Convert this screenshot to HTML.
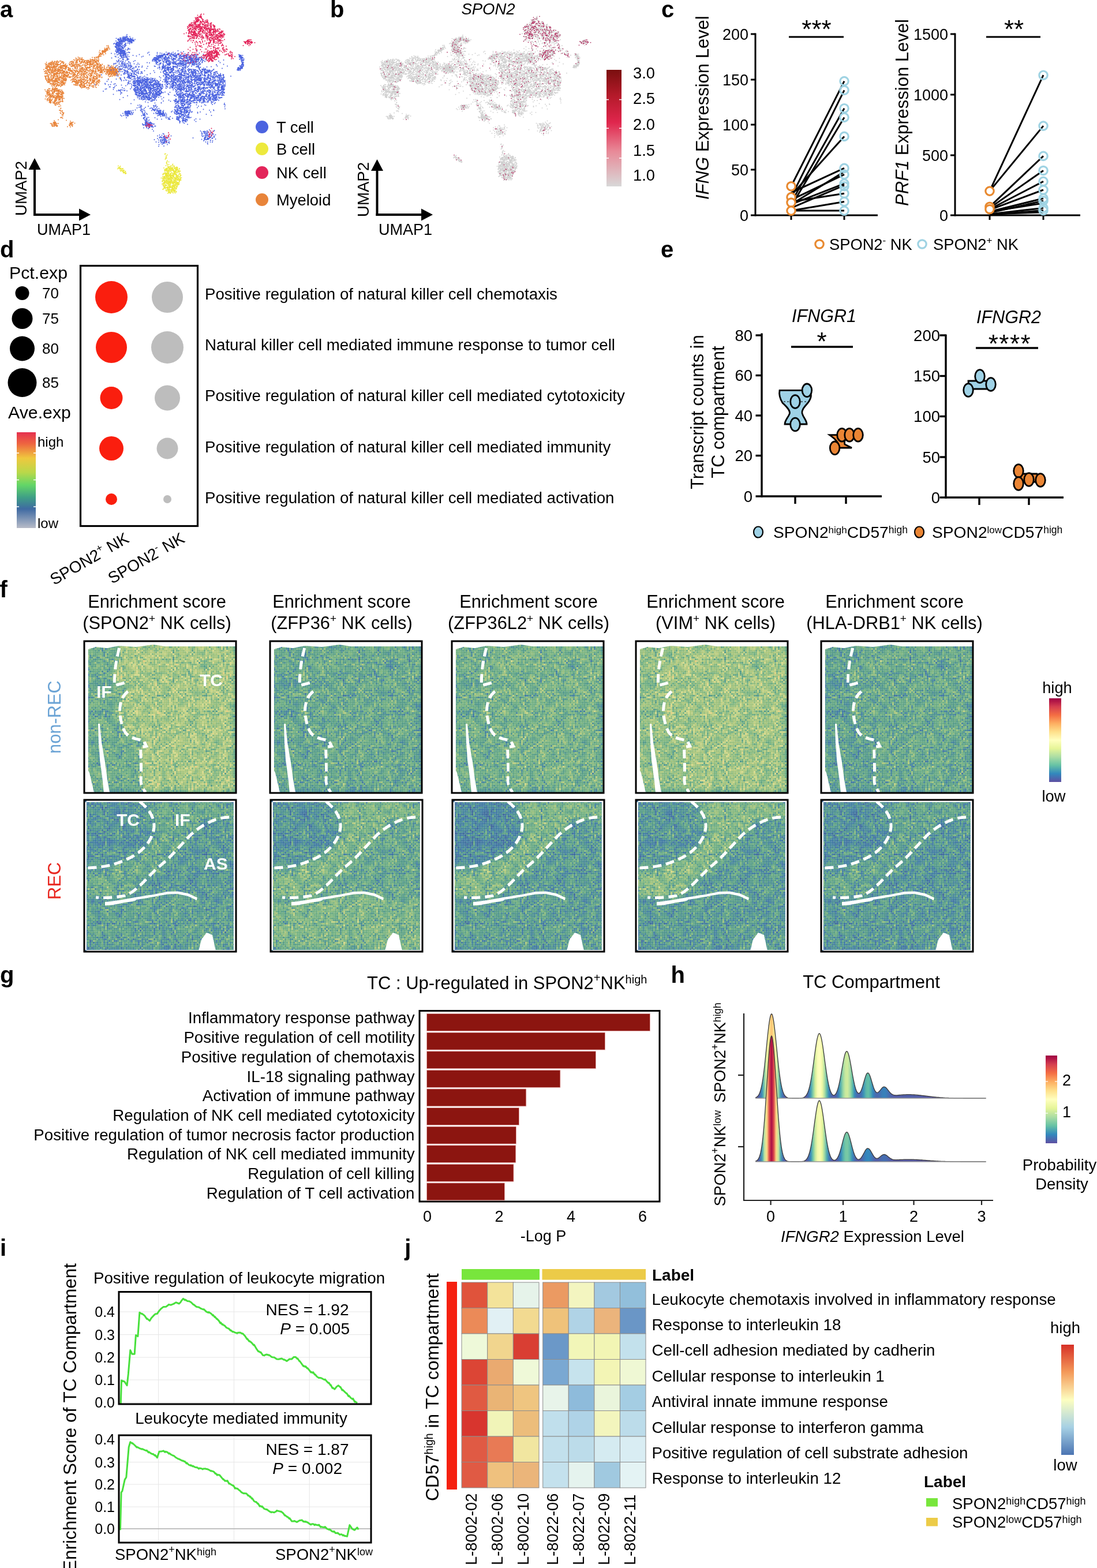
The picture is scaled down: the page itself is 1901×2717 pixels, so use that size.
<!DOCTYPE html>
<html><head><meta charset="utf-8"><title>Figure</title>
<style>html,body{margin:0;padding:0;background:#fff;overflow:hidden;}svg{display:block;}
text{font-family:"Liberation Sans",Arial,Helvetica,sans-serif;}</style></head>
<body><svg width="1901" height="2717" viewBox="0 0 1901 2717">
<rect width="1901" height="2717" fill="#fff"/>
<text x="0" y="30" font-size="40" font-weight="bold">a</text>
<text x="572" y="30" font-size="40" font-weight="bold">b</text>
<text x="1146" y="30" font-size="40" font-weight="bold">c</text>
<text x="0" y="446" font-size="40" font-weight="bold">d</text>
<text x="1145" y="446" font-size="40" font-weight="bold">e</text>
<text x="-0.5" y="1035" font-size="40" font-weight="bold">f</text>
<text x="0" y="1703" font-size="40" font-weight="bold">g</text>
<text x="1162.5" y="1703" font-size="40" font-weight="bold">h</text>
<text x="0" y="2175.5" font-size="40" font-weight="bold">i</text>
<text x="701.2" y="2175.5" font-size="40" font-weight="bold">j</text>
<line x1="60" y1="374" x2="60" y2="292" stroke="#000" stroke-width="4" />
<path d="M49.5 294L60 274L70.5 294z" fill="#000" />
<line x1="58" y1="372" x2="139" y2="372" stroke="#000" stroke-width="4" />
<path d="M137 361.5L157 372L137 382.5z" fill="#000" />
<text x="45.5" y="374" font-size="27.6" transform="rotate(-90 45.5 374)">UMAP2</text>
<text x="64" y="407" font-size="27">UMAP1</text>
<circle cx="454" cy="220" r="11" fill="#4b63e0" />
<text x="479" y="230" font-size="27.4">T cell</text>
<circle cx="454" cy="258" r="11" fill="#ede93d" />
<text x="479" y="268" font-size="27.4">B cell</text>
<circle cx="454" cy="299" r="11" fill="#e3255a" />
<text x="479" y="309" font-size="27.4">NK cell</text>
<circle cx="454" cy="346" r="11" fill="#e8843a" />
<text x="479" y="356" font-size="27.4">Myeloid</text>
<text x="846" y="24.5" font-size="27.5" text-anchor="middle" font-style="italic">SPON2</text>
<line x1="653.5" y1="374" x2="653.5" y2="294" stroke="#000" stroke-width="4" />
<path d="M643 296L653.5 276L664 296z" fill="#000" />
<line x1="651.5" y1="372" x2="732" y2="372" stroke="#000" stroke-width="4" />
<path d="M730 361.5L750 372L730 382.5z" fill="#000" />
<text x="638.5" y="376" font-size="27.6" transform="rotate(-90 638.5 376)">UMAP2</text>
<text x="656" y="407" font-size="27">UMAP1</text>
<defs><linearGradient id="gb" x1="0" y1="0" x2="0" y2="1"><stop offset="0" stop-color="#7a0f0f"/><stop offset="0.22" stop-color="#b41a2a"/><stop offset="0.45" stop-color="#e0264d"/><stop offset="0.7" stop-color="#e88a98"/><stop offset="1" stop-color="#d8d8d8"/></linearGradient></defs>
<rect x="1051" y="121" width="26" height="202" fill="url(#gb)" />
<text x="1097" y="135.8" font-size="27.3">3.0</text>
<text x="1097" y="179.8" font-size="27.3">2.5</text>
<text x="1097" y="224.8" font-size="27.3">2.0</text>
<text x="1097" y="269.8" font-size="27.3">1.5</text>
<text x="1097" y="312.8" font-size="27.3">1.0</text>
<line x1="1051" y1="172.6" x2="1055" y2="172.6" stroke="#fff" stroke-width="1.5" />
<line x1="1073" y1="172.6" x2="1077" y2="172.6" stroke="#fff" stroke-width="1.5" />
<line x1="1051" y1="222.3" x2="1055" y2="222.3" stroke="#fff" stroke-width="1.5" />
<line x1="1073" y1="222.3" x2="1077" y2="222.3" stroke="#fff" stroke-width="1.5" />
<line x1="1051" y1="274" x2="1055" y2="274" stroke="#fff" stroke-width="1.5" />
<line x1="1073" y1="274" x2="1077" y2="274" stroke="#fff" stroke-width="1.5" />
<line x1="1309" y1="57.5" x2="1309" y2="374.5" stroke="#000" stroke-width="3" />
<line x1="1301" y1="59" x2="1309" y2="59" stroke="#000" stroke-width="3" />
<text x="1297" y="68.6" font-size="27" text-anchor="end">200</text>
<line x1="1301" y1="138" x2="1309" y2="138" stroke="#000" stroke-width="3" />
<text x="1297" y="147.6" font-size="27" text-anchor="end">150</text>
<line x1="1301" y1="216" x2="1309" y2="216" stroke="#000" stroke-width="3" />
<text x="1297" y="225.6" font-size="27" text-anchor="end">100</text>
<line x1="1301" y1="294" x2="1309" y2="294" stroke="#000" stroke-width="3" />
<text x="1297" y="303.6" font-size="27" text-anchor="end">50</text>
<line x1="1301" y1="373" x2="1309" y2="373" stroke="#000" stroke-width="3" />
<text x="1297" y="382.6" font-size="27" text-anchor="end">0</text>
<line x1="1309" y1="373" x2="1521" y2="373" stroke="#000" stroke-width="3" />
<line x1="1371" y1="373" x2="1371" y2="381" stroke="#000" stroke-width="3" />
<line x1="1463" y1="373" x2="1463" y2="381" stroke="#000" stroke-width="3" />
<line x1="1367" y1="64" x2="1462" y2="64" stroke="#000" stroke-width="3" />
<text x="1415" y="66" font-size="44" text-anchor="middle">***</text>
<text x="1228" y="346" font-size="31" transform="rotate(-90 1228 346)"><tspan font-style="italic">IFNG</tspan> Expression Level</text>
<line x1="1655" y1="57.5" x2="1655" y2="374.5" stroke="#000" stroke-width="3" />
<line x1="1647" y1="59" x2="1655" y2="59" stroke="#000" stroke-width="3" />
<text x="1643" y="68.6" font-size="27" text-anchor="end">1500</text>
<line x1="1647" y1="164" x2="1655" y2="164" stroke="#000" stroke-width="3" />
<text x="1643" y="173.6" font-size="27" text-anchor="end">1000</text>
<line x1="1647" y1="269" x2="1655" y2="269" stroke="#000" stroke-width="3" />
<text x="1643" y="278.6" font-size="27" text-anchor="end">500</text>
<line x1="1647" y1="373" x2="1655" y2="373" stroke="#000" stroke-width="3" />
<text x="1643" y="382.6" font-size="27" text-anchor="end">0</text>
<line x1="1655" y1="373" x2="1872" y2="373" stroke="#000" stroke-width="3" />
<line x1="1715" y1="373" x2="1715" y2="381" stroke="#000" stroke-width="3" />
<line x1="1808" y1="373" x2="1808" y2="381" stroke="#000" stroke-width="3" />
<line x1="1709" y1="64" x2="1803" y2="64" stroke="#000" stroke-width="3" />
<text x="1757" y="66" font-size="44" text-anchor="middle">**</text>
<text x="1574" y="357" font-size="31" transform="rotate(-90 1574 357)"><tspan font-style="italic">PRF1</tspan> Expression Level</text>
<line x1="1371" y1="322.8" x2="1463" y2="140.6" stroke="#000" stroke-width="3" />
<line x1="1371" y1="341.6" x2="1463" y2="156.3" stroke="#000" stroke-width="3" />
<line x1="1371" y1="351" x2="1463" y2="187.7" stroke="#000" stroke-width="3" />
<line x1="1371" y1="357.3" x2="1463" y2="203.4" stroke="#000" stroke-width="3" />
<line x1="1371" y1="338.5" x2="1463" y2="236.4" stroke="#000" stroke-width="3" />
<line x1="1371" y1="333.8" x2="1463" y2="291.4" stroke="#000" stroke-width="3" />
<line x1="1371" y1="346.3" x2="1463" y2="302.4" stroke="#000" stroke-width="3" />
<line x1="1371" y1="354.2" x2="1463" y2="318.1" stroke="#000" stroke-width="3" />
<line x1="1371" y1="360.4" x2="1463" y2="321.2" stroke="#000" stroke-width="3" />
<line x1="1371" y1="349.4" x2="1463" y2="335.3" stroke="#000" stroke-width="3" />
<line x1="1371" y1="365.1" x2="1463" y2="349.4" stroke="#000" stroke-width="3" />
<line x1="1371" y1="365.1" x2="1463" y2="365.1" stroke="#000" stroke-width="3" />
<line x1="1371" y1="354.2" x2="1463" y2="297.6" stroke="#000" stroke-width="3" />
<circle cx="1371" cy="322.8" r="7.2" fill="#fff" stroke="#e8892f" stroke-width="3.2" />
<circle cx="1371" cy="341.6" r="7.2" fill="#fff" stroke="#e8892f" stroke-width="3.2" />
<circle cx="1371" cy="351" r="7.2" fill="#fff" stroke="#e8892f" stroke-width="3.2" />
<circle cx="1371" cy="365.1" r="7.2" fill="#fff" stroke="#e8892f" stroke-width="3.2" />
<circle cx="1463" cy="140.6" r="7.2" fill="none" stroke="#9fd3e3" stroke-width="3.2" />
<circle cx="1463" cy="156.3" r="7.2" fill="none" stroke="#9fd3e3" stroke-width="3.2" />
<circle cx="1463" cy="187.7" r="7.2" fill="none" stroke="#9fd3e3" stroke-width="3.2" />
<circle cx="1463" cy="203.4" r="7.2" fill="none" stroke="#9fd3e3" stroke-width="3.2" />
<circle cx="1463" cy="236.4" r="7.2" fill="none" stroke="#9fd3e3" stroke-width="3.2" />
<circle cx="1463" cy="291.4" r="7.2" fill="none" stroke="#9fd3e3" stroke-width="3.2" />
<circle cx="1463" cy="302.4" r="7.2" fill="none" stroke="#9fd3e3" stroke-width="3.2" />
<circle cx="1463" cy="318.1" r="7.2" fill="none" stroke="#9fd3e3" stroke-width="3.2" />
<circle cx="1463" cy="322.8" r="7.2" fill="none" stroke="#9fd3e3" stroke-width="3.2" />
<circle cx="1463" cy="335.3" r="7.2" fill="none" stroke="#9fd3e3" stroke-width="3.2" />
<circle cx="1463" cy="349.4" r="7.2" fill="none" stroke="#9fd3e3" stroke-width="3.2" />
<circle cx="1463" cy="365.1" r="7.2" fill="none" stroke="#9fd3e3" stroke-width="3.2" />
<line x1="1715" y1="331.1" x2="1808" y2="130.2" stroke="#000" stroke-width="3" />
<line x1="1715" y1="331.1" x2="1808" y2="218.1" stroke="#000" stroke-width="3" />
<line x1="1715" y1="358.3" x2="1808" y2="270.4" stroke="#000" stroke-width="3" />
<line x1="1715" y1="360.4" x2="1808" y2="295.5" stroke="#000" stroke-width="3" />
<line x1="1715" y1="362.5" x2="1808" y2="314.4" stroke="#000" stroke-width="3" />
<line x1="1715" y1="363.6" x2="1808" y2="329" stroke="#000" stroke-width="3" />
<line x1="1715" y1="366.7" x2="1808" y2="343.7" stroke="#000" stroke-width="3" />
<line x1="1715" y1="368.8" x2="1808" y2="347.9" stroke="#000" stroke-width="3" />
<line x1="1715" y1="370.9" x2="1808" y2="360.4" stroke="#000" stroke-width="3" />
<line x1="1715" y1="372" x2="1808" y2="364.6" stroke="#000" stroke-width="3" />
<line x1="1715" y1="366.7" x2="1808" y2="352.1" stroke="#000" stroke-width="3" />
<line x1="1715" y1="370.9" x2="1808" y2="367.8" stroke="#000" stroke-width="3" />
<circle cx="1715" cy="331.1" r="7.2" fill="#fff" stroke="#e8892f" stroke-width="3.2" />
<circle cx="1715" cy="358.3" r="7.2" fill="#fff" stroke="#e8892f" stroke-width="3.2" />
<circle cx="1715" cy="362.5" r="7.2" fill="#fff" stroke="#e8892f" stroke-width="3.2" />
<circle cx="1808" cy="130.2" r="7.2" fill="none" stroke="#9fd3e3" stroke-width="3.2" />
<circle cx="1808" cy="218.1" r="7.2" fill="none" stroke="#9fd3e3" stroke-width="3.2" />
<circle cx="1808" cy="270.4" r="7.2" fill="none" stroke="#9fd3e3" stroke-width="3.2" />
<circle cx="1808" cy="295.5" r="7.2" fill="none" stroke="#9fd3e3" stroke-width="3.2" />
<circle cx="1808" cy="314.4" r="7.2" fill="none" stroke="#9fd3e3" stroke-width="3.2" />
<circle cx="1808" cy="329" r="7.2" fill="none" stroke="#9fd3e3" stroke-width="3.2" />
<circle cx="1808" cy="343.7" r="7.2" fill="none" stroke="#9fd3e3" stroke-width="3.2" />
<circle cx="1808" cy="347.9" r="7.2" fill="none" stroke="#9fd3e3" stroke-width="3.2" />
<circle cx="1808" cy="360.4" r="7.2" fill="none" stroke="#9fd3e3" stroke-width="3.2" />
<circle cx="1808" cy="364.6" r="7.2" fill="none" stroke="#9fd3e3" stroke-width="3.2" />
<circle cx="1420" cy="423" r="7.2" fill="none" stroke="#e8892f" stroke-width="3.2" />
<text x="1437" y="433" font-size="27.3">SPON2<tspan font-size="17" dy="-11">-</tspan><tspan dy="11"> NK</tspan></text>
<circle cx="1598" cy="423" r="7.2" fill="none" stroke="#9fd3e3" stroke-width="3.2" />
<text x="1617" y="433" font-size="27.3">SPON2<tspan font-size="17" dy="-11">+</tspan><tspan dy="11"> NK</tspan></text>
<text x="16" y="483" font-size="30.3">Pct.exp</text>
<circle cx="38.5" cy="508" r="12" fill="#000" />
<text x="73" y="517.3" font-size="26">70</text>
<circle cx="38.5" cy="552" r="18" fill="#000" />
<text x="73" y="561.3" font-size="26">75</text>
<circle cx="38.5" cy="604" r="21.5" fill="#000" />
<text x="73" y="613.3" font-size="26">80</text>
<circle cx="38.5" cy="663" r="25" fill="#000" />
<text x="73" y="672.3" font-size="26">85</text>
<text x="14" y="724.5" font-size="30.3">Ave.exp</text>
<defs><linearGradient id="gd" x1="0" y1="0" x2="0" y2="1"><stop offset="0" stop-color="#e5304f"/><stop offset="0.12" stop-color="#ee6540"/><stop offset="0.27" stop-color="#efc83e"/><stop offset="0.42" stop-color="#b9d84a"/><stop offset="0.55" stop-color="#63d667"/><stop offset="0.68" stop-color="#3f9f86"/><stop offset="0.8" stop-color="#3f6aa2"/><stop offset="1" stop-color="#b8bcc8"/></linearGradient></defs>
<rect x="29" y="749" width="33" height="166" fill="url(#gd)" />
<line x1="29" y1="785" x2="33" y2="785" stroke="#fff" stroke-width="1.5" />
<line x1="58" y1="785" x2="62" y2="785" stroke="#fff" stroke-width="1.5" />
<line x1="29" y1="831.5" x2="33" y2="831.5" stroke="#fff" stroke-width="1.5" />
<line x1="58" y1="831.5" x2="62" y2="831.5" stroke="#fff" stroke-width="1.5" />
<line x1="29" y1="878" x2="33" y2="878" stroke="#fff" stroke-width="1.5" />
<line x1="58" y1="878" x2="62" y2="878" stroke="#fff" stroke-width="1.5" />
<text x="65" y="774" font-size="24">high</text>
<text x="65" y="915" font-size="24">low</text>
<rect x="139.5" y="460.5" width="203" height="451" fill="none" stroke="#000" stroke-width="3.2" />
<circle cx="193" cy="515" r="28" fill="#fa1e0e" />
<circle cx="290" cy="515" r="27" fill="#bdbdbd" />
<circle cx="193" cy="602" r="27" fill="#fa1e0e" />
<circle cx="290" cy="602" r="28" fill="#bdbdbd" />
<circle cx="193" cy="689.5" r="19.5" fill="#fa1e0e" />
<circle cx="290" cy="689.5" r="22" fill="#bdbdbd" />
<circle cx="193" cy="777" r="21" fill="#fa1e0e" />
<circle cx="290" cy="777" r="18.5" fill="#bdbdbd" />
<circle cx="193" cy="865" r="10" fill="#fa1e0e" />
<circle cx="290" cy="865" r="7" fill="#bdbdbd" />
<text x="355" y="519" font-size="27.7">Positive regulation of natural killer cell chemotaxis</text>
<text x="355" y="607" font-size="27.7">Natural killer cell mediated immune response to tumor cell</text>
<text x="355" y="695" font-size="27.7">Positive regulation of natural killer cell mediated cytotoxicity</text>
<text x="355" y="784" font-size="27.7">Positive regulation of natural killer cell mediated immunity</text>
<text x="355" y="872" font-size="27.7">Positive regulation of natural killer cell mediated activation</text>
<text x="225.5" y="938.5" font-size="28" text-anchor="end" transform="rotate(-30 225.5 938.5)">SPON2<tspan font-size="18" dy="-11">+</tspan><tspan dy="11"> NK</tspan></text>
<text x="322" y="938.5" font-size="28" text-anchor="end" transform="rotate(-30 322 938.5)">SPON2<tspan font-size="18" dy="-11">-</tspan><tspan dy="11"> NK</tspan></text>
<text x="1219" y="714" font-size="30.8" text-anchor="middle" transform="rotate(-90 1219 714)">Transcript counts in</text>
<text x="1255" y="714" font-size="30.8" text-anchor="middle" transform="rotate(-90 1255 714)">TC compartment</text>
<line x1="1320" y1="577.5" x2="1320" y2="861.7" stroke="#000" stroke-width="3.4" />
<line x1="1309.5" y1="581" x2="1320" y2="581" stroke="#000" stroke-width="3.4" />
<text x="1304" y="590.8" font-size="27.5" text-anchor="end">80</text>
<line x1="1309.5" y1="650.5" x2="1320" y2="650.5" stroke="#000" stroke-width="3.4" />
<text x="1304" y="660.3" font-size="27.5" text-anchor="end">60</text>
<line x1="1309.5" y1="720" x2="1320" y2="720" stroke="#000" stroke-width="3.4" />
<text x="1304" y="729.8" font-size="27.5" text-anchor="end">40</text>
<line x1="1309.5" y1="789.5" x2="1320" y2="789.5" stroke="#000" stroke-width="3.4" />
<text x="1304" y="799.3" font-size="27.5" text-anchor="end">20</text>
<line x1="1309.5" y1="860" x2="1320" y2="860" stroke="#000" stroke-width="3.4" />
<text x="1304" y="869.8" font-size="27.5" text-anchor="end">0</text>
<line x1="1320" y1="860" x2="1528" y2="860" stroke="#000" stroke-width="3.4" />
<line x1="1378" y1="860" x2="1378" y2="873" stroke="#000" stroke-width="3.4" />
<line x1="1466" y1="860" x2="1466" y2="873" stroke="#000" stroke-width="3.4" />
<line x1="1639" y1="579.5" x2="1639" y2="863.7" stroke="#000" stroke-width="3.4" />
<line x1="1628.5" y1="581" x2="1639" y2="581" stroke="#000" stroke-width="3.4" />
<text x="1629" y="590.8" font-size="27.5" text-anchor="end">200</text>
<line x1="1628.5" y1="651.5" x2="1639" y2="651.5" stroke="#000" stroke-width="3.4" />
<text x="1629" y="661.3" font-size="27.5" text-anchor="end">150</text>
<line x1="1628.5" y1="721.5" x2="1639" y2="721.5" stroke="#000" stroke-width="3.4" />
<text x="1629" y="731.3" font-size="27.5" text-anchor="end">100</text>
<line x1="1628.5" y1="792" x2="1639" y2="792" stroke="#000" stroke-width="3.4" />
<text x="1629" y="801.8" font-size="27.5" text-anchor="end">50</text>
<line x1="1628.5" y1="862" x2="1639" y2="862" stroke="#000" stroke-width="3.4" />
<text x="1629" y="871.8" font-size="27.5" text-anchor="end">0</text>
<line x1="1639" y1="862" x2="1843" y2="862" stroke="#000" stroke-width="3.4" />
<line x1="1697" y1="862" x2="1697" y2="875" stroke="#000" stroke-width="3.4" />
<line x1="1783" y1="862" x2="1783" y2="875" stroke="#000" stroke-width="3.4" />
<text x="1428" y="558" font-size="30.5" text-anchor="middle" font-style="italic">IFNGR1</text>
<text x="1748" y="560" font-size="30.5" text-anchor="middle" font-style="italic">IFNGR2</text>
<line x1="1371" y1="601" x2="1478" y2="601" stroke="#000" stroke-width="3.4" />
<text x="1424" y="607" font-size="44" text-anchor="middle">*</text>
<line x1="1691" y1="603" x2="1799" y2="603" stroke="#000" stroke-width="3.4" />
<text x="1750" y="611" font-size="44" text-anchor="middle" letter-spacing="1.5">****</text>
<path d="M1351 676.3 L1402 676.3 C1407 682 1406 690 1400 698 C1394 705 1389 710 1390 716 C1392 724 1398 728 1398 735 L1360 735 C1360 728 1367 722 1368.5 716 C1369 710 1362 704 1356 698 C1351 690 1350 682 1351 676.3Z" fill="#9fd2e6" stroke="#000" stroke-width="2.8" />
<line x1="1358" y1="696" x2="1400" y2="696" stroke="#000" stroke-width="1.2" stroke-dasharray="3 3"/>
<path d="M1437.5 753.7 L1470 753.7 C1466 760 1462 764 1464 770 L1476 776 L1450 776 C1455 770 1452 764 1437.5 753.7Z" fill="#ea8534" stroke="#000" stroke-width="2.8" />
<path d="M1678 660 L1712 660 C1718 664 1718 670 1712 674 L1684 674 C1678 670 1678 664 1678 660Z" fill="#9fd2e6" stroke="#000" stroke-width="2.8" />
<path d="M1766 821 L1797 821 C1800 826 1800 830 1797 835 L1766 835 C1764 830 1764 826 1766 821Z" fill="#ea8534" stroke="#000" stroke-width="2.8" />
<ellipse cx="1398.4" cy="676.3" rx="8.3" ry="11.3" fill="#9fd2e6" stroke="#000" stroke-width="2.8"/>
<ellipse cx="1378" cy="696" rx="8.3" ry="11.3" fill="#9fd2e6" stroke="#000" stroke-width="2.8"/>
<ellipse cx="1378" cy="735.5" rx="8.3" ry="11.3" fill="#9fd2e6" stroke="#000" stroke-width="2.8"/>
<ellipse cx="1446.6" cy="776.3" rx="8.3" ry="11.3" fill="#ea8534" stroke="#000" stroke-width="2.8"/>
<ellipse cx="1459" cy="753.7" rx="8.3" ry="11.3" fill="#ea8534" stroke="#000" stroke-width="2.8"/>
<ellipse cx="1472" cy="753.7" rx="8.3" ry="11.3" fill="#ea8534" stroke="#000" stroke-width="2.8"/>
<ellipse cx="1487" cy="753.7" rx="8.3" ry="11.3" fill="#ea8534" stroke="#000" stroke-width="2.8"/>
<ellipse cx="1678" cy="676" rx="8.3" ry="11.3" fill="#9fd2e6" stroke="#000" stroke-width="2.8"/>
<ellipse cx="1698" cy="652" rx="8.3" ry="11.3" fill="#9fd2e6" stroke="#000" stroke-width="2.8"/>
<ellipse cx="1717" cy="666" rx="8.3" ry="11.3" fill="#9fd2e6" stroke="#000" stroke-width="2.8"/>
<ellipse cx="1765" cy="816" rx="8.3" ry="11.3" fill="#ea8534" stroke="#000" stroke-width="2.8"/>
<ellipse cx="1765" cy="838" rx="8.3" ry="11.3" fill="#ea8534" stroke="#000" stroke-width="2.8"/>
<ellipse cx="1783" cy="831" rx="8.3" ry="11.3" fill="#ea8534" stroke="#000" stroke-width="2.8"/>
<ellipse cx="1803" cy="832" rx="8.3" ry="11.3" fill="#ea8534" stroke="#000" stroke-width="2.8"/>
<ellipse cx="1314" cy="922" rx="8" ry="9.5" fill="#9fd2e6" stroke="#000" stroke-width="2.2"/>
<text x="1340" y="932" font-size="28.2">SPON2<tspan font-size="17" dy="-8.5">high</tspan><tspan dy="8.5">CD57</tspan><tspan font-size="17.5" dy="-8.5">high</tspan></text>
<ellipse cx="1593" cy="922" rx="8" ry="9.5" fill="#ea8534" stroke="#000" stroke-width="2.2"/>
<text x="1615" y="932" font-size="28.2">SPON2<tspan font-size="17" dy="-8.5">low</tspan><tspan dy="8.5">CD57</tspan><tspan font-size="17.5" dy="-8.5">high</tspan></text>
<text x="272" y="1053" font-size="30.8" text-anchor="middle">Enrichment score</text>
<text x="272" y="1090" font-size="30.8" text-anchor="middle">(SPON2<tspan font-size="19" dy="-12">+</tspan><tspan dy="12"> NK cells)</tspan></text>
<text x="592" y="1053" font-size="30.8" text-anchor="middle">Enrichment score</text>
<text x="592" y="1090" font-size="30.8" text-anchor="middle">(ZFP36<tspan font-size="19" dy="-12">+</tspan><tspan dy="12"> NK cells)</tspan></text>
<text x="916" y="1053" font-size="30.8" text-anchor="middle">Enrichment score</text>
<text x="916" y="1090" font-size="30.8" text-anchor="middle">(ZFP36L2<tspan font-size="19" dy="-12">+</tspan><tspan dy="12"> NK cells)</tspan></text>
<text x="1240" y="1053" font-size="30.8" text-anchor="middle">Enrichment score</text>
<text x="1240" y="1090" font-size="30.8" text-anchor="middle">(VIM<tspan font-size="19" dy="-12">+</tspan><tspan dy="12"> NK cells)</tspan></text>
<text x="1550" y="1053" font-size="30.8" text-anchor="middle">Enrichment score</text>
<text x="1550" y="1090" font-size="30.8" text-anchor="middle">(HLA-DRB1<tspan font-size="19" dy="-12">+</tspan><tspan dy="12"> NK cells)</tspan></text>
<text x="105" y="1306" font-size="30.8" fill="#6aa3d5" transform="rotate(-90 105 1306)">non-REC</text>
<text x="105" y="1559" font-size="30.8" fill="#e8261f" transform="rotate(-90 105 1559)">REC</text>
<defs><filter id="spf" x="0" y="0" width="1" height="1" color-interpolation-filters="sRGB" primitiveUnits="userSpaceOnUse"><feGaussianBlur in="SourceGraphic" stdDeviation="5" result="b"/><feTurbulence type="fractalNoise" baseFrequency="0.3" numOctaves="1" seed="4" result="n"/><feTurbulence type="fractalNoise" baseFrequency="0.06" numOctaves="2" seed="9" result="n2"/><feComposite in="n" in2="n2" operator="arithmetic" k1="0" k2="0.72" k3="0.28" k4="0" result="nn"/><feColorMatrix in="nn" type="matrix" values="1 0 0 0 0 1 0 0 0 0 1 0 0 0 0 0 0 0 0 1" result="g"/><feComposite in="b" in2="g" operator="arithmetic" k1="0" k2="1" k3="0.8" k4="-0.38" result="v"/><feComponentTransfer in="v" result="col"><feFuncR type="table" tableValues="0.196 0.204 0.282 0.431 0.643 0.831 0.902 0.902 0.847 0.745 0.588"/><feFuncG type="table" tableValues="0.361 0.455 0.580 0.682 0.761 0.847 0.769 0.580 0.369 0.196 0.047"/><feFuncB type="table" tableValues="0.580 0.620 0.502 0.471 0.447 0.510 0.439 0.337 0.259 0.275 0.243"/><feFuncA type="linear" slope="0" intercept="1"/></feComponentTransfer><feFlood flood-color="#fff" x="1" y="1" width="1" height="1" result="dot"/><feComposite in="dot" in2="dot" operator="over" x="0" y="0" width="3" height="3" result="cell"/><feTile in="cell" result="grid"/><feComposite in="col" in2="grid" operator="in" result="samp"/><feMorphology in="samp" operator="dilate" radius="1"/></filter><pattern id="hexp" patternUnits="userSpaceOnUse" width="3" height="3"><path fill="#fff" d="M0 0h1v1h-1zM2 0h1v1h-1zM0 2h1v1h-1zM2 2h1v1h-1z"/></pattern></defs>
<g transform="translate(146 1111)">
<g filter="url(#spf)">
<rect x="0" y="0" width="263" height="263" fill="rgb(92,92,92)" />
<polygon points="0,0 62,0 55.6,35.3 52.3,77 70.7,72 75.8,87 64,100.6 61.5,120.6 65.7,139 69,155.4 85.9,168.8 102.7,172 107.7,182 97.7,183.6 97.7,202 99.3,222.2 97.7,240.8 106,264 0,264" fill="rgb(59,59,59)"/>
</g>
<path d="M0 0H263V9H140L120 6L90 10L60 8L40 12L20 10L7 14V263H0Z" fill="#fff" />
<path d="M0 212L9 228L17 262H0Z M24 143L27 143L30 175L36 210L40 240L44 262L34 262L31 235L27 205L25 175Z" fill="#fff" />
<rect x="0" y="0" width="263" height="263" fill="url(#hexp)" opacity="0.3"/>
<path d="M60.7 11.8C56 30 52 50 52.3 77L70.7 72M75.8 87C66 95 62 105 61.5 120.6C62 135 66 150 71 158C76 165 84 169 102.7 172L107.7 182L97.7 183.6C97.7 200 99.3 222 98 241C98 250 102 255 106 262" fill="none" stroke="#fff" stroke-width="5" stroke-dasharray="15 8"/>
<rect x="0" y="0" width="263" height="263" fill="none" stroke="#000" stroke-width="3" />
<text x="21" y="98" font-size="30" font-weight="bold" fill="#fff">IF</text>
<text x="200" y="78" font-size="30" font-weight="bold" fill="#fff">TC</text>
</g>
<g transform="translate(146 1386)">
<g filter="url(#spf)">
<rect x="0" y="0" width="263" height="263" fill="rgb(41,41,41)" />
<polygon points="96,0 264,0 264,28 251,30 230,30 205,42 185,60 165,80 150,100 128,117 108,135 90,160 70,166 50,170 20,169 0,169 0,118 40,117 60,110 80,100 100,90 118,72 121,48 122,30 112,15" fill="rgb(56,56,56)"/>
<polygon points="0,0 96,0 112,15 122,30 121,48 118,72 100,90 80,100 60,110 40,117 0,118" fill="rgb(36,36,36)"/>
<polygon points="0,172 37,178 70,174 110,170 150,163 170,165 196,174 264,174 264,264 0,264" fill="rgb(48,48,48)"/>
</g>
<path d="M0 0H263V4H0Z M0 0V263H4V0Z M259 0H263V263H259Z M0 260H263V263H0Z" fill="#fff" />
<path d="M198 262L203 242L212 230L222 234L228 262Z" fill="#fff" />
<polygon points="36,177 60,174 88,169 106,166 125,163 144,159 162,158.5 180,162 196,169.5 195,174 180,167 162,163 144,163.5 125,167 106,170.5 90,173 88,175 70,178 50,182 36,183" fill="#fff"/>
<rect x="0" y="0" width="263" height="263" fill="url(#hexp)" opacity="0.3"/>
<path d="M96 3C112 15 122 30 121 48C118 72 100 90 80 100C60 110 40 117 5 118" fill="none" stroke="#fff" stroke-width="5" stroke-dasharray="15 8"/>
<path d="M251 30C230 30 205 42 185 60C165 80 150 100 128 117C108 135 90 160 70 166C50 170 35 170 20 169" fill="none" stroke="#fff" stroke-width="5" stroke-dasharray="15 8"/>
<rect x="0" y="0" width="263" height="263" fill="none" stroke="#000" stroke-width="3" />
<text x="56" y="45" font-size="30" font-weight="bold" fill="#fff">TC</text>
<text x="157" y="45" font-size="30" font-weight="bold" fill="#fff">IF</text>
<text x="207" y="121" font-size="30" font-weight="bold" fill="#fff">AS</text>
</g>
<g transform="translate(468 1111)">
<g filter="url(#spf)">
<rect x="0" y="0" width="263" height="263" fill="rgb(56,56,56)" />
<polygon points="0,0 61,0 54.6,35.3 51.3,77 69.7,72 74.8,87 63,100.6 60.5,120.6 64.7,139 68,155.4 84.9,168.8 101.7,172 106.7,182 96.7,183.6 96.7,202 98.3,222.2 96.7,240.8 105,264 0,264" fill="rgb(51,51,51)"/>
</g>
<path d="M0 0H263V9H140L120 6L90 10L60 8L40 12L20 10L7 14V263H0Z" fill="#fff" />
<path d="M0 212L9 228L17 262H0Z M24 143L27 143L30 175L36 210L40 240L44 262L34 262L31 235L27 205L25 175Z" fill="#fff" />
<rect x="0" y="0" width="263" height="263" fill="url(#hexp)" opacity="0.3"/>
<path d="M59.7 11.8C55 30 51 50 51.3 77L69.7 72M74.8 87C65 95 61 105 60.5 120.6C61 135 65 150 70 158C75 165 83 169 101.7 172L106.7 182L96.7 183.6C96.7 200 98.3 222 97 241C97 250 101 255 105 262" fill="none" stroke="#fff" stroke-width="5" stroke-dasharray="15 8"/>
<rect x="0" y="0" width="263" height="263" fill="none" stroke="#000" stroke-width="3" />
</g>
<g transform="translate(469 1386)">
<g filter="url(#spf)">
<rect x="0" y="0" width="263" height="263" fill="rgb(54,54,54)" />
<polygon points="96,0 264,0 264,28 251,30 230,30 205,42 185,60 165,80 150,100 128,117 108,135 90,160 70,166 50,170 20,169 0,169 0,118 40,117 60,110 80,100 100,90 118,72 121,48 122,30 112,15" fill="rgb(69,69,69)"/>
<polygon points="0,0 96,0 112,15 122,30 121,48 118,72 100,90 80,100 60,110 40,117 0,118" fill="rgb(36,36,36)"/>
<polygon points="0,172 37,178 70,174 110,170 150,163 170,165 196,174 264,174 264,264 0,264" fill="rgb(69,69,69)"/>
</g>
<path d="M0 0H263V4H0Z M0 0V263H4V0Z M259 0H263V263H259Z M0 260H263V263H0Z" fill="#fff" />
<path d="M198 262L203 242L212 230L222 234L228 262Z" fill="#fff" />
<polygon points="36,177 60,174 88,169 106,166 125,163 144,159 162,158.5 180,162 196,169.5 195,174 180,167 162,163 144,163.5 125,167 106,170.5 90,173 88,175 70,178 50,182 36,183" fill="#fff"/>
<rect x="0" y="0" width="263" height="263" fill="url(#hexp)" opacity="0.3"/>
<path d="M96 3C112 15 122 30 121 48C118 72 100 90 80 100C60 110 40 117 5 118" fill="none" stroke="#fff" stroke-width="5" stroke-dasharray="15 8"/>
<path d="M251 30C230 30 205 42 185 60C165 80 150 100 128 117C108 135 90 160 70 166C50 170 35 170 20 169" fill="none" stroke="#fff" stroke-width="5" stroke-dasharray="15 8"/>
<rect x="0" y="0" width="263" height="263" fill="none" stroke="#000" stroke-width="3" />
</g>
<g transform="translate(783 1111)">
<g filter="url(#spf)">
<rect x="0" y="0" width="263" height="263" fill="rgb(66,66,66)" />
<polygon points="0,0 61,0 54.6,35.3 51.3,77 69.7,72 74.8,87 63,100.6 60.5,120.6 64.7,139 68,155.4 84.9,168.8 101.7,172 106.7,182 96.7,183.6 96.7,202 98.3,222.2 96.7,240.8 105,264 0,264" fill="rgb(59,59,59)"/>
</g>
<path d="M0 0H263V9H140L120 6L90 10L60 8L40 12L20 10L7 14V263H0Z" fill="#fff" />
<path d="M0 212L9 228L17 262H0Z M24 143L27 143L30 175L36 210L40 240L44 262L34 262L31 235L27 205L25 175Z" fill="#fff" />
<rect x="0" y="0" width="263" height="263" fill="url(#hexp)" opacity="0.3"/>
<path d="M59.7 11.8C55 30 51 50 51.3 77L69.7 72M74.8 87C65 95 61 105 60.5 120.6C61 135 65 150 70 158C75 165 83 169 101.7 172L106.7 182L96.7 183.6C96.7 200 98.3 222 97 241C97 250 101 255 105 262" fill="none" stroke="#fff" stroke-width="5" stroke-dasharray="15 8"/>
<rect x="0" y="0" width="263" height="263" fill="none" stroke="#000" stroke-width="3" />
</g>
<g transform="translate(784 1386)">
<g filter="url(#spf)">
<rect x="0" y="0" width="263" height="263" fill="rgb(43,43,43)" />
<polygon points="96,0 264,0 264,28 251,30 230,30 205,42 185,60 165,80 150,100 128,117 108,135 90,160 70,166 50,170 20,169 0,169 0,118 40,117 60,110 80,100 100,90 118,72 121,48 122,30 112,15" fill="rgb(69,69,69)"/>
<polygon points="0,0 96,0 112,15 122,30 121,48 118,72 100,90 80,100 60,110 40,117 0,118" fill="rgb(26,26,26)"/>
<polygon points="0,172 37,178 70,174 110,170 150,163 170,165 196,174 264,174 264,264 0,264" fill="rgb(46,46,46)"/>
</g>
<path d="M0 0H263V4H0Z M0 0V263H4V0Z M259 0H263V263H259Z M0 260H263V263H0Z" fill="#fff" />
<path d="M198 262L203 242L212 230L222 234L228 262Z" fill="#fff" />
<polygon points="36,177 60,174 88,169 106,166 125,163 144,159 162,158.5 180,162 196,169.5 195,174 180,167 162,163 144,163.5 125,167 106,170.5 90,173 88,175 70,178 50,182 36,183" fill="#fff"/>
<rect x="0" y="0" width="263" height="263" fill="url(#hexp)" opacity="0.3"/>
<path d="M96 3C112 15 122 30 121 48C118 72 100 90 80 100C60 110 40 117 5 118" fill="none" stroke="#fff" stroke-width="5" stroke-dasharray="15 8"/>
<path d="M251 30C230 30 205 42 185 60C165 80 150 100 128 117C108 135 90 160 70 166C50 170 35 170 20 169" fill="none" stroke="#fff" stroke-width="5" stroke-dasharray="15 8"/>
<rect x="0" y="0" width="263" height="263" fill="none" stroke="#000" stroke-width="3" />
</g>
<g transform="translate(1102 1111)">
<g filter="url(#spf)">
<rect x="0" y="0" width="263" height="263" fill="rgb(89,89,89)" />
<polygon points="0,0 48,0 41.6,35.3 38.3,77 56.7,72 61.8,87 50,100.6 47.5,120.6 51.7,139 55,155.4 71.9,168.8 88.7,172 93.7,182 83.7,183.6 83.7,202 85.3,222.2 83.7,240.8 92,264 0,264" fill="rgb(79,79,79)"/>
</g>
<path d="M0 0H263V9H140L120 6L90 10L60 8L40 12L20 10L7 14V263H0Z" fill="#fff" />
<path d="M0 212L9 228L17 262H0Z M24 143L27 143L30 175L36 210L40 240L44 262L34 262L31 235L27 205L25 175Z" fill="#fff" />
<rect x="0" y="0" width="263" height="263" fill="url(#hexp)" opacity="0.3"/>
<path d="M46.7 11.8C42 30 38 50 38.3 77L56.7 72M61.8 87C52 95 48 105 47.5 120.6C48 135 52 150 57 158C62 165 70 169 88.7 172L93.7 182L83.7 183.6C83.7 200 85.3 222 84 241C84 250 88 255 92 262" fill="none" stroke="#fff" stroke-width="5" stroke-dasharray="15 8"/>
<rect x="0" y="0" width="263" height="263" fill="none" stroke="#000" stroke-width="3" />
</g>
<g transform="translate(1102 1386)">
<g filter="url(#spf)">
<rect x="0" y="0" width="263" height="263" fill="rgb(43,43,43)" />
<polygon points="96,0 264,0 264,28 251,30 230,30 205,42 185,60 165,80 150,100 128,117 108,135 90,160 70,166 50,170 20,169 0,169 0,118 40,117 60,110 80,100 100,90 118,72 121,48 122,30 112,15" fill="rgb(74,74,74)"/>
<polygon points="0,0 96,0 112,15 122,30 121,48 118,72 100,90 80,100 60,110 40,117 0,118" fill="rgb(38,38,38)"/>
<polygon points="0,172 37,178 70,174 110,170 150,163 170,165 196,174 264,174 264,264 0,264" fill="rgb(43,43,43)"/>
</g>
<path d="M0 0H263V4H0Z M0 0V263H4V0Z M259 0H263V263H259Z M0 260H263V263H0Z" fill="#fff" />
<path d="M198 262L203 242L212 230L222 234L228 262Z" fill="#fff" />
<polygon points="36,177 60,174 88,169 106,166 125,163 144,159 162,158.5 180,162 196,169.5 195,174 180,167 162,163 144,163.5 125,167 106,170.5 90,173 88,175 70,178 50,182 36,183" fill="#fff"/>
<rect x="0" y="0" width="263" height="263" fill="url(#hexp)" opacity="0.3"/>
<path d="M96 3C112 15 122 30 121 48C118 72 100 90 80 100C60 110 40 117 5 118" fill="none" stroke="#fff" stroke-width="5" stroke-dasharray="15 8"/>
<path d="M251 30C230 30 205 42 185 60C165 80 150 100 128 117C108 135 90 160 70 166C50 170 35 170 20 169" fill="none" stroke="#fff" stroke-width="5" stroke-dasharray="15 8"/>
<rect x="0" y="0" width="263" height="263" fill="none" stroke="#000" stroke-width="3" />
</g>
<g transform="translate(1423 1111)">
<g filter="url(#spf)">
<rect x="0" y="0" width="263" height="263" fill="rgb(56,56,56)" />
<polygon points="0,0 56,0 49.6,35.3 46.3,77 64.7,72 69.8,87 58,100.6 55.5,120.6 59.7,139 63,155.4 79.9,168.8 96.7,172 101.7,182 91.7,183.6 91.7,202 93.3,222.2 91.7,240.8 100,264 0,264" fill="rgb(46,46,46)"/>
</g>
<path d="M0 0H263V9H140L120 6L90 10L60 8L40 12L20 10L7 14V263H0Z" fill="#fff" />
<path d="M0 212L9 228L17 262H0Z M24 143L27 143L30 175L36 210L40 240L44 262L34 262L31 235L27 205L25 175Z" fill="#fff" />
<rect x="0" y="0" width="263" height="263" fill="url(#hexp)" opacity="0.3"/>
<path d="M54.7 11.8C50 30 46 50 46.3 77L64.7 72M69.8 87C60 95 56 105 55.5 120.6C56 135 60 150 65 158C70 165 78 169 96.7 172L101.7 182L91.7 183.6C91.7 200 93.3 222 92 241C92 250 96 255 100 262" fill="none" stroke="#fff" stroke-width="5" stroke-dasharray="15 8"/>
<rect x="0" y="0" width="263" height="263" fill="none" stroke="#000" stroke-width="3" />
</g>
<g transform="translate(1423 1386)">
<g filter="url(#spf)">
<rect x="0" y="0" width="263" height="263" fill="rgb(38,38,38)" />
<polygon points="96,0 264,0 264,28 251,30 230,30 205,42 185,60 165,80 150,100 128,117 108,135 90,160 70,166 50,170 20,169 0,169 0,118 40,117 60,110 80,100 100,90 118,72 121,48 122,30 112,15" fill="rgb(51,51,51)"/>
<polygon points="0,0 96,0 112,15 122,30 121,48 118,72 100,90 80,100 60,110 40,117 0,118" fill="rgb(33,33,33)"/>
<polygon points="0,172 37,178 70,174 110,170 150,163 170,165 196,174 264,174 264,264 0,264" fill="rgb(41,41,41)"/>
</g>
<path d="M0 0H263V4H0Z M0 0V263H4V0Z M259 0H263V263H259Z M0 260H263V263H0Z" fill="#fff" />
<path d="M198 262L203 242L212 230L222 234L228 262Z" fill="#fff" />
<polygon points="36,177 60,174 88,169 106,166 125,163 144,159 162,158.5 180,162 196,169.5 195,174 180,167 162,163 144,163.5 125,167 106,170.5 90,173 88,175 70,178 50,182 36,183" fill="#fff"/>
<rect x="0" y="0" width="263" height="263" fill="url(#hexp)" opacity="0.3"/>
<path d="M96 3C112 15 122 30 121 48C118 72 100 90 80 100C60 110 40 117 5 118" fill="none" stroke="#fff" stroke-width="5" stroke-dasharray="15 8"/>
<path d="M251 30C230 30 205 42 185 60C165 80 150 100 128 117C108 135 90 160 70 166C50 170 35 170 20 169" fill="none" stroke="#fff" stroke-width="5" stroke-dasharray="15 8"/>
<rect x="0" y="0" width="263" height="263" fill="none" stroke="#000" stroke-width="3" />
</g>
<defs><linearGradient id="gf" x1="0" y1="1" x2="0" y2="0"><stop offset="0.00" stop-color="rgb(94,79,162)"/><stop offset="0.10" stop-color="rgb(50,136,189)"/><stop offset="0.20" stop-color="rgb(102,194,165)"/><stop offset="0.30" stop-color="rgb(171,221,164)"/><stop offset="0.40" stop-color="rgb(230,245,152)"/><stop offset="0.50" stop-color="rgb(255,255,191)"/><stop offset="0.60" stop-color="rgb(254,224,139)"/><stop offset="0.70" stop-color="rgb(253,174,97)"/><stop offset="0.80" stop-color="rgb(244,109,67)"/><stop offset="0.90" stop-color="rgb(213,62,79)"/><stop offset="1.00" stop-color="rgb(158,1,66)"/></linearGradient></defs>
<rect x="1818" y="1210" width="21" height="145" fill="url(#gf)" />
<text x="1832" y="1201" font-size="27.3" text-anchor="middle">high</text>
<text x="1826" y="1389" font-size="27.3" text-anchor="middle">low</text>
<text x="636" y="1714" font-size="31">TC : Up-regulated in SPON2<tspan font-size="20" dy="-13">+</tspan><tspan dy="13">NK</tspan><tspan font-size="20" dy="-10">high</tspan></text>
<rect x="727" y="1751.5" width="416" height="330.5" fill="none" stroke="#000" stroke-width="3" />
<rect x="739.5" y="1756.5" width="386.9" height="30" fill="#8c1510" stroke="#e8b0b0" stroke-width="0.8" />
<text x="718.5" y="1773.4" font-size="27.7" text-anchor="end">Inflammatory response pathway</text>
<rect x="739.5" y="1789.1" width="309.1" height="30" fill="#8c1510" stroke="#e8b0b0" stroke-width="0.8" />
<text x="718.5" y="1807.1" font-size="27.7" text-anchor="end">Positive regulation of cell motility</text>
<rect x="739.5" y="1821.7" width="293" height="30" fill="#8c1510" stroke="#e8b0b0" stroke-width="0.8" />
<text x="718.5" y="1840.8" font-size="27.7" text-anchor="end">Positive regulation of chemotaxis</text>
<rect x="739.5" y="1854.3" width="231.4" height="30" fill="#8c1510" stroke="#e8b0b0" stroke-width="0.8" />
<text x="718.5" y="1874.5" font-size="27.7" text-anchor="end">IL-18 signaling pathway</text>
<rect x="739.5" y="1886.9" width="172.3" height="30" fill="#8c1510" stroke="#e8b0b0" stroke-width="0.8" />
<text x="718.5" y="1908.2" font-size="27.7" text-anchor="end">Activation of immune pathway</text>
<rect x="739.5" y="1919.5" width="159.9" height="30" fill="#8c1510" stroke="#e8b0b0" stroke-width="0.8" />
<text x="718.5" y="1941.9" font-size="27.7" text-anchor="end">Regulation of NK cell mediated cytotoxicity</text>
<rect x="739.5" y="1952.1" width="154.9" height="30" fill="#8c1510" stroke="#e8b0b0" stroke-width="0.8" />
<text x="718.5" y="1975.6" font-size="27.7" text-anchor="end">Positive regulation of tumor necrosis factor production</text>
<rect x="739.5" y="1984.7" width="154.3" height="30" fill="#8c1510" stroke="#e8b0b0" stroke-width="0.8" />
<text x="718.5" y="2009.3" font-size="27.7" text-anchor="end">Regulation of NK cell mediated immunity</text>
<rect x="739.5" y="2017.3" width="150.5" height="30" fill="#8c1510" stroke="#e8b0b0" stroke-width="0.8" />
<text x="718.5" y="2043" font-size="27.7" text-anchor="end">Regulation of cell killing</text>
<rect x="739.5" y="2049.9" width="135" height="30" fill="#8c1510" stroke="#e8b0b0" stroke-width="0.8" />
<text x="718.5" y="2076.7" font-size="27.7" text-anchor="end">Regulation of T cell activation</text>
<text x="740.5" y="2117" font-size="27" text-anchor="middle">0</text>
<text x="865" y="2117" font-size="27" text-anchor="middle">2</text>
<text x="989.5" y="2117" font-size="27" text-anchor="middle">4</text>
<text x="1113.6" y="2117" font-size="27" text-anchor="middle">6</text>
<text x="941.5" y="2151" font-size="27" text-anchor="middle">-Log P</text>
<text x="1510" y="1712" font-size="31" text-anchor="middle">TC Compartment</text>
<defs><linearGradient id="hg1" gradientUnits="userSpaceOnUse" x1="1309" y1="0" x2="1708.5" y2="0"><stop offset="0.000" stop-color="#5c51a3"/><stop offset="0.010" stop-color="#5758a6"/><stop offset="0.020" stop-color="#496baf"/><stop offset="0.030" stop-color="#3e96b7"/><stop offset="0.040" stop-color="#8dd1a4"/><stop offset="0.050" stop-color="#eef8a4"/><stop offset="0.060" stop-color="#fee390"/><stop offset="0.070" stop-color="#fdc473"/><stop offset="0.080" stop-color="#fee28e"/><stop offset="0.090" stop-color="#eff9a6"/><stop offset="0.100" stop-color="#8fd2a4"/><stop offset="0.110" stop-color="#4097b7"/><stop offset="0.120" stop-color="#486baf"/><stop offset="0.130" stop-color="#5758a6"/><stop offset="0.140" stop-color="#5c51a3"/><stop offset="0.150" stop-color="#5e4fa2"/><stop offset="0.160" stop-color="#5e4fa2"/><stop offset="0.170" stop-color="#5e4fa2"/><stop offset="0.180" stop-color="#5e4fa2"/><stop offset="0.190" stop-color="#5e4fa2"/><stop offset="0.200" stop-color="#5d50a2"/><stop offset="0.210" stop-color="#5b53a4"/><stop offset="0.220" stop-color="#555ba8"/><stop offset="0.230" stop-color="#4470b2"/><stop offset="0.240" stop-color="#439bb5"/><stop offset="0.250" stop-color="#85cea5"/><stop offset="0.260" stop-color="#d8ef9b"/><stop offset="0.270" stop-color="#fafdb7"/><stop offset="0.280" stop-color="#ffffbe"/><stop offset="0.290" stop-color="#eef8a5"/><stop offset="0.300" stop-color="#b1dfa3"/><stop offset="0.310" stop-color="#5db8a9"/><stop offset="0.320" stop-color="#3682ba"/><stop offset="0.330" stop-color="#4d65ac"/><stop offset="0.340" stop-color="#545ca8"/><stop offset="0.350" stop-color="#4d65ac"/><stop offset="0.360" stop-color="#3880b9"/><stop offset="0.370" stop-color="#57b1ac"/><stop offset="0.380" stop-color="#98d6a4"/><stop offset="0.390" stop-color="#c8e99e"/><stop offset="0.400" stop-color="#cfec9d"/><stop offset="0.410" stop-color="#aadca4"/><stop offset="0.420" stop-color="#65c1a5"/><stop offset="0.430" stop-color="#368cbb"/><stop offset="0.440" stop-color="#476db0"/><stop offset="0.450" stop-color="#4d65ad"/><stop offset="0.460" stop-color="#4175b4"/><stop offset="0.470" stop-color="#3e96b7"/><stop offset="0.480" stop-color="#5cb6aa"/><stop offset="0.490" stop-color="#64c0a6"/><stop offset="0.500" stop-color="#51abaf"/><stop offset="0.510" stop-color="#3288bd"/><stop offset="0.520" stop-color="#466fb1"/><stop offset="0.530" stop-color="#4b68ae"/><stop offset="0.540" stop-color="#4471b2"/><stop offset="0.550" stop-color="#3a7db8"/><stop offset="0.560" stop-color="#3782ba"/><stop offset="0.570" stop-color="#3d7ab7"/><stop offset="0.580" stop-color="#476db0"/><stop offset="0.590" stop-color="#4f63ab"/><stop offset="0.600" stop-color="#535da9"/><stop offset="0.610" stop-color="#545ca8"/><stop offset="0.620" stop-color="#535da9"/><stop offset="0.630" stop-color="#535ea9"/><stop offset="0.640" stop-color="#525ea9"/><stop offset="0.650" stop-color="#525faa"/><stop offset="0.660" stop-color="#525faa"/><stop offset="0.670" stop-color="#525faa"/><stop offset="0.680" stop-color="#525faa"/><stop offset="0.690" stop-color="#525ea9"/><stop offset="0.700" stop-color="#535ea9"/><stop offset="0.710" stop-color="#545da8"/><stop offset="0.720" stop-color="#545ba8"/><stop offset="0.730" stop-color="#555aa7"/><stop offset="0.740" stop-color="#5659a7"/><stop offset="0.750" stop-color="#5758a6"/><stop offset="0.760" stop-color="#5856a6"/><stop offset="0.770" stop-color="#5955a5"/><stop offset="0.780" stop-color="#5a54a4"/><stop offset="0.790" stop-color="#5b53a4"/><stop offset="0.800" stop-color="#5b52a4"/><stop offset="0.810" stop-color="#5c52a3"/><stop offset="0.820" stop-color="#5c51a3"/><stop offset="0.830" stop-color="#5d51a3"/><stop offset="0.840" stop-color="#5d50a3"/><stop offset="0.850" stop-color="#5d50a2"/><stop offset="0.860" stop-color="#5e50a2"/><stop offset="0.870" stop-color="#5e4fa2"/><stop offset="0.880" stop-color="#5e4fa2"/><stop offset="0.890" stop-color="#5e4fa2"/><stop offset="0.900" stop-color="#5e4fa2"/><stop offset="0.910" stop-color="#5e4fa2"/><stop offset="0.920" stop-color="#5e4fa2"/><stop offset="0.930" stop-color="#5e4fa2"/><stop offset="0.940" stop-color="#5e4fa2"/><stop offset="0.950" stop-color="#5e4fa2"/><stop offset="0.960" stop-color="#5e4fa2"/><stop offset="0.970" stop-color="#5e4fa2"/><stop offset="0.980" stop-color="#5e4fa2"/><stop offset="0.990" stop-color="#5e4fa2"/><stop offset="1.000" stop-color="#5e4fa2"/></linearGradient></defs>
<path d="M1309 1903 L1309 1902.1 L1310 1901.7 L1311 1901.2 L1312 1900.5 L1313 1899.6 L1314 1898.3 L1315 1896.8 L1316 1894.7 L1317 1892.2 L1318 1889.1 L1319 1885.3 L1320 1880.8 L1321 1875.5 L1322 1869.4 L1323 1862.4 L1324 1854.6 L1325 1846 L1326 1836.8 L1327 1827.1 L1328 1817.1 L1329 1807 L1330 1797.1 L1331 1787.7 L1332 1779.1 L1333 1771.6 L1334 1765.4 L1335 1760.8 L1336 1757.9 L1337 1756.9 L1338 1757.7 L1338.9 1760.4 L1339.9 1764.9 L1340.9 1770.9 L1341.9 1778.3 L1342.9 1786.8 L1343.9 1796.2 L1344.9 1806 L1345.9 1816.1 L1346.9 1826.1 L1347.9 1835.9 L1348.9 1845.1 L1349.9 1853.8 L1350.9 1861.6 L1351.9 1868.7 L1352.9 1874.9 L1353.9 1880.3 L1354.9 1884.9 L1355.9 1888.8 L1356.9 1891.9 L1357.9 1894.5 L1358.9 1896.6 L1359.9 1898.2 L1360.9 1899.5 L1361.9 1900.4 L1362.9 1901.1 L1363.9 1901.7 L1364.9 1902.1 L1365.9 1902.4 L1366.9 1902.6 L1367.9 1902.7 L1368.9 1902.8 L1369.9 1902.9 L1370.9 1902.9 L1371.9 1902.9 L1372.9 1903 L1373.9 1903 L1374.9 1903 L1375.9 1903 L1376.9 1903 L1377.9 1903 L1378.9 1903 L1379.9 1903 L1380.9 1903 L1381.9 1903 L1382.9 1903 L1383.9 1903 L1384.9 1902.9 L1385.9 1902.9 L1386.9 1902.8 L1387.9 1902.8 L1388.9 1902.6 L1389.9 1902.5 L1390.9 1902.3 L1391.9 1902 L1392.9 1901.6 L1393.9 1901 L1394.9 1900.3 L1395.9 1899.4 L1396.9 1898.2 L1397.9 1896.7 L1398.9 1894.9 L1399.9 1892.7 L1400.9 1890 L1401.9 1886.7 L1402.9 1883 L1403.9 1878.6 L1404.9 1873.6 L1405.9 1868.1 L1406.9 1862 L1407.9 1855.4 L1408.9 1848.4 L1409.9 1841.1 L1410.9 1833.7 L1411.9 1826.3 L1412.9 1819.1 L1413.9 1812.4 L1414.9 1806.2 L1415.9 1800.9 L1416.9 1796.6 L1417.9 1793.4 L1418.8 1791.5 L1419.8 1790.8 L1420.8 1791.5 L1421.8 1793.5 L1422.8 1796.8 L1423.8 1801.2 L1424.8 1806.5 L1425.8 1812.7 L1426.8 1819.5 L1427.8 1826.7 L1428.8 1834 L1429.8 1841.5 L1430.8 1848.7 L1431.8 1855.7 L1432.8 1862.3 L1433.8 1868.3 L1434.8 1873.8 L1435.8 1878.7 L1436.8 1883 L1437.8 1886.7 L1438.8 1889.8 L1439.8 1892.3 L1440.8 1894.4 L1441.8 1895.9 L1442.8 1897 L1443.8 1897.6 L1444.8 1897.8 L1445.8 1897.7 L1446.8 1897.1 L1447.8 1896 L1448.8 1894.6 L1449.8 1892.6 L1450.8 1890.2 L1451.8 1887.2 L1452.8 1883.7 L1453.8 1879.7 L1454.8 1875.2 L1455.8 1870.3 L1456.8 1865 L1457.8 1859.4 L1458.8 1853.6 L1459.8 1847.9 L1460.8 1842.3 L1461.8 1837.1 L1462.8 1832.3 L1463.8 1828.3 L1464.8 1825.1 L1465.8 1822.9 L1466.8 1821.8 L1467.8 1821.7 L1468.8 1822.8 L1469.8 1824.9 L1470.8 1828 L1471.8 1832 L1472.8 1836.7 L1473.8 1841.9 L1474.8 1847.4 L1475.8 1853.2 L1476.8 1858.9 L1477.8 1864.5 L1478.8 1869.8 L1479.8 1874.7 L1480.8 1879.2 L1481.8 1883.1 L1482.8 1886.5 L1483.8 1889.3 L1484.8 1891.4 L1485.8 1893 L1486.8 1894 L1487.8 1894.5 L1488.8 1894.3 L1489.8 1893.6 L1490.8 1892.3 L1491.8 1890.5 L1492.8 1888.2 L1493.8 1885.5 L1494.8 1882.4 L1495.8 1879 L1496.8 1875.5 L1497.8 1872 L1498.8 1868.6 L1499.7 1865.6 L1500.7 1863 L1501.7 1860.9 L1502.7 1859.6 L1503.7 1859.1 L1504.7 1859.4 L1505.7 1860.4 L1506.7 1862.2 L1507.7 1864.6 L1508.7 1867.5 L1509.7 1870.7 L1510.7 1874.1 L1511.7 1877.5 L1512.7 1880.8 L1513.7 1883.9 L1514.7 1886.6 L1515.7 1888.9 L1516.7 1890.7 L1517.7 1892 L1518.7 1892.9 L1519.7 1893.3 L1520.7 1893.2 L1521.7 1892.8 L1522.7 1892 L1523.7 1891 L1524.7 1889.8 L1525.7 1888.6 L1526.7 1887.3 L1527.7 1886.1 L1528.7 1885 L1529.7 1884.1 L1530.7 1883.5 L1531.7 1883.2 L1532.7 1883.3 L1533.7 1883.6 L1534.7 1884.2 L1535.7 1885 L1536.7 1886.1 L1537.7 1887.3 L1538.7 1888.6 L1539.7 1889.9 L1540.7 1891.2 L1541.7 1892.4 L1542.7 1893.5 L1543.7 1894.5 L1544.7 1895.4 L1545.7 1896 L1546.7 1896.6 L1547.7 1897 L1548.7 1897.4 L1549.7 1897.6 L1550.7 1897.7 L1551.7 1897.8 L1552.7 1897.8 L1553.7 1897.8 L1554.7 1897.8 L1555.7 1897.7 L1556.7 1897.6 L1557.7 1897.5 L1558.7 1897.5 L1559.7 1897.4 L1560.7 1897.3 L1561.7 1897.2 L1562.7 1897.1 L1563.7 1897.1 L1564.7 1897 L1565.7 1896.9 L1566.7 1896.9 L1567.7 1896.8 L1568.7 1896.8 L1569.7 1896.8 L1570.7 1896.7 L1571.7 1896.7 L1572.7 1896.7 L1573.7 1896.7 L1574.7 1896.7 L1575.7 1896.7 L1576.7 1896.7 L1577.7 1896.7 L1578.7 1896.7 L1579.6 1896.8 L1580.6 1896.8 L1581.6 1896.9 L1582.6 1896.9 L1583.6 1897 L1584.6 1897 L1585.6 1897.1 L1586.6 1897.2 L1587.6 1897.2 L1588.6 1897.3 L1589.6 1897.4 L1590.6 1897.5 L1591.6 1897.6 L1592.6 1897.7 L1593.6 1897.8 L1594.6 1897.9 L1595.6 1898 L1596.6 1898.1 L1597.6 1898.3 L1598.6 1898.4 L1599.6 1898.5 L1600.6 1898.6 L1601.6 1898.7 L1602.6 1898.9 L1603.6 1899 L1604.6 1899.1 L1605.6 1899.2 L1606.6 1899.4 L1607.6 1899.5 L1608.6 1899.6 L1609.6 1899.7 L1610.6 1899.9 L1611.6 1900 L1612.6 1900.1 L1613.6 1900.2 L1614.6 1900.3 L1615.6 1900.5 L1616.6 1900.6 L1617.6 1900.7 L1618.6 1900.8 L1619.6 1900.9 L1620.6 1901 L1621.6 1901.1 L1622.6 1901.2 L1623.6 1901.3 L1624.6 1901.4 L1625.6 1901.5 L1626.6 1901.5 L1627.6 1901.6 L1628.6 1901.7 L1629.6 1901.8 L1630.6 1901.8 L1631.6 1901.9 L1632.6 1902 L1633.6 1902 L1634.6 1902.1 L1635.6 1902.2 L1636.6 1902.2 L1637.6 1902.3 L1638.6 1902.3 L1639.6 1902.4 L1640.6 1902.4 L1641.6 1902.4 L1642.6 1902.5 L1643.6 1902.5 L1644.6 1902.6 L1645.6 1902.6 L1646.6 1902.6 L1647.6 1902.6 L1648.6 1902.7 L1649.6 1902.7 L1650.6 1902.7 L1651.6 1902.7 L1652.6 1902.8 L1653.6 1902.8 L1654.6 1902.8 L1655.6 1902.8 L1656.6 1902.8 L1657.6 1902.8 L1658.6 1902.9 L1659.6 1902.9 L1660.5 1902.9 L1661.5 1902.9 L1662.5 1902.9 L1663.5 1902.9 L1664.5 1902.9 L1665.5 1902.9 L1666.5 1902.9 L1667.5 1902.9 L1668.5 1902.9 L1669.5 1903 L1670.5 1903 L1671.5 1903 L1672.5 1903 L1673.5 1903 L1674.5 1903 L1675.5 1903 L1676.5 1903 L1677.5 1903 L1678.5 1903 L1679.5 1903 L1680.5 1903 L1681.5 1903 L1682.5 1903 L1683.5 1903 L1684.5 1903 L1685.5 1903 L1686.5 1903 L1687.5 1903 L1688.5 1903 L1689.5 1903 L1690.5 1903 L1691.5 1903 L1692.5 1903 L1693.5 1903 L1694.5 1903 L1695.5 1903 L1696.5 1903 L1697.5 1903 L1698.5 1903 L1699.5 1903 L1700.5 1903 L1701.5 1903 L1702.5 1903 L1703.5 1903 L1704.5 1903 L1705.5 1903 L1706.5 1903 L1707.5 1903 L1708.5 1903 L1708.5 1903 Z" fill="url(#hg1)" />
<path d="M1309 1902.1 L1310 1901.7 L1311 1901.2 L1312 1900.5 L1313 1899.6 L1314 1898.3 L1315 1896.8 L1316 1894.7 L1317 1892.2 L1318 1889.1 L1319 1885.3 L1320 1880.8 L1321 1875.5 L1322 1869.4 L1323 1862.4 L1324 1854.6 L1325 1846 L1326 1836.8 L1327 1827.1 L1328 1817.1 L1329 1807 L1330 1797.1 L1331 1787.7 L1332 1779.1 L1333 1771.6 L1334 1765.4 L1335 1760.8 L1336 1757.9 L1337 1756.9 L1338 1757.7 L1338.9 1760.4 L1339.9 1764.9 L1340.9 1770.9 L1341.9 1778.3 L1342.9 1786.8 L1343.9 1796.2 L1344.9 1806 L1345.9 1816.1 L1346.9 1826.1 L1347.9 1835.9 L1348.9 1845.1 L1349.9 1853.8 L1350.9 1861.6 L1351.9 1868.7 L1352.9 1874.9 L1353.9 1880.3 L1354.9 1884.9 L1355.9 1888.8 L1356.9 1891.9 L1357.9 1894.5 L1358.9 1896.6 L1359.9 1898.2 L1360.9 1899.5 L1361.9 1900.4 L1362.9 1901.1 L1363.9 1901.7 L1364.9 1902.1 L1365.9 1902.4 L1366.9 1902.6 L1367.9 1902.7 L1368.9 1902.8 L1369.9 1902.9 L1370.9 1902.9 L1371.9 1902.9 L1372.9 1903 L1373.9 1903 L1374.9 1903 L1375.9 1903 L1376.9 1903 L1377.9 1903 L1378.9 1903 L1379.9 1903 L1380.9 1903 L1381.9 1903 L1382.9 1903 L1383.9 1903 L1384.9 1902.9 L1385.9 1902.9 L1386.9 1902.8 L1387.9 1902.8 L1388.9 1902.6 L1389.9 1902.5 L1390.9 1902.3 L1391.9 1902 L1392.9 1901.6 L1393.9 1901 L1394.9 1900.3 L1395.9 1899.4 L1396.9 1898.2 L1397.9 1896.7 L1398.9 1894.9 L1399.9 1892.7 L1400.9 1890 L1401.9 1886.7 L1402.9 1883 L1403.9 1878.6 L1404.9 1873.6 L1405.9 1868.1 L1406.9 1862 L1407.9 1855.4 L1408.9 1848.4 L1409.9 1841.1 L1410.9 1833.7 L1411.9 1826.3 L1412.9 1819.1 L1413.9 1812.4 L1414.9 1806.2 L1415.9 1800.9 L1416.9 1796.6 L1417.9 1793.4 L1418.8 1791.5 L1419.8 1790.8 L1420.8 1791.5 L1421.8 1793.5 L1422.8 1796.8 L1423.8 1801.2 L1424.8 1806.5 L1425.8 1812.7 L1426.8 1819.5 L1427.8 1826.7 L1428.8 1834 L1429.8 1841.5 L1430.8 1848.7 L1431.8 1855.7 L1432.8 1862.3 L1433.8 1868.3 L1434.8 1873.8 L1435.8 1878.7 L1436.8 1883 L1437.8 1886.7 L1438.8 1889.8 L1439.8 1892.3 L1440.8 1894.4 L1441.8 1895.9 L1442.8 1897 L1443.8 1897.6 L1444.8 1897.8 L1445.8 1897.7 L1446.8 1897.1 L1447.8 1896 L1448.8 1894.6 L1449.8 1892.6 L1450.8 1890.2 L1451.8 1887.2 L1452.8 1883.7 L1453.8 1879.7 L1454.8 1875.2 L1455.8 1870.3 L1456.8 1865 L1457.8 1859.4 L1458.8 1853.6 L1459.8 1847.9 L1460.8 1842.3 L1461.8 1837.1 L1462.8 1832.3 L1463.8 1828.3 L1464.8 1825.1 L1465.8 1822.9 L1466.8 1821.8 L1467.8 1821.7 L1468.8 1822.8 L1469.8 1824.9 L1470.8 1828 L1471.8 1832 L1472.8 1836.7 L1473.8 1841.9 L1474.8 1847.4 L1475.8 1853.2 L1476.8 1858.9 L1477.8 1864.5 L1478.8 1869.8 L1479.8 1874.7 L1480.8 1879.2 L1481.8 1883.1 L1482.8 1886.5 L1483.8 1889.3 L1484.8 1891.4 L1485.8 1893 L1486.8 1894 L1487.8 1894.5 L1488.8 1894.3 L1489.8 1893.6 L1490.8 1892.3 L1491.8 1890.5 L1492.8 1888.2 L1493.8 1885.5 L1494.8 1882.4 L1495.8 1879 L1496.8 1875.5 L1497.8 1872 L1498.8 1868.6 L1499.7 1865.6 L1500.7 1863 L1501.7 1860.9 L1502.7 1859.6 L1503.7 1859.1 L1504.7 1859.4 L1505.7 1860.4 L1506.7 1862.2 L1507.7 1864.6 L1508.7 1867.5 L1509.7 1870.7 L1510.7 1874.1 L1511.7 1877.5 L1512.7 1880.8 L1513.7 1883.9 L1514.7 1886.6 L1515.7 1888.9 L1516.7 1890.7 L1517.7 1892 L1518.7 1892.9 L1519.7 1893.3 L1520.7 1893.2 L1521.7 1892.8 L1522.7 1892 L1523.7 1891 L1524.7 1889.8 L1525.7 1888.6 L1526.7 1887.3 L1527.7 1886.1 L1528.7 1885 L1529.7 1884.1 L1530.7 1883.5 L1531.7 1883.2 L1532.7 1883.3 L1533.7 1883.6 L1534.7 1884.2 L1535.7 1885 L1536.7 1886.1 L1537.7 1887.3 L1538.7 1888.6 L1539.7 1889.9 L1540.7 1891.2 L1541.7 1892.4 L1542.7 1893.5 L1543.7 1894.5 L1544.7 1895.4 L1545.7 1896 L1546.7 1896.6 L1547.7 1897 L1548.7 1897.4 L1549.7 1897.6 L1550.7 1897.7 L1551.7 1897.8 L1552.7 1897.8 L1553.7 1897.8 L1554.7 1897.8 L1555.7 1897.7 L1556.7 1897.6 L1557.7 1897.5 L1558.7 1897.5 L1559.7 1897.4 L1560.7 1897.3 L1561.7 1897.2 L1562.7 1897.1 L1563.7 1897.1 L1564.7 1897 L1565.7 1896.9 L1566.7 1896.9 L1567.7 1896.8 L1568.7 1896.8 L1569.7 1896.8 L1570.7 1896.7 L1571.7 1896.7 L1572.7 1896.7 L1573.7 1896.7 L1574.7 1896.7 L1575.7 1896.7 L1576.7 1896.7 L1577.7 1896.7 L1578.7 1896.7 L1579.6 1896.8 L1580.6 1896.8 L1581.6 1896.9 L1582.6 1896.9 L1583.6 1897 L1584.6 1897 L1585.6 1897.1 L1586.6 1897.2 L1587.6 1897.2 L1588.6 1897.3 L1589.6 1897.4 L1590.6 1897.5 L1591.6 1897.6 L1592.6 1897.7 L1593.6 1897.8 L1594.6 1897.9 L1595.6 1898 L1596.6 1898.1 L1597.6 1898.3 L1598.6 1898.4 L1599.6 1898.5 L1600.6 1898.6 L1601.6 1898.7 L1602.6 1898.9 L1603.6 1899 L1604.6 1899.1 L1605.6 1899.2 L1606.6 1899.4 L1607.6 1899.5 L1608.6 1899.6 L1609.6 1899.7 L1610.6 1899.9 L1611.6 1900 L1612.6 1900.1 L1613.6 1900.2 L1614.6 1900.3 L1615.6 1900.5 L1616.6 1900.6 L1617.6 1900.7 L1618.6 1900.8 L1619.6 1900.9 L1620.6 1901 L1621.6 1901.1 L1622.6 1901.2 L1623.6 1901.3 L1624.6 1901.4 L1625.6 1901.5 L1626.6 1901.5 L1627.6 1901.6 L1628.6 1901.7 L1629.6 1901.8 L1630.6 1901.8 L1631.6 1901.9 L1632.6 1902 L1633.6 1902 L1634.6 1902.1 L1635.6 1902.2 L1636.6 1902.2 L1637.6 1902.3 L1638.6 1902.3 L1639.6 1902.4 L1640.6 1902.4 L1641.6 1902.4 L1642.6 1902.5 L1643.6 1902.5 L1644.6 1902.6 L1645.6 1902.6 L1646.6 1902.6 L1647.6 1902.6 L1648.6 1902.7 L1649.6 1902.7 L1650.6 1902.7 L1651.6 1902.7 L1652.6 1902.8 L1653.6 1902.8 L1654.6 1902.8 L1655.6 1902.8 L1656.6 1902.8 L1657.6 1902.8 L1658.6 1902.9 L1659.6 1902.9 L1660.5 1902.9 L1661.5 1902.9 L1662.5 1902.9 L1663.5 1902.9 L1664.5 1902.9 L1665.5 1902.9 L1666.5 1902.9 L1667.5 1902.9 L1668.5 1902.9 L1669.5 1903 L1670.5 1903 L1671.5 1903 L1672.5 1903 L1673.5 1903 L1674.5 1903 L1675.5 1903 L1676.5 1903 L1677.5 1903 L1678.5 1903 L1679.5 1903 L1680.5 1903 L1681.5 1903 L1682.5 1903 L1683.5 1903 L1684.5 1903 L1685.5 1903 L1686.5 1903 L1687.5 1903 L1688.5 1903 L1689.5 1903 L1690.5 1903 L1691.5 1903 L1692.5 1903 L1693.5 1903 L1694.5 1903 L1695.5 1903 L1696.5 1903 L1697.5 1903 L1698.5 1903 L1699.5 1903 L1700.5 1903 L1701.5 1903 L1702.5 1903 L1703.5 1903 L1704.5 1903 L1705.5 1903 L1706.5 1903 L1707.5 1903 L1708.5 1903" fill="none" stroke="#3a3a3a" stroke-width="1.3" />
<line x1="1309" y1="1903" x2="1708.5" y2="1903" stroke="#999" stroke-width="1.3" />
<defs><linearGradient id="hg2" gradientUnits="userSpaceOnUse" x1="1309" y1="0" x2="1708.5" y2="0"><stop offset="0.000" stop-color="#5d51a3"/><stop offset="0.010" stop-color="#5857a6"/><stop offset="0.020" stop-color="#476db0"/><stop offset="0.030" stop-color="#4ca5b1"/><stop offset="0.040" stop-color="#c3e79f"/><stop offset="0.050" stop-color="#feda86"/><stop offset="0.060" stop-color="#de4c4b"/><stop offset="0.070" stop-color="#a90d45"/><stop offset="0.080" stop-color="#dd4a4c"/><stop offset="0.090" stop-color="#fed783"/><stop offset="0.100" stop-color="#c7e89e"/><stop offset="0.110" stop-color="#4ea7b0"/><stop offset="0.120" stop-color="#466eb1"/><stop offset="0.130" stop-color="#5758a6"/><stop offset="0.140" stop-color="#5d51a3"/><stop offset="0.150" stop-color="#5e4fa2"/><stop offset="0.160" stop-color="#5e4fa2"/><stop offset="0.170" stop-color="#5e4fa2"/><stop offset="0.180" stop-color="#5e4fa2"/><stop offset="0.190" stop-color="#5e4fa2"/><stop offset="0.200" stop-color="#5e50a2"/><stop offset="0.210" stop-color="#5c51a3"/><stop offset="0.220" stop-color="#5758a6"/><stop offset="0.230" stop-color="#4a69ae"/><stop offset="0.240" stop-color="#388eba"/><stop offset="0.250" stop-color="#72c7a5"/><stop offset="0.260" stop-color="#c7e89e"/><stop offset="0.270" stop-color="#f2faab"/><stop offset="0.280" stop-color="#f8fcb4"/><stop offset="0.290" stop-color="#e7f59a"/><stop offset="0.300" stop-color="#9ed8a4"/><stop offset="0.310" stop-color="#50aaaf"/><stop offset="0.320" stop-color="#3e78b6"/><stop offset="0.330" stop-color="#525faa"/><stop offset="0.340" stop-color="#5956a5"/><stop offset="0.350" stop-color="#5759a7"/><stop offset="0.360" stop-color="#4b68ae"/><stop offset="0.370" stop-color="#3485bc"/><stop offset="0.380" stop-color="#53adae"/><stop offset="0.390" stop-color="#73c7a5"/><stop offset="0.400" stop-color="#79c9a5"/><stop offset="0.410" stop-color="#5db8a9"/><stop offset="0.420" stop-color="#3990ba"/><stop offset="0.430" stop-color="#466fb1"/><stop offset="0.440" stop-color="#535da8"/><stop offset="0.450" stop-color="#5659a7"/><stop offset="0.460" stop-color="#4f63ab"/><stop offset="0.470" stop-color="#4174b4"/><stop offset="0.480" stop-color="#3485bc"/><stop offset="0.490" stop-color="#348abc"/><stop offset="0.500" stop-color="#397fb9"/><stop offset="0.510" stop-color="#476db0"/><stop offset="0.520" stop-color="#5160aa"/><stop offset="0.530" stop-color="#525ea9"/><stop offset="0.540" stop-color="#4e64ac"/><stop offset="0.550" stop-color="#476cb0"/><stop offset="0.560" stop-color="#456fb1"/><stop offset="0.570" stop-color="#496aaf"/><stop offset="0.580" stop-color="#4f62ab"/><stop offset="0.590" stop-color="#545ba8"/><stop offset="0.600" stop-color="#5758a6"/><stop offset="0.610" stop-color="#5857a6"/><stop offset="0.620" stop-color="#5758a6"/><stop offset="0.630" stop-color="#5758a6"/><stop offset="0.640" stop-color="#5759a7"/><stop offset="0.650" stop-color="#5659a7"/><stop offset="0.660" stop-color="#5659a7"/><stop offset="0.670" stop-color="#5659a7"/><stop offset="0.680" stop-color="#5659a7"/><stop offset="0.690" stop-color="#5759a7"/><stop offset="0.700" stop-color="#5758a6"/><stop offset="0.710" stop-color="#5757a6"/><stop offset="0.720" stop-color="#5857a6"/><stop offset="0.730" stop-color="#5956a5"/><stop offset="0.740" stop-color="#5955a5"/><stop offset="0.750" stop-color="#5a54a5"/><stop offset="0.760" stop-color="#5a54a4"/><stop offset="0.770" stop-color="#5b53a4"/><stop offset="0.780" stop-color="#5c52a4"/><stop offset="0.790" stop-color="#5c52a3"/><stop offset="0.800" stop-color="#5c51a3"/><stop offset="0.810" stop-color="#5d51a3"/><stop offset="0.820" stop-color="#5d50a3"/><stop offset="0.830" stop-color="#5d50a2"/><stop offset="0.840" stop-color="#5d50a2"/><stop offset="0.850" stop-color="#5e50a2"/><stop offset="0.860" stop-color="#5e4fa2"/><stop offset="0.870" stop-color="#5e4fa2"/><stop offset="0.880" stop-color="#5e4fa2"/><stop offset="0.890" stop-color="#5e4fa2"/><stop offset="0.900" stop-color="#5e4fa2"/><stop offset="0.910" stop-color="#5e4fa2"/><stop offset="0.920" stop-color="#5e4fa2"/><stop offset="0.930" stop-color="#5e4fa2"/><stop offset="0.940" stop-color="#5e4fa2"/><stop offset="0.950" stop-color="#5e4fa2"/><stop offset="0.960" stop-color="#5e4fa2"/><stop offset="0.970" stop-color="#5e4fa2"/><stop offset="0.980" stop-color="#5e4fa2"/><stop offset="0.990" stop-color="#5e4fa2"/><stop offset="1.000" stop-color="#5e4fa2"/></linearGradient></defs>
<path d="M1309 2013 L1309 2012.3 L1310 2011.9 L1311 2011.4 L1312 2010.7 L1313 2009.7 L1314 2008.4 L1315 2006.6 L1316 2004.3 L1317 2001.3 L1318 1997.4 L1319 1992.6 L1320 1986.7 L1321 1979.5 L1322 1971 L1323 1961.1 L1324 1949.8 L1325 1937.1 L1326 1923.2 L1327 1908.4 L1328 1892.8 L1329 1876.9 L1330 1861.1 L1331 1845.9 L1332 1831.8 L1333 1819.5 L1334 1809.2 L1335 1801.5 L1336 1796.7 L1337 1795 L1338 1796.4 L1338.9 1800.9 L1339.9 1808.3 L1340.9 1818.4 L1341.9 1830.6 L1342.9 1844.5 L1343.9 1859.6 L1344.9 1875.3 L1345.9 1891.2 L1346.9 1906.9 L1347.9 1921.8 L1348.9 1935.8 L1349.9 1948.6 L1350.9 1960 L1351.9 1970.1 L1352.9 1978.7 L1353.9 1986 L1354.9 1992.1 L1355.9 1997 L1356.9 2000.9 L1357.9 2004 L1358.9 2006.4 L1359.9 2008.3 L1360.9 2009.6 L1361.9 2010.6 L1362.9 2011.4 L1363.9 2011.9 L1364.9 2012.3 L1365.9 2012.5 L1366.9 2012.7 L1367.9 2012.8 L1368.9 2012.9 L1369.9 2012.9 L1370.9 2013 L1371.9 2013 L1372.9 2013 L1373.9 2013 L1374.9 2013 L1375.9 2013 L1376.9 2013 L1377.9 2013 L1378.9 2013 L1379.9 2013 L1380.9 2013 L1381.9 2013 L1382.9 2013 L1383.9 2013 L1384.9 2013 L1385.9 2012.9 L1386.9 2012.9 L1387.9 2012.9 L1388.9 2012.8 L1389.9 2012.7 L1390.9 2012.5 L1391.9 2012.3 L1392.9 2012.1 L1393.9 2011.7 L1394.9 2011.1 L1395.9 2010.5 L1396.9 2009.5 L1397.9 2008.4 L1398.9 2006.9 L1399.9 2005 L1400.9 2002.8 L1401.9 2000 L1402.9 1996.7 L1403.9 1992.8 L1404.9 1988.3 L1405.9 1983.2 L1406.9 1977.5 L1407.9 1971.2 L1408.9 1964.5 L1409.9 1957.5 L1410.9 1950.2 L1411.9 1942.9 L1412.9 1935.8 L1413.9 1929 L1414.9 1922.8 L1415.9 1917.5 L1416.9 1913 L1417.9 1909.8 L1418.8 1907.8 L1419.8 1907.1 L1420.8 1907.9 L1421.8 1909.9 L1422.8 1913.2 L1423.8 1917.7 L1424.8 1923.1 L1425.8 1929.3 L1426.8 1936.1 L1427.8 1943.3 L1428.8 1950.6 L1429.8 1957.8 L1430.8 1964.9 L1431.8 1971.6 L1432.8 1977.8 L1433.8 1983.4 L1434.8 1988.5 L1435.8 1993 L1436.8 1996.8 L1437.8 2000.1 L1438.8 2002.8 L1439.8 2005 L1440.8 2006.8 L1441.8 2008.2 L1442.8 2009.2 L1443.8 2009.9 L1444.8 2010.3 L1445.8 2010.4 L1446.8 2010.3 L1447.8 2009.9 L1448.8 2009.2 L1449.8 2008.2 L1450.8 2007 L1451.8 2005.3 L1452.8 2003.4 L1453.8 2001 L1454.8 1998.3 L1455.8 1995.2 L1456.8 1991.8 L1457.8 1988.1 L1458.8 1984.2 L1459.8 1980.3 L1460.8 1976.4 L1461.8 1972.8 L1462.8 1969.4 L1463.8 1966.5 L1464.8 1964.2 L1465.8 1962.6 L1466.8 1961.8 L1467.8 1961.7 L1468.8 1962.5 L1469.8 1964.1 L1470.8 1966.3 L1471.8 1969.2 L1472.8 1972.5 L1473.8 1976.2 L1474.8 1980 L1475.8 1983.9 L1476.8 1987.8 L1477.8 1991.4 L1478.8 1994.9 L1479.8 1998 L1480.8 2000.7 L1481.8 2003 L1482.8 2004.9 L1483.8 2006.5 L1484.8 2007.7 L1485.8 2008.5 L1486.8 2008.9 L1487.8 2009.1 L1488.8 2008.9 L1489.8 2008.4 L1490.8 2007.7 L1491.8 2006.7 L1492.8 2005.4 L1493.8 2003.9 L1494.8 2002.2 L1495.8 2000.4 L1496.8 1998.5 L1497.8 1996.7 L1498.8 1994.9 L1499.7 1993.2 L1500.7 1991.9 L1501.7 1990.8 L1502.7 1990.1 L1503.7 1989.8 L1504.7 1990 L1505.7 1990.5 L1506.7 1991.4 L1507.7 1992.7 L1508.7 1994.2 L1509.7 1995.9 L1510.7 1997.7 L1511.7 1999.4 L1512.7 2001.2 L1513.7 2002.7 L1514.7 2004.1 L1515.7 2005.3 L1516.7 2006.2 L1517.7 2006.8 L1518.7 2007.2 L1519.7 2007.3 L1520.7 2007.1 L1521.7 2006.8 L1522.7 2006.2 L1523.7 2005.5 L1524.7 2004.7 L1525.7 2003.9 L1526.7 2003.1 L1527.7 2002.3 L1528.7 2001.6 L1529.7 2001 L1530.7 2000.6 L1531.7 2000.5 L1532.7 2000.5 L1533.7 2000.7 L1534.7 2001.1 L1535.7 2001.6 L1536.7 2002.3 L1537.7 2003 L1538.7 2003.9 L1539.7 2004.7 L1540.7 2005.5 L1541.7 2006.3 L1542.7 2007 L1543.7 2007.6 L1544.7 2008.2 L1545.7 2008.6 L1546.7 2009 L1547.7 2009.3 L1548.7 2009.5 L1549.7 2009.6 L1550.7 2009.7 L1551.7 2009.7 L1552.7 2009.8 L1553.7 2009.7 L1554.7 2009.7 L1555.7 2009.7 L1556.7 2009.6 L1557.7 2009.6 L1558.7 2009.5 L1559.7 2009.5 L1560.7 2009.4 L1561.7 2009.4 L1562.7 2009.3 L1563.7 2009.3 L1564.7 2009.3 L1565.7 2009.2 L1566.7 2009.2 L1567.7 2009.1 L1568.7 2009.1 L1569.7 2009.1 L1570.7 2009.1 L1571.7 2009.1 L1572.7 2009.1 L1573.7 2009.1 L1574.7 2009.1 L1575.7 2009.1 L1576.7 2009.1 L1577.7 2009.1 L1578.7 2009.1 L1579.6 2009.1 L1580.6 2009.1 L1581.6 2009.2 L1582.6 2009.2 L1583.6 2009.2 L1584.6 2009.3 L1585.6 2009.3 L1586.6 2009.4 L1587.6 2009.4 L1588.6 2009.5 L1589.6 2009.5 L1590.6 2009.6 L1591.6 2009.6 L1592.6 2009.7 L1593.6 2009.8 L1594.6 2009.8 L1595.6 2009.9 L1596.6 2010 L1597.6 2010 L1598.6 2010.1 L1599.6 2010.2 L1600.6 2010.3 L1601.6 2010.3 L1602.6 2010.4 L1603.6 2010.5 L1604.6 2010.6 L1605.6 2010.7 L1606.6 2010.7 L1607.6 2010.8 L1608.6 2010.9 L1609.6 2011 L1610.6 2011 L1611.6 2011.1 L1612.6 2011.2 L1613.6 2011.3 L1614.6 2011.3 L1615.6 2011.4 L1616.6 2011.5 L1617.6 2011.5 L1618.6 2011.6 L1619.6 2011.7 L1620.6 2011.7 L1621.6 2011.8 L1622.6 2011.9 L1623.6 2011.9 L1624.6 2012 L1625.6 2012 L1626.6 2012.1 L1627.6 2012.1 L1628.6 2012.2 L1629.6 2012.2 L1630.6 2012.3 L1631.6 2012.3 L1632.6 2012.4 L1633.6 2012.4 L1634.6 2012.4 L1635.6 2012.5 L1636.6 2012.5 L1637.6 2012.5 L1638.6 2012.6 L1639.6 2012.6 L1640.6 2012.6 L1641.6 2012.7 L1642.6 2012.7 L1643.6 2012.7 L1644.6 2012.7 L1645.6 2012.7 L1646.6 2012.8 L1647.6 2012.8 L1648.6 2012.8 L1649.6 2012.8 L1650.6 2012.8 L1651.6 2012.8 L1652.6 2012.9 L1653.6 2012.9 L1654.6 2012.9 L1655.6 2012.9 L1656.6 2012.9 L1657.6 2012.9 L1658.6 2012.9 L1659.6 2012.9 L1660.5 2012.9 L1661.5 2012.9 L1662.5 2012.9 L1663.5 2012.9 L1664.5 2013 L1665.5 2013 L1666.5 2013 L1667.5 2013 L1668.5 2013 L1669.5 2013 L1670.5 2013 L1671.5 2013 L1672.5 2013 L1673.5 2013 L1674.5 2013 L1675.5 2013 L1676.5 2013 L1677.5 2013 L1678.5 2013 L1679.5 2013 L1680.5 2013 L1681.5 2013 L1682.5 2013 L1683.5 2013 L1684.5 2013 L1685.5 2013 L1686.5 2013 L1687.5 2013 L1688.5 2013 L1689.5 2013 L1690.5 2013 L1691.5 2013 L1692.5 2013 L1693.5 2013 L1694.5 2013 L1695.5 2013 L1696.5 2013 L1697.5 2013 L1698.5 2013 L1699.5 2013 L1700.5 2013 L1701.5 2013 L1702.5 2013 L1703.5 2013 L1704.5 2013 L1705.5 2013 L1706.5 2013 L1707.5 2013 L1708.5 2013 L1708.5 2013 Z" fill="url(#hg2)" />
<path d="M1309 2012.3 L1310 2011.9 L1311 2011.4 L1312 2010.7 L1313 2009.7 L1314 2008.4 L1315 2006.6 L1316 2004.3 L1317 2001.3 L1318 1997.4 L1319 1992.6 L1320 1986.7 L1321 1979.5 L1322 1971 L1323 1961.1 L1324 1949.8 L1325 1937.1 L1326 1923.2 L1327 1908.4 L1328 1892.8 L1329 1876.9 L1330 1861.1 L1331 1845.9 L1332 1831.8 L1333 1819.5 L1334 1809.2 L1335 1801.5 L1336 1796.7 L1337 1795 L1338 1796.4 L1338.9 1800.9 L1339.9 1808.3 L1340.9 1818.4 L1341.9 1830.6 L1342.9 1844.5 L1343.9 1859.6 L1344.9 1875.3 L1345.9 1891.2 L1346.9 1906.9 L1347.9 1921.8 L1348.9 1935.8 L1349.9 1948.6 L1350.9 1960 L1351.9 1970.1 L1352.9 1978.7 L1353.9 1986 L1354.9 1992.1 L1355.9 1997 L1356.9 2000.9 L1357.9 2004 L1358.9 2006.4 L1359.9 2008.3 L1360.9 2009.6 L1361.9 2010.6 L1362.9 2011.4 L1363.9 2011.9 L1364.9 2012.3 L1365.9 2012.5 L1366.9 2012.7 L1367.9 2012.8 L1368.9 2012.9 L1369.9 2012.9 L1370.9 2013 L1371.9 2013 L1372.9 2013 L1373.9 2013 L1374.9 2013 L1375.9 2013 L1376.9 2013 L1377.9 2013 L1378.9 2013 L1379.9 2013 L1380.9 2013 L1381.9 2013 L1382.9 2013 L1383.9 2013 L1384.9 2013 L1385.9 2012.9 L1386.9 2012.9 L1387.9 2012.9 L1388.9 2012.8 L1389.9 2012.7 L1390.9 2012.5 L1391.9 2012.3 L1392.9 2012.1 L1393.9 2011.7 L1394.9 2011.1 L1395.9 2010.5 L1396.9 2009.5 L1397.9 2008.4 L1398.9 2006.9 L1399.9 2005 L1400.9 2002.8 L1401.9 2000 L1402.9 1996.7 L1403.9 1992.8 L1404.9 1988.3 L1405.9 1983.2 L1406.9 1977.5 L1407.9 1971.2 L1408.9 1964.5 L1409.9 1957.5 L1410.9 1950.2 L1411.9 1942.9 L1412.9 1935.8 L1413.9 1929 L1414.9 1922.8 L1415.9 1917.5 L1416.9 1913 L1417.9 1909.8 L1418.8 1907.8 L1419.8 1907.1 L1420.8 1907.9 L1421.8 1909.9 L1422.8 1913.2 L1423.8 1917.7 L1424.8 1923.1 L1425.8 1929.3 L1426.8 1936.1 L1427.8 1943.3 L1428.8 1950.6 L1429.8 1957.8 L1430.8 1964.9 L1431.8 1971.6 L1432.8 1977.8 L1433.8 1983.4 L1434.8 1988.5 L1435.8 1993 L1436.8 1996.8 L1437.8 2000.1 L1438.8 2002.8 L1439.8 2005 L1440.8 2006.8 L1441.8 2008.2 L1442.8 2009.2 L1443.8 2009.9 L1444.8 2010.3 L1445.8 2010.4 L1446.8 2010.3 L1447.8 2009.9 L1448.8 2009.2 L1449.8 2008.2 L1450.8 2007 L1451.8 2005.3 L1452.8 2003.4 L1453.8 2001 L1454.8 1998.3 L1455.8 1995.2 L1456.8 1991.8 L1457.8 1988.1 L1458.8 1984.2 L1459.8 1980.3 L1460.8 1976.4 L1461.8 1972.8 L1462.8 1969.4 L1463.8 1966.5 L1464.8 1964.2 L1465.8 1962.6 L1466.8 1961.8 L1467.8 1961.7 L1468.8 1962.5 L1469.8 1964.1 L1470.8 1966.3 L1471.8 1969.2 L1472.8 1972.5 L1473.8 1976.2 L1474.8 1980 L1475.8 1983.9 L1476.8 1987.8 L1477.8 1991.4 L1478.8 1994.9 L1479.8 1998 L1480.8 2000.7 L1481.8 2003 L1482.8 2004.9 L1483.8 2006.5 L1484.8 2007.7 L1485.8 2008.5 L1486.8 2008.9 L1487.8 2009.1 L1488.8 2008.9 L1489.8 2008.4 L1490.8 2007.7 L1491.8 2006.7 L1492.8 2005.4 L1493.8 2003.9 L1494.8 2002.2 L1495.8 2000.4 L1496.8 1998.5 L1497.8 1996.7 L1498.8 1994.9 L1499.7 1993.2 L1500.7 1991.9 L1501.7 1990.8 L1502.7 1990.1 L1503.7 1989.8 L1504.7 1990 L1505.7 1990.5 L1506.7 1991.4 L1507.7 1992.7 L1508.7 1994.2 L1509.7 1995.9 L1510.7 1997.7 L1511.7 1999.4 L1512.7 2001.2 L1513.7 2002.7 L1514.7 2004.1 L1515.7 2005.3 L1516.7 2006.2 L1517.7 2006.8 L1518.7 2007.2 L1519.7 2007.3 L1520.7 2007.1 L1521.7 2006.8 L1522.7 2006.2 L1523.7 2005.5 L1524.7 2004.7 L1525.7 2003.9 L1526.7 2003.1 L1527.7 2002.3 L1528.7 2001.6 L1529.7 2001 L1530.7 2000.6 L1531.7 2000.5 L1532.7 2000.5 L1533.7 2000.7 L1534.7 2001.1 L1535.7 2001.6 L1536.7 2002.3 L1537.7 2003 L1538.7 2003.9 L1539.7 2004.7 L1540.7 2005.5 L1541.7 2006.3 L1542.7 2007 L1543.7 2007.6 L1544.7 2008.2 L1545.7 2008.6 L1546.7 2009 L1547.7 2009.3 L1548.7 2009.5 L1549.7 2009.6 L1550.7 2009.7 L1551.7 2009.7 L1552.7 2009.8 L1553.7 2009.7 L1554.7 2009.7 L1555.7 2009.7 L1556.7 2009.6 L1557.7 2009.6 L1558.7 2009.5 L1559.7 2009.5 L1560.7 2009.4 L1561.7 2009.4 L1562.7 2009.3 L1563.7 2009.3 L1564.7 2009.3 L1565.7 2009.2 L1566.7 2009.2 L1567.7 2009.1 L1568.7 2009.1 L1569.7 2009.1 L1570.7 2009.1 L1571.7 2009.1 L1572.7 2009.1 L1573.7 2009.1 L1574.7 2009.1 L1575.7 2009.1 L1576.7 2009.1 L1577.7 2009.1 L1578.7 2009.1 L1579.6 2009.1 L1580.6 2009.1 L1581.6 2009.2 L1582.6 2009.2 L1583.6 2009.2 L1584.6 2009.3 L1585.6 2009.3 L1586.6 2009.4 L1587.6 2009.4 L1588.6 2009.5 L1589.6 2009.5 L1590.6 2009.6 L1591.6 2009.6 L1592.6 2009.7 L1593.6 2009.8 L1594.6 2009.8 L1595.6 2009.9 L1596.6 2010 L1597.6 2010 L1598.6 2010.1 L1599.6 2010.2 L1600.6 2010.3 L1601.6 2010.3 L1602.6 2010.4 L1603.6 2010.5 L1604.6 2010.6 L1605.6 2010.7 L1606.6 2010.7 L1607.6 2010.8 L1608.6 2010.9 L1609.6 2011 L1610.6 2011 L1611.6 2011.1 L1612.6 2011.2 L1613.6 2011.3 L1614.6 2011.3 L1615.6 2011.4 L1616.6 2011.5 L1617.6 2011.5 L1618.6 2011.6 L1619.6 2011.7 L1620.6 2011.7 L1621.6 2011.8 L1622.6 2011.9 L1623.6 2011.9 L1624.6 2012 L1625.6 2012 L1626.6 2012.1 L1627.6 2012.1 L1628.6 2012.2 L1629.6 2012.2 L1630.6 2012.3 L1631.6 2012.3 L1632.6 2012.4 L1633.6 2012.4 L1634.6 2012.4 L1635.6 2012.5 L1636.6 2012.5 L1637.6 2012.5 L1638.6 2012.6 L1639.6 2012.6 L1640.6 2012.6 L1641.6 2012.7 L1642.6 2012.7 L1643.6 2012.7 L1644.6 2012.7 L1645.6 2012.7 L1646.6 2012.8 L1647.6 2012.8 L1648.6 2012.8 L1649.6 2012.8 L1650.6 2012.8 L1651.6 2012.8 L1652.6 2012.9 L1653.6 2012.9 L1654.6 2012.9 L1655.6 2012.9 L1656.6 2012.9 L1657.6 2012.9 L1658.6 2012.9 L1659.6 2012.9 L1660.5 2012.9 L1661.5 2012.9 L1662.5 2012.9 L1663.5 2012.9 L1664.5 2013 L1665.5 2013 L1666.5 2013 L1667.5 2013 L1668.5 2013 L1669.5 2013 L1670.5 2013 L1671.5 2013 L1672.5 2013 L1673.5 2013 L1674.5 2013 L1675.5 2013 L1676.5 2013 L1677.5 2013 L1678.5 2013 L1679.5 2013 L1680.5 2013 L1681.5 2013 L1682.5 2013 L1683.5 2013 L1684.5 2013 L1685.5 2013 L1686.5 2013 L1687.5 2013 L1688.5 2013 L1689.5 2013 L1690.5 2013 L1691.5 2013 L1692.5 2013 L1693.5 2013 L1694.5 2013 L1695.5 2013 L1696.5 2013 L1697.5 2013 L1698.5 2013 L1699.5 2013 L1700.5 2013 L1701.5 2013 L1702.5 2013 L1703.5 2013 L1704.5 2013 L1705.5 2013 L1706.5 2013 L1707.5 2013 L1708.5 2013" fill="none" stroke="#3a3a3a" stroke-width="1.3" />
<line x1="1309" y1="2013" x2="1708.5" y2="2013" stroke="#999" stroke-width="1.3" />
<line x1="1289" y1="1756" x2="1289" y2="2081" stroke="#222" stroke-width="2.2" />
<line x1="1288" y1="2080" x2="1721" y2="2080" stroke="#222" stroke-width="2.2" />
<line x1="1279" y1="1863" x2="1289" y2="1863" stroke="#222" stroke-width="2.2" />
<line x1="1279" y1="1987" x2="1289" y2="1987" stroke="#222" stroke-width="2.2" />
<line x1="1335.6" y1="2080" x2="1335.6" y2="2088" stroke="#222" stroke-width="2.2" />
<text x="1335.6" y="2117" font-size="27" text-anchor="middle">0</text>
<line x1="1461" y1="2080" x2="1461" y2="2088" stroke="#222" stroke-width="2.2" />
<text x="1461" y="2117" font-size="27" text-anchor="middle">1</text>
<line x1="1583.5" y1="2080" x2="1583.5" y2="2088" stroke="#222" stroke-width="2.2" />
<text x="1583.5" y="2117" font-size="27" text-anchor="middle">2</text>
<line x1="1701" y1="2080" x2="1701" y2="2088" stroke="#222" stroke-width="2.2" />
<text x="1701" y="2117" font-size="27" text-anchor="middle">3</text>
<text x="1512" y="2152" font-size="27.5" text-anchor="middle"><tspan font-style="italic">IFNGR2</tspan> Expression Level</text>
<text x="1257" y="1824" font-size="27" text-anchor="middle" transform="rotate(-90 1257 1824)">SPON2<tspan font-size="18" dy="-12">+</tspan><tspan dy="12">NK</tspan><tspan font-size="18" dy="-8.5">high</tspan></text>
<text x="1257" y="2007" font-size="27" text-anchor="middle" transform="rotate(-90 1257 2007)">SPON2<tspan font-size="18" dy="-12">+</tspan><tspan dy="12">NK</tspan><tspan font-size="18" dy="-8.5">low</tspan></text>
<defs><linearGradient id="hcb" x1="0" y1="1" x2="0" y2="0"><stop offset="0.00" stop-color="rgb(94,79,162)"/><stop offset="0.10" stop-color="rgb(50,136,189)"/><stop offset="0.20" stop-color="rgb(102,194,165)"/><stop offset="0.30" stop-color="rgb(171,221,164)"/><stop offset="0.40" stop-color="rgb(230,245,152)"/><stop offset="0.50" stop-color="rgb(255,255,191)"/><stop offset="0.60" stop-color="rgb(254,224,139)"/><stop offset="0.70" stop-color="rgb(253,174,97)"/><stop offset="0.80" stop-color="rgb(244,109,67)"/><stop offset="0.90" stop-color="rgb(213,62,79)"/><stop offset="1.00" stop-color="rgb(158,1,66)"/></linearGradient></defs>
<rect x="1812" y="1829" width="20" height="152" fill="url(#hcb)" />
<line x1="1812" y1="1874" x2="1816" y2="1874" stroke="#fff" stroke-width="1.2" />
<line x1="1828" y1="1874" x2="1832" y2="1874" stroke="#fff" stroke-width="1.2" />
<text x="1841" y="1880.5" font-size="27">2</text>
<line x1="1812" y1="1929" x2="1816" y2="1929" stroke="#fff" stroke-width="1.2" />
<line x1="1828" y1="1929" x2="1832" y2="1929" stroke="#fff" stroke-width="1.2" />
<text x="1841" y="1935.5" font-size="27">1</text>
<text x="1836" y="2028" font-size="27.5" text-anchor="middle">Probability</text>
<text x="1840" y="2061" font-size="27.5" text-anchor="middle">Density</text>
<text x="131.5" y="2189" font-size="31.5" text-anchor="end" transform="rotate(-90 131.5 2189)">Enrichment Score of TC Compartment</text>
<text x="414.5" y="2224" font-size="27.8" text-anchor="middle">Positive regulation of leukocyte migration</text>
<line x1="206" y1="2273" x2="643" y2="2273" stroke="#e6e6e6" stroke-width="1" />
<line x1="206" y1="2312.6" x2="643" y2="2312.6" stroke="#e6e6e6" stroke-width="1" />
<line x1="206" y1="2352" x2="643" y2="2352" stroke="#e6e6e6" stroke-width="1" />
<line x1="206" y1="2391" x2="643" y2="2391" stroke="#e6e6e6" stroke-width="1" />
<line x1="206" y1="2430" x2="643" y2="2430" stroke="#e6e6e6" stroke-width="1" />
<line x1="274.6" y1="2238.5" x2="274.6" y2="2433" stroke="#e6e6e6" stroke-width="1" />
<line x1="405.4" y1="2238.5" x2="405.4" y2="2433" stroke="#e6e6e6" stroke-width="1" />
<line x1="536.2" y1="2238.5" x2="536.2" y2="2433" stroke="#e6e6e6" stroke-width="1" />
<path d="M209.2 2433.3 L210.5 2391.9 L215.8 2394.1 L220.1 2400.7 L222.3 2381 L225.8 2339.6 L228.9 2346.2 L233.2 2346.2 L235.4 2313.5 L238.9 2315.6 L241.9 2274.2 L245.7 2276.9 L246.3 2276.3 L250.7 2279.9 L254.4 2285.4 L255 2284.8 L259.4 2288.6 L262 2284.3 L262.6 2283.6 L265.9 2279.9 L268.6 2277.3 L269.2 2276.7 L272.4 2276.4 L275.1 2272.4 L275.7 2271.4 L279 2267.7 L282.7 2264.9 L283.3 2264.5 L287.7 2264.2 L291.5 2261.6 L292.1 2260.6 L296.4 2261.2 L300.2 2259.5 L300.8 2259.4 L305.1 2256.8 L310.4 2259 L313.3 2255.9 L313.9 2254.7 L317.3 2250.3 L320.5 2252.8 L321.1 2252.1 L324.8 2254.6 L327.4 2254.8 L328 2254.8 L331.3 2256.8 L335.1 2260.6 L335.7 2260.5 L340 2264.2 L343.8 2265.1 L344.4 2264.9 L348.7 2267.7 L352.5 2269.1 L353.1 2268.5 L357.5 2272.9 L361.2 2274.5 L361.8 2273.5 L366.2 2276.4 L368.8 2279.5 L369.4 2278.7 L372.1 2282.5 L372.7 2281.7 L375.4 2285.5 L376 2285.1 L379.3 2288.6 L381.9 2292.9 L382.5 2291.7 L385.2 2295.4 L385.8 2294.5 L388.5 2297 L389.1 2296.7 L392.3 2300.4 L395.5 2302 L396.1 2301.9 L399.4 2305.4 L400 2305 L403.2 2307.8 L403.8 2307.4 L407.6 2309.1 L411.3 2310.3 L411.9 2309.3 L416.3 2309.1 L420.1 2311.1 L420.7 2310.8 L425 2315.6 L428.1 2320.3 L428.7 2319.8 L431.7 2324.2 L432.3 2323.7 L435.9 2326.5 L439.7 2330.9 L440.3 2330.1 L444.6 2337.4 L447.7 2341.8 L448.3 2341.5 L451.3 2343.6 L451.9 2343.2 L455.5 2348.3 L458.2 2348.9 L458.8 2348 L462.1 2347 L465.8 2348.2 L466.4 2347.9 L470.8 2351.4 L474.6 2352.1 L475.2 2352 L479.5 2354.9 L483.3 2355.2 L483.9 2355 L488.2 2354 L492 2356.3 L492.6 2355.8 L496.9 2358.4 L500.7 2355.8 L501.3 2354.9 L505.7 2354.9 L508.3 2352.2 L508.9 2351.4 L512.2 2351.4 L515.2 2354.5 L515.8 2354 L518.9 2358.8 L519.5 2358.5 L523.1 2363.6 L525.8 2367.5 L526.4 2366.6 L529 2368.5 L529.6 2367.5 L532.3 2371 L532.9 2370.5 L536.2 2374.5 L538.9 2378.1 L539.5 2377.4 L542.1 2378.9 L542.7 2377.7 L545.4 2381.9 L546 2381.6 L549.3 2385.4 L552.3 2387.6 L552.9 2387.2 L555.9 2387.8 L556.5 2387.7 L560.2 2389.8 L562.8 2390.9 L563.4 2390.2 L566.7 2394.1 L569.4 2396.7 L570 2396 L572.6 2400.3 L573.2 2399.8 L575.9 2405.1 L576.5 2404.5 L579.8 2407.2 L582.4 2404.1 L583 2403.1 L586.3 2400.7 L589.3 2403.5 L589.9 2403.3 L593 2409 L593.6 2408 L597.2 2411.6 L600.2 2414.5 L600.8 2414.3 L603.9 2419.4 L604.5 2418.3 L608.1 2422.4 L611.1 2424.6 L611.7 2423.4 L614.8 2429.3 L615.4 2428.5 L619 2431.2" fill="none" stroke="#48e03c" stroke-width="3" stroke-linejoin="round"/>
<rect x="206" y="2238.5" width="437" height="194.5" fill="none" stroke="#000" stroke-width="3" />
<text x="199" y="2282" font-size="25" text-anchor="end">0.4</text>
<text x="199" y="2321.6" font-size="25" text-anchor="end">0.3</text>
<text x="199" y="2361" font-size="25" text-anchor="end">0.2</text>
<text x="199" y="2400" font-size="25" text-anchor="end">0.1</text>
<text x="199" y="2439" font-size="25" text-anchor="end">0.0</text>
<text x="604.5" y="2279" font-size="28" text-anchor="end">NES = 1.92</text>
<text x="606" y="2312" font-size="28" text-anchor="end"><tspan font-style="italic">P</tspan> = 0.005</text>
<text x="418" y="2467" font-size="27.8" text-anchor="middle">Leukocyte mediated immunity</text>
<line x1="206" y1="2494" x2="643" y2="2494" stroke="#e6e6e6" stroke-width="1" />
<line x1="206" y1="2533.6" x2="643" y2="2533.6" stroke="#e6e6e6" stroke-width="1" />
<line x1="206" y1="2572" x2="643" y2="2572" stroke="#e6e6e6" stroke-width="1" />
<line x1="206" y1="2611" x2="643" y2="2611" stroke="#e6e6e6" stroke-width="1" />
<line x1="206" y1="2649" x2="643" y2="2649" stroke="#e6e6e6" stroke-width="1" />
<line x1="274.6" y1="2487" x2="274.6" y2="2673" stroke="#e6e6e6" stroke-width="1" />
<line x1="405.4" y1="2487" x2="405.4" y2="2673" stroke="#e6e6e6" stroke-width="1" />
<line x1="536.2" y1="2487" x2="536.2" y2="2673" stroke="#e6e6e6" stroke-width="1" />
<line x1="206" y1="2649" x2="643" y2="2649" stroke="#b0b0b0" stroke-width="1.3" />
<path d="M208.4 2651.3 L210.1 2585.9 L211.9 2583.7 L216.2 2564.1 L218.8 2559.8 L223.2 2507.5 L225.8 2498.7 L228.9 2501.2 L229.5 2500.6 L233.2 2504 L237 2507.9 L237.6 2507.3 L241.9 2509.6 L245.7 2511.2 L246.3 2510.5 L250.7 2512.7 L253.7 2513.8 L254.3 2513.1 L257.3 2516.8 L257.9 2515.8 L261.6 2518.4 L264.6 2519.8 L265.2 2519.4 L268.2 2522.2 L268.8 2521.3 L272.4 2525.8 L275.9 2515.3 L279 2515.1 L279.6 2515.1 L283.3 2514 L286 2516.3 L286.6 2515.2 L289.9 2516.2 L292.6 2518.8 L293.2 2518 L296.4 2520.5 L300.2 2522.3 L300.8 2522.2 L305.1 2525.8 L308.9 2528 L309.5 2527.9 L313.9 2530.1 L316.5 2531.3 L317.1 2531 L319.8 2532.8 L320.4 2532.3 L323.1 2535.9 L323.7 2534.8 L326.9 2538 L330 2539.5 L330.6 2538.7 L333.6 2540.9 L334.2 2540.1 L337.8 2542.3 L340.9 2542.9 L341.5 2542.6 L344.5 2545.1 L345.1 2543.9 L348.7 2544.5 L351.4 2545.9 L352 2545.1 L354.7 2545.1 L355.3 2544.8 L357.9 2545.6 L358.5 2545.5 L361.8 2546.7 L365.6 2549.1 L366.2 2548.6 L370.5 2550.2 L373.2 2553.5 L373.8 2553 L376.5 2556.2 L377.1 2555.1 L379.7 2556.1 L380.3 2555.8 L383.6 2559.8 L386.5 2563.4 L387.1 2562.9 L390 2566.2 L390.6 2565.8 L393.5 2566.5 L394.1 2565.7 L397 2571 L397.6 2570.6 L401 2572.8 L403.9 2574.4 L404.5 2574 L407.4 2579.3 L408 2578.4 L410.9 2579.7 L411.5 2579.4 L414.4 2582.3 L415 2582.2 L418.5 2585.9 L422.2 2587.8 L422.8 2587.6 L427.2 2588.1 L429.9 2591.5 L430.5 2591 L433.1 2593.8 L433.7 2593 L436.4 2596.9 L437 2596.2 L440.3 2601.2 L443.2 2602.8 L443.8 2602.3 L446.7 2605.7 L447.3 2605.3 L450.1 2610.2 L450.7 2609.3 L453.6 2611.1 L454.2 2610.1 L457.7 2614.3 L461.5 2615.7 L462.1 2615.2 L466.4 2618.6 L470.2 2620.6 L470.8 2619.9 L475.2 2620.8 L478.9 2618.7 L479.5 2617.5 L483.9 2618.6 L486.5 2619.4 L487.1 2619.1 L490.4 2621.7 L493.6 2626 L494.2 2625.6 L497.4 2628.3 L498 2628.2 L501.3 2631.4 L501.9 2630.7 L505.7 2636.1 L509.4 2636 L510 2635.3 L514.4 2637.4 L518.1 2635.3 L518.7 2634.7 L523.1 2633.9 L525.8 2636.7 L526.4 2636.1 L529 2637.3 L529.6 2636.3 L532.3 2638 L532.9 2637.8 L536.2 2640.4 L538.9 2642 L539.5 2641 L542.1 2640.8 L542.7 2640.6 L545.4 2642.7 L546 2641.5 L549.3 2642.6 L552.1 2643.1 L552.7 2642 L555.6 2646.2 L556.2 2645.5 L559.1 2646.3 L559.7 2646.2 L562.6 2646.6 L563.2 2645.5 L566.7 2649.1 L570.5 2650.6 L571.1 2649.8 L575.4 2653.5 L578.1 2654.3 L578.7 2653.3 L581.4 2656.6 L582 2656.2 L584.6 2656.9 L585.2 2656 L588.5 2659.2 L591.2 2658.8 L591.8 2658.5 L594.4 2660.8 L595 2659.8 L597.7 2661.7 L598.3 2661.4 L601.6 2662.2 L605.9 2642.6 L610.3 2649.1 L614.6 2651.3 L619 2646.9 L621.2 2650.4" fill="none" stroke="#48e03c" stroke-width="3" stroke-linejoin="round"/>
<rect x="206" y="2487" width="437" height="186" fill="none" stroke="#000" stroke-width="3" />
<text x="199" y="2503" font-size="25" text-anchor="end">0.4</text>
<text x="199" y="2542.6" font-size="25" text-anchor="end">0.3</text>
<text x="199" y="2581" font-size="25" text-anchor="end">0.2</text>
<text x="199" y="2620" font-size="25" text-anchor="end">0.1</text>
<text x="199" y="2658" font-size="25" text-anchor="end">0.0</text>
<text x="604.5" y="2521" font-size="28" text-anchor="end">NES = 1.87</text>
<text x="593" y="2554" font-size="28" text-anchor="end"><tspan font-style="italic">P</tspan> = 0.002</text>
<text x="199" y="2703" font-size="27.5">SPON2<tspan font-size="18" dy="-12">+</tspan><tspan dy="12">NK</tspan><tspan font-size="18" dy="-8.5">high</tspan></text>
<text x="477" y="2703" font-size="27.5">SPON2<tspan font-size="18" dy="-12">+</tspan><tspan dy="12">NK</tspan><tspan font-size="18" dy="-8.5">low</tspan></text>
<rect x="800" y="2199" width="135" height="18.6" fill="#78e63c" />
<rect x="939.5" y="2199" width="179.5" height="18.6" fill="#eccb48" />
<text x="1130" y="2219" font-size="28" font-weight="bold">Label</text>
<rect x="774" y="2221" width="18" height="360" fill="#f5200f" />
<text x="760" y="2601" font-size="31.6" transform="rotate(-90 760 2601)">CD57<tspan font-size="19.5" dy="-10">high</tspan><tspan dy="10"> in TC compartment</tspan></text>
<rect x="800" y="2222" width="44.7" height="44.5" fill="#e0533b" stroke="#8c8c8c" stroke-width="1" />
<rect x="844.7" y="2222" width="44.7" height="44.5" fill="#f3e39a" stroke="#8c8c8c" stroke-width="1" />
<rect x="889.3" y="2222" width="44.7" height="44.5" fill="#e6f3ea" stroke="#8c8c8c" stroke-width="1" />
<rect x="940.7" y="2222" width="44.6" height="44.5" fill="#eb9a62" stroke="#8c8c8c" stroke-width="1" />
<rect x="985.3" y="2222" width="44.6" height="44.5" fill="#f3f5c0" stroke="#8c8c8c" stroke-width="1" />
<rect x="1029.9" y="2222" width="44.6" height="44.5" fill="#a3c9e0" stroke="#8c8c8c" stroke-width="1" />
<rect x="1074.4" y="2222" width="44.6" height="44.5" fill="#92bfdb" stroke="#8c8c8c" stroke-width="1" />
<rect x="800" y="2266.5" width="44.7" height="44.5" fill="#eb8a58" stroke="#8c8c8c" stroke-width="1" />
<rect x="844.7" y="2266.5" width="44.7" height="44.5" fill="#e1f0f4" stroke="#8c8c8c" stroke-width="1" />
<rect x="889.3" y="2266.5" width="44.7" height="44.5" fill="#f2da91" stroke="#8c8c8c" stroke-width="1" />
<rect x="940.7" y="2266.5" width="44.6" height="44.5" fill="#efc27a" stroke="#8c8c8c" stroke-width="1" />
<rect x="985.3" y="2266.5" width="44.6" height="44.5" fill="#b0d3e6" stroke="#8c8c8c" stroke-width="1" />
<rect x="1029.9" y="2266.5" width="44.6" height="44.5" fill="#ebb47c" stroke="#8c8c8c" stroke-width="1" />
<rect x="1074.4" y="2266.5" width="44.6" height="44.5" fill="#6a96c6" stroke="#8c8c8c" stroke-width="1" />
<rect x="800" y="2311" width="44.7" height="44.5" fill="#eef9d9" stroke="#8c8c8c" stroke-width="1" />
<rect x="844.7" y="2311" width="44.7" height="44.5" fill="#f1d58e" stroke="#8c8c8c" stroke-width="1" />
<rect x="889.3" y="2311" width="44.7" height="44.5" fill="#d93e33" stroke="#8c8c8c" stroke-width="1" />
<rect x="940.7" y="2311" width="44.6" height="44.5" fill="#6b98c8" stroke="#8c8c8c" stroke-width="1" />
<rect x="985.3" y="2311" width="44.6" height="44.5" fill="#f2f6b8" stroke="#8c8c8c" stroke-width="1" />
<rect x="1029.9" y="2311" width="44.6" height="44.5" fill="#f2f5b4" stroke="#8c8c8c" stroke-width="1" />
<rect x="1074.4" y="2311" width="44.6" height="44.5" fill="#c3e1ec" stroke="#8c8c8c" stroke-width="1" />
<rect x="800" y="2355.5" width="44.7" height="44.5" fill="#dc4535" stroke="#8c8c8c" stroke-width="1" />
<rect x="844.7" y="2355.5" width="44.7" height="44.5" fill="#eaaa70" stroke="#8c8c8c" stroke-width="1" />
<rect x="889.3" y="2355.5" width="44.7" height="44.5" fill="#eff9d8" stroke="#8c8c8c" stroke-width="1" />
<rect x="940.7" y="2355.5" width="44.6" height="44.5" fill="#7aa8d2" stroke="#8c8c8c" stroke-width="1" />
<rect x="985.3" y="2355.5" width="44.6" height="44.5" fill="#c6e3ed" stroke="#8c8c8c" stroke-width="1" />
<rect x="1029.9" y="2355.5" width="44.6" height="44.5" fill="#f3f5b5" stroke="#8c8c8c" stroke-width="1" />
<rect x="1074.4" y="2355.5" width="44.6" height="44.5" fill="#eff8d4" stroke="#8c8c8c" stroke-width="1" />
<rect x="800" y="2400" width="44.7" height="44.5" fill="#e05a42" stroke="#8c8c8c" stroke-width="1" />
<rect x="844.7" y="2400" width="44.7" height="44.5" fill="#eab475" stroke="#8c8c8c" stroke-width="1" />
<rect x="889.3" y="2400" width="44.7" height="44.5" fill="#efc580" stroke="#8c8c8c" stroke-width="1" />
<rect x="940.7" y="2400" width="44.6" height="44.5" fill="#e8f4ea" stroke="#8c8c8c" stroke-width="1" />
<rect x="985.3" y="2400" width="44.6" height="44.5" fill="#8ebbdb" stroke="#8c8c8c" stroke-width="1" />
<rect x="1029.9" y="2400" width="44.6" height="44.5" fill="#eaf5dc" stroke="#8c8c8c" stroke-width="1" />
<rect x="1074.4" y="2400" width="44.6" height="44.5" fill="#a4cde3" stroke="#8c8c8c" stroke-width="1" />
<rect x="800" y="2444.5" width="44.7" height="44.5" fill="#d8352e" stroke="#8c8c8c" stroke-width="1" />
<rect x="844.7" y="2444.5" width="44.7" height="44.5" fill="#f1f4b8" stroke="#8c8c8c" stroke-width="1" />
<rect x="889.3" y="2444.5" width="44.7" height="44.5" fill="#ecbd7b" stroke="#8c8c8c" stroke-width="1" />
<rect x="940.7" y="2444.5" width="44.6" height="44.5" fill="#c0dfec" stroke="#8c8c8c" stroke-width="1" />
<rect x="985.3" y="2444.5" width="44.6" height="44.5" fill="#afd3e7" stroke="#8c8c8c" stroke-width="1" />
<rect x="1029.9" y="2444.5" width="44.6" height="44.5" fill="#f3f5bd" stroke="#8c8c8c" stroke-width="1" />
<rect x="1074.4" y="2444.5" width="44.6" height="44.5" fill="#bcdcea" stroke="#8c8c8c" stroke-width="1" />
<rect x="800" y="2489" width="44.7" height="44.5" fill="#e05a44" stroke="#8c8c8c" stroke-width="1" />
<rect x="844.7" y="2489" width="44.7" height="44.5" fill="#e87a55" stroke="#8c8c8c" stroke-width="1" />
<rect x="889.3" y="2489" width="44.7" height="44.5" fill="#f1e6a0" stroke="#8c8c8c" stroke-width="1" />
<rect x="940.7" y="2489" width="44.6" height="44.5" fill="#c2e0ec" stroke="#8c8c8c" stroke-width="1" />
<rect x="985.3" y="2489" width="44.6" height="44.5" fill="#bcdcea" stroke="#8c8c8c" stroke-width="1" />
<rect x="1029.9" y="2489" width="44.6" height="44.5" fill="#d5ebf1" stroke="#8c8c8c" stroke-width="1" />
<rect x="1074.4" y="2489" width="44.6" height="44.5" fill="#d9edf3" stroke="#8c8c8c" stroke-width="1" />
<rect x="800" y="2533.5" width="44.7" height="44.5" fill="#e05a44" stroke="#8c8c8c" stroke-width="1" />
<rect x="844.7" y="2533.5" width="44.7" height="44.5" fill="#efc17e" stroke="#8c8c8c" stroke-width="1" />
<rect x="889.3" y="2533.5" width="44.7" height="44.5" fill="#ebb57a" stroke="#8c8c8c" stroke-width="1" />
<rect x="940.7" y="2533.5" width="44.6" height="44.5" fill="#c4e1ed" stroke="#8c8c8c" stroke-width="1" />
<rect x="985.3" y="2533.5" width="44.6" height="44.5" fill="#e5f3ee" stroke="#8c8c8c" stroke-width="1" />
<rect x="1029.9" y="2533.5" width="44.6" height="44.5" fill="#a0c9e0" stroke="#8c8c8c" stroke-width="1" />
<rect x="1074.4" y="2533.5" width="44.6" height="44.5" fill="#e4f3f4" stroke="#8c8c8c" stroke-width="1" />
<text x="1129.5" y="2260.5" font-size="27.7">Leukocyte chemotaxis involved in inflammatory response</text>
<text x="1129.5" y="2304.9" font-size="27.7">Response to interleukin 18</text>
<text x="1129.5" y="2349.3" font-size="27.7">Cell-cell adhesion mediated by cadherin</text>
<text x="1129.5" y="2393.7" font-size="27.7">Cellular response to interleukin 1</text>
<text x="1129.5" y="2438.1" font-size="27.7">Antiviral innate immune response</text>
<text x="1129.5" y="2482.5" font-size="27.7">Cellular response to interferon gamma</text>
<text x="1129.5" y="2526.9" font-size="27.7">Positive regulation of cell substrate adhesion</text>
<text x="1129.5" y="2571.3" font-size="27.7">Response to interleukin 12</text>
<text x="826.3" y="2712" font-size="27.3" transform="rotate(-90 826.3 2712)">L-8002-02</text>
<text x="871" y="2712" font-size="27.3" transform="rotate(-90 871 2712)">L-8002-06</text>
<text x="915.7" y="2712" font-size="27.3" transform="rotate(-90 915.7 2712)">L-8002-10</text>
<text x="967" y="2712" font-size="27.3" transform="rotate(-90 967 2712)">L-8022-06</text>
<text x="1011.6" y="2712" font-size="27.3" transform="rotate(-90 1011.6 2712)">L-8022-07</text>
<text x="1056.1" y="2712" font-size="27.3" transform="rotate(-90 1056.1 2712)">L-8022-09</text>
<text x="1100.7" y="2712" font-size="27.3" transform="rotate(-90 1100.7 2712)">L-8022-11</text>
<defs><linearGradient id="jcb" x1="0" y1="0" x2="0" y2="1"><stop offset="0" stop-color="#d73027"/><stop offset="0.25" stop-color="#f49a5a"/><stop offset="0.5" stop-color="#fdfec0"/><stop offset="0.75" stop-color="#a6d0e4"/><stop offset="1" stop-color="#4b74b2"/></linearGradient></defs>
<rect x="1839" y="2330" width="22" height="191" fill="url(#jcb)" />
<text x="1846" y="2310" font-size="27.5" text-anchor="middle">high</text>
<text x="1846" y="2548" font-size="27.5" text-anchor="middle">low</text>
<text x="1601" y="2577" font-size="28" font-weight="bold">Label</text>
<rect x="1605" y="2596" width="20" height="14.5" fill="#78e63c" />
<rect x="1605" y="2630" width="20" height="14.5" fill="#eccb48" />
<text x="1650" y="2615" font-size="27.5">SPON2<tspan font-size="18" dy="-8.5">high</tspan><tspan dy="8.5">CD57</tspan><tspan font-size="18" dy="-8.5">high</tspan></text>
<text x="1650" y="2647" font-size="27.5">SPON2<tspan font-size="18" dy="-8.5">low</tspan><tspan dy="8.5">CD57</tspan><tspan font-size="18" dy="-8.5">high</tspan></text>
<defs><path id="uM" d="M91.5 110.5h0m10.5 11h0m-22 2.5h0m16.5 18.5h0m7 4.5h0m11 -29h0m-23 25h0m13 -22h0m-24.5 -8.5h0m10 18.5h0m21.5 6.5h0m-11.5 6h0m-3.5 -3.5h0m-16.5 -7h0m34 -16h0m-10 5.5h0m-4.5 12.5h0m11.5 -16.5h0m-32 7.5h0m2 14h0m14.5 4.5h0m6.5 -2h0m-14 -17.5h0m-2.5 -9h0m18.5 0h0m-8.5 13.5h0m4 2.5h0m-3.5 -8.5h0m-9.5 -11.5h0m-2 9h0m19.5 -9h0m-8.5 -5.5h0m2.5 20h0m-5.5 -11h0m7.5 -5h0m1.5 37h0m-11.5 -25h0m10 18h0m14.5 -1h0m-27 -11.5h0m-8.5 -9.5h0m42.5 4.5h0m-3 -1.5h0m-34 -10h0m27.5 13h0m-28.5 9h0m27 -5.5h0m-17.5 12.5h0m1.5 6.5h0m-9.5 -37.5h0m1 32.5h0m7 -12.5h0m5 18.5h0m14.5 -33.5h0m-24.5 17.5h0m2.5 -8h0m3.5 22h0m4.5 -33.5h0m-13.5 12h0m4.5 2.5h0m-7 3.5h0m26 -4h0m6.5 -3h0m-17 13h0m-0.5 8.5h0m17.5 -30h0m-1 -4h0m-31.5 5h0m29.5 31h0m-4 -38.5h0m-11 18h0m-13.5 -3h0m2.5 -5h0m16.5 6h0m5 4.5h0m-23 -12.5h0m2.5 -5.5h0m27 7h0m-11.5 18.5h0m7 -11.5h0m-3 17h0m-12 -23.5h0m-6 -8.5h0m-5 1.5h0m7.5 5.5h0m8 -4.5h0m10.5 18h0m0.5 -6.5h0m-17 0h0m-1 16.5h0m3.5 -20.5h0m-14.5 19h0m33.5 -3.5h0m-23.5 -9.5h0m1 -5.5h0m6.5 8h0m-16.5 -6h0m7.5 -8.5h0m19.5 18h0m-14 -13h0m15.5 15h0m4.5 -3.5h0m-33.5 -2.5h0m28 12.5h0m-3 -4.5h0m-21 -14h0m14.5 9.5h0m10 7h0m-4.5 -32.5h0m-24.5 9.5h0m16 6.5h0m13 10h0m-26 -17.5h0m-4.5 0h0m25.5 2.5h0m-7 -8h0m-18 13.5h0m17.5 -3.5h0m-9.5 13h0m26 -6h0m-26.5 19.5h0m10 -27h0m-4 24h0m21.5 -24.5h0m-22 6h0m-3 24h0m7.5 -33h0m8.5 30.5h0m3 -22.5h0m-18.5 -17h0m7 15.5h0m7 -4h0m-19 -3.5h0m16.5 -2h0m-5 -1h0m-4.5 -2h0m9.5 34.5h0m-7.5 -14.5h0m-13.5 -12.5h0m18.5 16h0m-11 -16.5h0m27 10h0m-20 18.5h0m-14.5 -33.5h0m22.5 28.5h0m-16.5 6h0m-5 -31.5h0m17.5 17.5h0m-7 -6.5h0m22.5 2h0m-17 8.5h0m8 11.5h0m-14 -24.5h0m18.5 15.5h0m8.5 -20.5h0m-32.5 24.5h0m12.5 -28h0m7.5 34.5h0m-24 -28h0m35.5 1h0m-13 0.5h0m-14.5 -2h0m3 20.5h0m-15.5 -13h0m8.5 -7h0m9 20.5h0m21 -27.5h0m-22.5 2.5h0m-5.5 22h0m28 -5h0m-26 -8h0m2.5 -9h0m19.5 20h0m-9.5 -16h0m-16.5 19h0m-8.5 -6.5h0m12.5 -24h0m17.5 17.5h0m-4 6.5h0m2.5 -24h0m-5 12h0m-11.5 -3h0m9.5 4h0m0.5 -8.5h0m-0.5 26.5h0m-19 -21.5h0m37.5 2h0m-28.5 19.5h0m14 -6h0m-19.5 -18.5h0m22.5 -1.5h0m-0.5 0h0m6 16h0m-17.5 -0.5h0m-10.5 7.5h0m6.5 13h0m5 -29.5h0m-2.5 -7.5h0m0.5 30.5h0m5.5 -31.5h0m7.5 35h0m-12.5 -18.5h0m7 19.5h0m-11.5 -39h0m10 -2.5h0m17 26h0m-7.5 -16.5h0m4 -2h0m-12.5 9h0m9.5 23h0m-7.5 -17h0m-8.5 3h0m4.5 -7h0m0 -12h0m-2 0h0m-12 12h0m14.5 -19h0m9.5 34h0m-8.5 -18.5h0m10 23.5h0m-10.5 3h0m-18.5 -28h0m35 -3.5h0m-16.5 31h0m0.5 -28h0m7.5 28h0m-25.5 -19.5h0m30.5 1h0m-8 -7.5h0m-12 18.5h0m17.5 -26.5h0m-7.5 21.5h0m-1 -11h0m-18 -9.5h0m-1 8h0m19.5 -9.5h0m-12.5 -0.5h0m24.5 28.5h0m-13 -21.5h0m-11 27h0m7 -30.5h0m-12.5 16.5h0m27.5 -19h0m1 24h0m-4 -13h0m-21.5 -15h0m4 27.5h0m15 -20.5h0m4.5 14h0m-22 -18h0m21 6.5h0m-23 26h0m10 -4h0m-1.5 -3.5h0m-6.5 -3h0m4 -23.5h0m13.5 21h0m-27 1.5h0m3 -19.5h0m29.5 26h0m-7 -22h0m4.5 -3h0m-20.5 23h0m30.5 -11.5h0m-42 -2h0m14.5 12h0m21 -24h0m-14 30h0m-6.5 3h0m-3 -32.5h0m-5 22h0m22 5h0m-11.5 -17.5h0m-7 -6.5h0m6 30.5h0m6.5 -9h0m-6.5 -16h0m12.5 18.5h0m5 -8h0m4 -15.5h0m-7.5 27.5h0m-20.5 -24.5h0m6 -6.5h0m-9 9h0m25 4h0m-27.5 -12h0m12.5 25.5h0m11 -12.5h0m-9.5 11h0m5.5 1.5h0m7 3.5h0m4.5 -8.5h0m-21 -0.5h0m18 2.5h0m-15 -12h0m12 24.5h0m0.5 -26.5h0m-27 9h0m38.5 -2h0m-20 8h0m11.5 -7.5h0m-25.5 7.5h0m7.5 -29h0m-15.5 16h0m16 -6h0m25 12.5h0m-22 -15h0m14.5 18h0m-16.5 -2h0m3 -14h0m16.5 2h0m-20.5 -3.5h0m-3.5 0.5h0m6 16h0m-11.5 9.5h0m22 -26h0m-18.5 24.5h0m15 -3h0m9 7h0m-13.5 -5.5h0m3.5 -22h0m-3.5 -10h0m-1.5 19.5h0m0 1.5h0m-2.5 -5h0m12.5 10.5h0m-1.5 16.5h0m-5.5 -24h0m7.5 9h0m-15.5 -9.5h0m-6 -1h0m28 -8h0m-17.5 0h0m9 25h0m-16 -12h0m-8 7h0m0 -18.5h0m34.5 12h0m-0.5 1h0m-8 -0.5h0m-1 -6h0m4 20.5h0m1.5 -5h0m-21.5 -15.5h0m16.5 23h0m6.5 -17.5h0m-37 -9.5h0m19 -12.5h0m13 6.5h0m-28.5 23h0m28 -31h0m-10 43.5h0m-5 -10.5h0m5 -31.5h0m0 29h0m-5 -4h0m3.5 6.5h0m9 -21h0m1.5 25h0m-5.5 -24h0m-9 14.5h0m21 -17h0m-16 11.5h0m14 15h0m1.5 -5h0m-22 -31.5h0m-3.5 31h0m15.5 -2.5h0m-13.5 2h0m-7 2.5h0m21.5 4.5h0m-5 -12.5h0m-14 5.5h0m10.5 -9.5h0m-12.5 4.5h0m20.5 -12.5h0m10.5 6h0m-1 -3h0m-25.5 -10.5h0m11.5 32.5h0m7 -20.5h0m-18.5 3h0m18.5 -5h0m-14.5 -4h0m18 15.5h0m-28.5 -26h0m24 8.5h0m-22 3h0m16 -7h0m12.5 1h0m-25 12.5h0m26.5 7h0m-0.5 -7.5h0m-2.5 6h0m-20 -8h0m24.5 -3h0m-20 27h0m11 -33.5h0m-18.5 2h0m-4 1h0m26 0.5h0m3.5 2h0m1.5 10h0m2 -15.5h0m-30 24.5h0m18 -11h0m1 7.5h0m4 -12.5h0m5 -5h0m3.5 7.5h0m-31.5 18h0m9.5 -11.5h0m3 -2.5h0m13.5 16.5h0m-15 -6h0m20 -13h0m-31 -15.5h0m23.5 2h0m-7 14.5h0m13 9.5h0m-16.5 -9.5h0m-5.5 -18.5h0m-9 20.5h0m11 -7.5h0m0 24h0m-10 -25.5h0m28.5 23h0m-26 -21h0m11.5 -14.5h0m19.5 23h0m-14 -15.5h0m-4.5 30.5h0m1 -22.5h0m-9 11.5h0m26 -6h0m-17 -17.5h0m-11 12h0m-7.5 4h0m20 8h0m-6 -7h0m-5 -12h0m3.5 14.5h0m18 -16.5h0m-22.5 25.5h0m25 -15.5h0m-18.5 14h0m-13.5 -17.5h0m21 21h0m4.5 -5h0m2.5 -0.5h0m-4.5 -5.5h0m-4.5 -10h0m-0.5 1h0m5 -3.5h0m-12.5 -2h0m5 9h0m-16 4.5h0m34.5 -13h0m-21.5 29h0m7 -20h0m-4 0.5h0m-8 7h0m16 -4.5h0m-15 -0.5h0m24.5 -1.5h0m-16 15.5h0m0 -34.5h0m15 16h0m-16 4h0m2 7h0m-7.5 7h0m18.5 -11.5h0m-14.5 0.5h0m4 -7.5h0m8 -14h0m-12 31h0m11.5 -22.5h0m-23 0h0m14.5 2.5h0m-0.5 28.5h0m-9.5 -4.5h0m9 3.5h0m-12.5 -27h0m1 23.5h0m-1.5 -32h0m31 4.5h0m-18.5 5h0m-17.5 20.5h0m3.5 -25h0m21 4h0m-25 -5.5h0m15 26h0m-6.5 -2.5h0m8 -25h0m10.5 0.5h0m-16 0h0m6.5 16h0m-6.5 3h0m2.5 -24h0m-3 25.5h0m0.5 -8h0m-0.5 -11.5h0m-1 5.5h0m-6 -4.5h0m19 4h0m3.5 -6.5h0m-1.5 -0.5h0m2.5 23h0m-24.5 -23h0m-5.5 3.5h0m34 12h0m-17 6h0m17 4.5h0m1.5 -8h0m-31 11h0m25.5 -36h0m0.5 35.5h0m10 -20h0m-11.5 18.5h0m-29 -4.5h0m28.5 6h0m-5.5 -26.5h0m-7 -2h0m13 21.5h0m-7.5 -11.5h0m-9 22h0m-1.5 -5h0m-6 -7h0m27 9h0m-17 -29h0m-8.5 22.5h0m5.5 -10.5h0m-8 11h0m-1 -10h0m32.5 4.5h0m-9 -15.5h0m8.5 3h0m-28 19.5h0m6 -27h0m0 19.5h0m10.5 0h0m-3 -3h0m2.5 -21h0m-5 42h0m-0.5 -36.5h0m14 13h0m-11.5 -1h0m7.5 17h0m-17 -17.5h0m-4 -15h0m20.5 24.5h0m11.5 -8h0m-24.5 19.5h0m15 -19.5h0m-15.5 6h0m10 -9h0m14.5 8.5h0m-29 -23h0m11 23h0m-16.5 -3.5h0m10.5 -19h0m8 28h0m-5 -25h0m14.5 -1.5h0m-21 11.5h0m-3 -5h0m30 15h0m-32.5 8.5h0m23.5 3h0m1.5 4.5h0m-7.5 -39.5h0m5.5 9h0m6.5 14h0m-30.5 11h0m6.5 -6h0m24.5 -9.5h0m-24 -15.5h0m-5 29.5h0m13.5 -30h0m17 22h0m-28.5 12.5h0m-3.5 -24h0m12.5 -0.5h0m2 29h0m8 -31.5h0m-20 11.5h0m17 8.5h0m1 -4h0m9 9.5h0m-22.5 -6h0m13 -18h0m-24.5 3h0m19.5 -0.5h0m-3.5 -11.5h0m1 13.5h0m-5.5 -7.5h0m28.5 2.5h0m-40.5 -8.5h0m12.5 30h0m-9.5 -15h0m3 -10h0m8.5 -3.5h0m12 -2h0m-1 -4.5h0m-11 6h0m22.5 21.5h0m-24.5 4.5h0m16.5 -17.5h0m-28.5 14h0m24 -18h0m14.5 14h0m-14 8h0m-19 -28h0m26 13h0m-10 10.5h0m8 -19.5h0m2.5 1h0m-17 1.5h0m4 16.5h0m12.5 -25h0m-30.5 19h0m38 -5.5h0m-9 25h0m3 -31.5h0m-7 3.5h0m-12 28.5h0m-14 -12h0m-1 -3.5h0m40 2h0m-29 -8.5h0m19.5 12h0m-20 -5h0m26 -18h0m-27 5.5h0m-4 15h0m19.5 12.5h0m-9.5 -7.5h0m-8.5 -1h0m20 -28h0m3.5 34h0m-21 -4.5h0m11 -25h0m-6 30.5h0m-8 -20h0m-1 12.5h0m10.5 -11.5h0m21 12h0m-24.5 -31h0m4.5 22h0m10.5 4h0m8.5 4h0m-19.5 12h0m1 -39h0m8 38h0m-9.5 -33h0m19.5 24.5h0m-7.5 -22.5h0m-13 31h0m17.5 -23h0m-22.5 6.5h0m18.5 -10h0m-1 -4.5h0m-18.5 17.5h0m9.5 2h0m-8 -27h0m12 17.5h0m-17 14.5h0m11 -0.5h0m-9 -25.5h0m25.5 12h0m-6 -3h0m4.5 -15h0m-10.5 5.5h0m-4.5 -9h0m-14.5 5h0m12 3h0m13 30h0m6 -12h0m-14.5 -12.5h0m-1 13h0m-0.5 -2.5h0m-1.5 4.5h0m15 -14h0m-30.5 10.5h0m33 -8h0m-17 3h0m12 12h0m1 -11h0m-22 -12.5h0m26.5 15.5h0m-2 -3.5h0m-11.5 4h0m-2.5 -3h0m-6.5 -11h0m24 12.5h0m-31.5 -13h0m32.5 -0.5h0m-15 5.5h0m4 -1.5h0m14.5 10h0m32 -8.5h0m-14.5 23.5h0m28 -12h0m-16.5 15h0m10 -45.5h0m-1 6.5h0m9.5 16.5h0m-28 -14.5h0m36 0.5h0m-29.5 26.5h0m17.5 -29h0m-25 3h0m17 -4h0m16 -3h0m-28 -2h0m-7 27h0m27.5 -7.5h0m9.5 -18h0m2.5 25h0m-10 -3h0m-17 19.5h0m-22 -36h0m44 2h0m-16 42.5h0m4.5 -50.5h0m-22 38h0m1.5 -38.5h0m14 38.5h0m-27 -13.5h0m3.5 3.5h0m32 -20.5h0m-19 33h0m-11 -40h0m20.5 25.5h0m-21.5 -1h0m3.5 -6.5h0m-0.5 24.5h0m15 -5h0m-12.5 -0.5h0m-12.5 -20.5h0m30 -9.5h0m9.5 -6.5h0m-5 31.5h0m11 -11.5h0m6.5 -2.5h0m-39.5 16.5h0m6.5 -30.5h0m8 16h0m15.5 11.5h0m6.5 7.5h0m-28.5 -35h0m22.5 -3.5h0m8.5 33.5h0m-18 -17h0m16.5 -5.5h0m-36.5 30h0m9 -33h0m14 26.5h0m10 -3.5h0m-25.5 -33h0m-1.5 27.5h0m-19.5 -4h0m44.5 -4.5h0m-28 -8.5h0m18.5 3h0m3 5.5h0m-30 15.5h0m2.5 -23h0m-0.5 32h0m13 -20h0m23.5 -17.5h0m-21.5 36h0m-19.5 -16.5h0m16.5 20.5h0m-21.5 -14.5h0m18.5 0.5h0m11 1h0m6 -5.5h0m14 8.5h0m-30 -32.5h0m-13 25h0m13.5 8h0m21 -24h0m14 18h0m-16 4.5h0m-7.5 5.5h0m-24.5 -16h0m33.5 -18h0m-22 10.5h0m-8.5 -3.5h0m7.5 8h0m4.5 -4h0m1 23h0m-6.5 -36.5h0m14 28h0m-12.5 14.5h0m16.5 -36h0m9.5 19.5h0m-29 -19h0m24.5 24h0m-36.5 -24h0m32 22h0m-16.5 -16h0m-11 27h0m30 2.5h0m-37.5 -27h0m35.5 9.5h0m-21 11.5h0m-7.5 -8.5h0m32.5 7.5h0m-34 -6h0m7 -34h0m1.5 9.5h0m30 7h0m4 -1.5h0m-40.5 -2h0m25 28.5h0m-28.5 -32.5h0m14 21.5h0m-7 11h0m-11.5 -16.5h0m34 11h0m-5.5 -4.5h0m26 -16.5h0m-30 -10h0m14.5 17.5h0m-16.5 -8h0m6.5 8.5h0m-20.5 -12h0m32.5 25.5h0m-1 -4h0m-30.5 -1h0m-9.5 -22.5h0m45.5 13.5h0m-41.5 17.5h0m22.5 2.5h0m5 -16.5h0m9.5 22.5h0m0.5 -32.5h0m-30.5 13h0m35 11h0m4.5 -13h0m-17.5 18.5h0m-21.5 -35.5h0m-6 20h0m18.5 -2.5h0m0 -26.5h0m1 16.5h0m-13 14h0m21.5 -27h0m-21 12h0m23 21h0m-22.5 -4.5h0m38.5 -21h0m-7.5 -9h0m-33.5 39.5h0m-3.5 -4h0m22 3.5h0m4 -1h0m-3 -27.5h0m12.5 -16.5h0m-18 6.5h0m0.5 -0.5h0m-6 -2.5h0m27.5 3h0m-6.5 0h0m3.5 -5.5h0m-6.5 31.5h0m-16.5 -1h0m22 11h0m-3.5 -42.5h0m-14 50.5h0m-1 -11h0m-4 -21h0m22 -2h0m-40 -5.5h0m16 28.5h0m28 -9h0m-30 5h0m10.5 -0.5h0m-5.5 12h0m-17.5 -32.5h0m-4.5 -3.5h0m9.5 11.5h0m33 19.5h0m-29 -28h0m18.5 21h0m-14.5 -31h0m4 5h0m-5.5 33.5h0m1 -21h0m25.5 -16.5h0m6 6h0m-9.5 4.5h0m11.5 -8h0m-12.5 3h0m17 9.5h0m-40 -16h0m7 37h0m-8 -21h0m0 24.5h0m30 -31h0m-23 5.5h0m17 27h0m-15 -39h0m-18.5 0h0m9 17.5h0m8.5 0.5h0m-18 -14h0m46.5 -5h0m-36.5 3h0m-8 5h0m34.5 -9h0m-29 32h0m44.5 -10.5h0m-17.5 2h0m4 2.5h0m-6.5 6.5h0m13.5 -17.5h0m-36 12.5h0m-1.5 -30h0m-3.5 37h0m17.5 -2h0m-15.5 -11.5h0m25.5 -14.5h0m-18.5 12.5h0m-15 -1.5h0m-2.5 12h0m32.5 5h0m-25.5 -32h0m5 1.5h0m10 37.5h0m33.5 -32h0m-36.5 1h0m6 12h0m13 1.5h0m0.5 0.5h0m18.5 -17.5h0m-25 -2.5h0m-20.5 10.5h0m-8.5 19.5h0m36.5 4.5h0m-1.5 -6h0m-24 -14.5h0m10 28.5h0m17 -34h0m-33.5 -4.5h0m-6.5 -5h0m5 23h0m13.5 7.5h0m17 -27.5h0m6 33h0m-31.5 -1.5h0m37.5 -12h0m-13.5 -19.5h0m6.5 4h0m-31 22.5h0m5 1h0m3 -9h0m9.5 -15.5h0m-20 -10.5h0m7 38h0m14.5 -32h0m-27 -2.5h0m39 3.5h0m-35.5 23h0m40 10h0m-7.5 -12.5h0m-6 -26h0m-19.5 17.5h0m-1.5 -8h0m24 35h0m2.5 -34.5h0m5.5 26.5h0m1 -23h0m-41 14.5h0m28 -26h0m-4 4.5h0m2 6.5h0m16 -12h0m-18.5 7h0m-9.5 11h0m6 -1h0m10 -17h0m-15 -4.5h0m-12 23h0m38.5 -0.5h0m-42 -9h0m6.5 13h0m-0.5 14h0m-1.5 -29h0m9.5 25.5h0m9 12.5h0m0.5 -13h0m-7 -23.5h0m30 4.5h0m-32 -8h0m33.5 20h0m-15.5 17.5h0m12.5 -3h0m-27 -26h0m4 13.5h0m17 7h0m-4.5 -20h0m-6.5 -3h0m17.5 28.5h0m-7.5 -9.5h0m-11 -9.5h0m15 21.5h0m-31 -42.5h0m32 7h0m-5 -1.5h0m-22.5 22.5h0m32 8.5h0m-19.5 -37.5h0m-3.5 23h0m9.5 -15.5h0m-36.5 20.5h0m22 -28h0m23 16.5h0m3 -11.5h0m-24.5 8.5h0m-13.5 0h0m-1.5 11.5h0m37.5 -20.5h0m-5 40h0m-10.5 -2h0m-2.5 3h0m6 -6h0m-21 -28.5h0m14.5 -10.5h0m13 36.5h0m-13.5 -33.5h0m-16.5 21.5h0m29.5 11h0m13.5 -16.5h0m-7.5 13.5h0m-27.5 4.5h0m-10.5 -20.5h0m1.5 -9.5h0m8.5 16.5h0m8.5 22.5h0m7 -43h0m-12 11.5h0m19 3.5h0m6.5 17.5h0m4 -18.5h0m-20 11h0m-22 -15h0m22.5 21h0m-0.5 -16.5h0m20.5 21h0m-26.5 -15h0m-4 -0.5h0m4.5 -9h0m18 -4h0m-24.5 34h0m0.5 -3h0m-16.5 -35h0m6 1.5h0m35 25h0m-11 13.5h0m-9 -43h0m-1 -4.5h0m11 49.5h0m6.5 -18.5h0m-32 -4.5h0m15.5 -8h0m16 -12h0m-19 30.5h0m2.5 1.5h0m25.5 -8.5h0m3 -2.5h0m-28.5 6.5h0m23 -9.5h0m-25 7.5h0m4 15.5h0m8.5 -33.5h0m17.5 23h0m-34 2h0m-10 4h0m-2 -6.5h0m28 -17h0m10 -17h0m5.5 17h0m-6.5 13h0m-2.5 -25h0m-15.5 37h0m0 -19h0m-1.5 19.5h0m3.5 -43h0m13 -2.5h0m1.5 3h0m-26 38.5h0m10.5 -21h0m-6 27.5h0m27 -43h0m-26.5 0.5h0m25 4.5h0m8 19.5h0m-16.5 -4.5h0m9 8h0m-17 8h0m-21 -7.5h0m0 -29h0m5.5 11.5h0m21 -11h0m-25.5 23h0m23 -14h0m-26 -3h0m46 25h0m-14.5 -11h0m-18 7.5h0m11.5 -24.5h0m15.5 22.5h0m-42.5 -10.5h0m18 24.5h0m-20.5 -34.5h0m12.5 34.5h0m41 -26h0m-49 19.5h0m18.5 -6.5h0m12.5 -27.5h0m-16.5 42.5h0m-13.5 -42.5h0m0.5 19.5h0m16.5 3h0m0 -17.5h0m24 2h0m-26 3.5h0m15 28h0m16 -12.5h0m-47 -14h0m15.5 -2.5h0m-8 -7h0m37.5 29h0m-2 -2h0m-46 -8.5h0m38.5 10.5h0m-3.5 -15.5h0m-25 -1h0m5.5 -8.5h0m3.5 24h0m-15.5 -8.5h0m-1.5 -2h0m33.5 -1h0m-12 -18.5h0m9.5 28.5h0m9.5 -29.5h0m-13.5 34h0m-11.5 1h0m-14 -3.5h0m33 -30.5h0m-18.5 39.5h0m32 -6h0m3.5 -6.5h0m-46.5 -6.5h0m10.5 -1h0m-6 0h0m22.5 -17h0m7 26.5h0m-15 -15h0m9.5 23h0m-27 -19.5h0m9 15h0m-8 1h0m23.5 -3h0m-14 -36.5h0m23.5 11.5h0m-1.5 27h0m-29 -16h0m32 23.5h0m-37 -36.5h0m40 5h0m-25.5 -7h0m0 12h0m-23.5 0h0m19.5 21.5h0m17 -32h0m-2 7.5h0m15 -6h0m-33 -8.5h0m17.5 24.5h0m-19 -3.5h0m-2 23.5h0m8 -48h0m-10 42.5h0m-8.5 -20.5h0m39.5 23h0m2.5 -37.5h0m-40.5 17.5h0m15 -1.5h0m20.5 4.5h0m-13 0.5h0m-16 19.5h0m23.5 -17h0m21 -10h0m-27 -1.5h0m-8.5 2.5h0m1.5 -15h0m3.5 17h0m-1 22.5h0m-21 -35h0m34 15.5h0m-28 7h0m26.5 -27h0m-7.5 10h0m-0.5 17h0m9 -6h0m-6.5 -15h0m1 28.5h0m5.5 -36h0m5 8.5h0m7.5 14.5h0m-25 15h0m25.5 -33h0m-48 8h0m34 -11h0m-18 41h0m38.5 -25.5h0m-12.5 -9h0m-12 18.5h0m8 -8.5h0m-23.5 15.5h0m23.5 -17.5h0m13 -2h0m-11 28h0m-23 -9.5h0m12 -31h0m-1.5 37h0m-8.5 0h0m14 -17.5h0m-20.5 -3.5h0m-1.5 21h0m23 -38.5h0m12 34.5h0m-22.5 -4.5h0m-20.5 -14h0m7 25h0m-1 -14.5h0m17.5 -9h0m-17 -23h0m19.5 10h0m9 1h0m-17 15h0m14.5 -19h0m-23.5 -2.5h0m13.5 10h0m-6.5 27h0m-3 -38h0m4.5 47h0m5 -26.5h0m20.5 2.5h0m2 -6.5h0m-23.5 12h0m21 -26.5h0m-11 27h0m-29.5 -18.5h0m3.5 18.5h0m-10 -7.5h0m18 -19.5h0m24.5 10h0m-34 24.5h0m11 -30h0m2.5 -4h0m32 14.5h0m-0.5 -5.5h0m-31.5 26h0m-19.5 -18h0m22 18.5h0m7 -20h0m-18.5 8.5h0m11.5 20.5h0m16 -48h0m-22.5 36h0m-10.5 -13.5h0m5.5 -20.5h0m16.5 1.5h0m-15.5 6h0m29 -7.5h0m-9 42h0m5 -16h0m-12 -20.5h0m5.5 7.5h0m-3.5 -4.5h0m-1.5 26h0m25.5 -25h0m-39.5 29h0m34.5 -12h0m-39 -18h0m18.5 26h0m-23 -15.5h0m-1.5 -14h0m20 8.5h0m12.5 2.5h0m11.5 -10h0m3 2h0m-32 4.5h0m30 19.5h0m-16.5 -25h0m-23 29h0m9.5 5.5h0m8.5 -26h0m27.5 -8h0m-50 25h0m10.5 -22h0m29 21.5h0m-35.5 -6.5h0m0.5 7h0m28.5 -6h0m-4 -14.5h0m-28.5 -1.5h0m33.5 19.5h0m-13 -11h0m-19 8.5h0m33 16h0m-7.5 -31.5h0m-7 25.5h0m-19.5 -18h0m16 28h0m23 -20h0m-17.5 -12.5h0m-8 13h0m4 9h0m24.5 -10.5h0m-26 -17.5h0m8 6.5h0m-23 17.5h0m2.5 -8h0m35.5 -29h0m-27.5 46.5h0m-3.5 -15.5h0m29 2.5h0m11.5 -4.5h0m-28 -3.5h0m8.5 -2h0m6.5 26.5h0m3 -51h0m-30 22.5h0m15.5 11.5h0m23.5 -21h0m-32.5 32h0m24.5 5.5h0m-15.5 2h0m-6.5 -23h0m-3.5 -20.5h0m22 24h0m-11.5 -27.5h0m18.5 7h0m-1 -9.5h0m-10.5 42h0m10 6.5h0m-9 -6h0m-22 -14.5h0m34 -19.5h0m-43 29.5h0m-1 -27h0m41.5 -4.5h0m4.5 0h0m-46 27h0m30.5 11.5h0m-34.5 -27.5h0m37 21.5h0m-32 -20.5h0m34.5 -9h0m6.5 22h0m-22 -4.5h0m-13.5 -24.5h0m-2 18h0m12 21h0m-15.5 -13h0m29.5 -15h0m-9 7.5h0m26 1.5h0m0 8h0m-7 12.5h0m-35.5 -5h0m0 1.5h0m44 -29.5h0m-20.5 34.5h0m-12.5 -41h0m12.5 17.5h0m-13 1h0m11.5 4.5h0m-18 -1.5h0m18 -16.5h0m-12.5 30h0m22.5 -18h0m-7 15.5h0m12 -22h0m-9.5 -4.5h0m-3.5 3h0m-24 -7h0m30.5 9h0m-5 3.5h0m-5.5 14h0m-16.5 10.5h0m35 -4h0m-37 -1.5h0m5.5 0h0m38.5 -19.5h0m-25.5 -0.5h0m-21 21.5h0m34 -29.5h0m-29 22h0m10 5h0m5.5 -7.5h0m-12 -12.5h0m24 14h0m-35.5 8h0m7 -10.5h0m39.5 -17h0m-18.5 -0.5h0m-34.5 5.5h0m26.5 30.5h0m-8.5 -49h0m-7 7h0m-2.5 6h0m8.5 13.5h0m2.5 21.5h0m9 -28.5h0m8 -15.5h0m-23 24h0m15 9.5h0m-17.5 1h0m-5.5 -30.5h0m37.5 -4.5h0m-36 7h0m43 9.5h0m-2.5 -10h0m-4.5 30h0m0.5 0.5h0m-18 1h0m-6 2.5h0m-1.5 -14.5h0m23 -7h0m-1.5 16.5h0m11 -16.5h0m-34.5 -21.5h0m-12 6.5h0m9 -0.5h0m17 1.5h0m-26.5 15.5h0m45.5 16h0m-20.5 -12.5h0m17.5 -21.5h0m-33 7.5h0m17.5 34.5h0m26.5 -36.5h0m-40 -4.5h0m36.5 18h0m-13 18h0m-31 -14h0m0.5 -12.5h0m1 -12.5h0m24 38h0m16 -8.5h0m-24 7h0m-4.5 -17h0m-3.5 -2h0m2 2h0m-6 -24.5h0m0.5 26.5h0m-3 -14h0m14 11.5h0m23.5 24.5h0m-22.5 -39h0m12 15.5h0m-6 -19.5h0m8 3h0m-11.5 11h0m-21.5 23h0m45 -24h0m-31.5 15.5h0m9 -22h0m20 18.5h0m-35.5 13.5h0m9.5 6.5h0m-18.5 -37h0m35 9.5h0m-0.5 28h0m-12.5 -12.5h0m-10 0.5h0m-8 -27h0m30.5 13h0m-30.5 20h0m3 -27h0m30.5 23h0m-6.5 -33.5h0m-22.5 20.5h0m11 -14h0m-6 -10.5h0m27 3h0m4 11h0m-15 21.5h0m-34.5 -4.5h0m23 17.5h0m10 -15.5h0m15 -28.5h0m-22.5 18h0m25.5 1h0m-51 -7.5h0m42 -9.5h0m-5.5 -5h0m-16 3.5h0m-15.5 2h0m14 20h0m23.5 -22.5h0m-0.5 20.5h0m-35.5 -12.5h0m9.5 7h0m23 18.5h0m-23 -34.5h0m4.5 14.5h0m3 24h0m4.5 -5h0m11 -19.5h0m-9.5 2h0m15 -5h0m-1.5 11h0m-19.5 3.5h0m-20.5 -25.5h0m41.5 31h0m-46 -25h0m30.5 31h0m19 -2h0m-6 -2.5h0m-18 6.5h0m11 -21.5h0m-4.5 28.5h0m8.5 -26h0m-21 11.5h0m-16 -30h0m14 7h0m13.5 11h0m16.5 -20.5h0m-38.5 17.5h0m45 -10.5h0m-40 -9h0m23 26.5h0m4 6.5h0m-14 -20h0m9 -8h0m11.5 36h0m-32 -4h0m-16.5 -19.5h0m19.5 29.5h0m16 -5h0m-4.5 7h0m22.5 -38h0m-74 65h0m-11.5 -2h0m19.5 -16h0m-21.5 12h0m15 -10h0m-5 12.5h0m-4 -15.5h0m10.5 11h0m-5.5 8.5h0m1 -23.5h0m-14.5 7.5h0m17.5 -5.5h0m1.5 12h0m-13 -12.5h0m-4.5 -4h0m1.5 11.5h0m2.5 2.5h0m12 -6.5h0m-22 10.5h0m22 -7h0m0 2h0m-2.5 -0.5h0m-1 13h0m-10 -22h0m0 15.5h0m19.5 -9.5h0m-21.5 -0.5h0m2.5 2h0m20.5 7.5h0m-9 -15h0m8.5 4.5h0m-20 14h0m0.5 3h0m0 -9h0m13.5 -6h0m0 10h0m2.5 -2h0m-9.5 -18h0m-12 18.5h0m21.5 -16.5h0m0 21.5h0m5.5 -14.5h0m-12.5 16.5h0m4.5 -19h0m-8 -4h0m7 10.5h0m-10 5.5h0m-2.5 4h0m3.5 -6.5h0m-1.5 -13h0m12 16h0m2.5 -0.5h0m-12.5 -10h0m6.5 19h0m-4.5 -26h0m-2 23.5h0m4.5 -3h0m-14 -18.5h0m4 6.5h0m-0.5 -3h0m6 1.5h0m10.5 5h0m5 1h0m-12.5 1.5h0m1.5 1.5h0m-4 -16.5h0m-8.5 10h0m18 14.5h0m-16 -10.5h0m4.5 -14h0m-9 4.5h0m13.5 18h0m0 -19h0m-13 3.5h0m-2.5 -3.5h0m18.5 13h0m-13.5 -1.5h0m22.5 -5h0m-4.5 2h0m-1.5 -8.5h0m-15.5 19.5h0m7.5 -14.5h0m10 -4.5h0m5 7h0m-15 3h0m1 -13h0m-6 11.5h0m7.5 15h0m-9.5 -7.5h0m-2.5 -10.5h0m22.5 0h0m-7 5h0m-2 1.5h0m-7.5 3.5h0m1 -14.5h0m-3 7h0m-1.5 10h0m17 -3.5h0m4 -11.5h0m-0.5 5.5h0m-11.5 -11.5h0m2 23.5h0m-4 -21h0m6.5 8h0m11.5 4.5h0m-27 -10h0m12 5.5h0m4 4h0m-9.5 -2.5h0m4.5 12.5h0m-15.5 -14.5h0m4.5 -5h0m13.5 -7h0m10.5 4.5h0m-26.5 5.5h0m14.5 5.5h0m-3 -9h0m-10.5 -4.5h0m18 25h0m-18.5 -6h0m1 -15h0m15 18h0m11 -15h0m-2.5 6.5h0m-9 0h0m-16 -10.5h0m0.5 -0.5h0m12.5 0h0m-8 5.5h0m11 -6.5h0m-3 16.5h0m-6 -4.5h0m9.5 -7h0m-3 -4.5h0m-4.5 0h0m19 2.5h0m-11.5 3h0m-14.5 -2h0m13.5 -5h0m-3 23h0m-1.5 -10h0m16.5 -2.5h0m-26 4h0m25 4.5h0m-8.5 -6.5h0m6 1.5h0m2.5 0h0m-8 7h0m5.5 -13h0m3.5 6h0m-13 -12h0m-4 -6h0m17 24h0m-14 4h0m7 -23h0m4 11.5h0m-5.5 -1.5h0m1 -7h0m-3 -3h0m-12 18.5h0m7 2h0m5 -6.5h0m-4 -14h0m-8 20h0m13 -9h0m9 5.5h0m-22.5 1.5h0m16.5 -16.5h0m-0.5 20h0m-11 -25.5h0m3 15h0m-6 4.5h0m-2 -15h0m22.5 2.5h0m-22 -6h0m15.5 11.5h0m5.5 6.5h0m-8.5 -6h0m3.5 5h0m-12 -5h0m6 -13h0m-11.5 21.5h0m17 -8h0m-3.5 6.5h0m-10 4h0m-6 -14h0m8 -0.5h0m5 3.5h0m-9.5 2h0m-3 -2h0m-2 -5h0m9.5 4.5h0m-7.5 -10h0m17.5 7h0m-9.5 -1h0m8 2h0m-6.5 3.5h0m-0.5 -12h0m-8.5 1.5h0m23.5 3.5h0m-25 12h0m20.5 1h0m-2.5 -7h0m8 -3h0m-6 16h0m-7.5 -19h0m8.5 6.5h0m2 3h0m-14.5 -13.5h0m5.5 24h0m-8.5 -1.5h0m9.5 -16h0m-2 15h0m-7 0.5h0m13.5 -10h0m5.5 -4.5h0m-11.5 -11.5h0m-5.5 11h0m13.5 -0.5h0m-2 -5.5h0m-23.5 -1.5h0m18 -3.5h0m9 15.5h0m-19 7h0m12.5 -1.5h0m3 -10.5h0m0.5 10h0m-14 2h0m14 -7.5h0m-3 1h0m-14 -14h0m3.5 15h0m4.5 -0.5h0m6 -15.5h0m3 15.5h0m-19.5 -2h0m2 6.5h0m20 -14h0m-4 8.5h0m-9.5 -1.5h0m9 -4.5h0m-12 6.5h0m-6.5 -8h0m13 -5.5h0m-10 6h0m2 10.5h0m11 -16.5h0m5.5 15h0m-20 -14h0m-3.5 10.5h0m26.5 1h0m-20 4.5h0m10 2.5h0m-11 -15.5h0m17.5 -2h0m-19.5 7h0m3 11h0m21 -18.5h0m-10.5 12.5h0m-12.5 -11.5h0m19 11.5h0m1.5 -2h0m-4.5 -4h0m-17.5 -1.5h0m15.5 6.5h0m-4.5 -1.5h0m0 -6.5h0m-8 -1.5h0m20.5 17.5h0m-9 -20.5h0m4 5h0m4.5 -1h0m0 -1.5h0m-11.5 18h0m14.5 -8h0m-18.5 -0.5h0m-2.5 9h0m11 -9.5h0m10 -8h0m-20 18.5h0m15 4h0m-12 -16h0m9 -9.5h0m-1 1h0m-3.5 -4h0m0.5 20.5h0m-8.5 1h0m-2 -7.5h0m7 -11h0m8.5 21.5h0m-14.5 -11h0m21 10h0m-6.5 -9.5h0m-4 7.5h0m-17.5 -6h0m9 -2.5h0m17.5 -4.5h0m-15 15.5h0m19 -15h0m-16.5 -7.5h0m6.5 3.5h0m-18 -0.5h0m20.5 19.5h0m-21 -3.5h0m16.5 -14h0m7 10.5h0m-3.5 -3h0m0 3h0m-7.5 8h0m-1.5 -8.5h0m2.5 2.5h0m8.5 1.5h0m-17 -10.5h0m3.5 10h0m6 10h0m8.5 -19h0m-15.5 -0.5h0m13 -5.5h0m-17.5 6h0m-3.5 8.5h0m20.5 -10h0m0 17.5h0m0 -23.5h0m-6.5 -1h0m3.5 -1h0m5.5 21.5h0m-22.5 -15.5h0m22 0.5h0m-21.5 2.5h0m21 4.5h0m94.5 -43h0m-3 -6h0m1.5 2.5h0m-1 6h0m5 -8.5h0m0 11.5h0m1 -5h0m-6 6.5h0m-1 -14h0m2 8h0m-5.5 -7h0m14.5 6h0m-5.5 -3h0m-11 1.5h0m13.5 -2h0m-15 2h0m7 1h0m-3.5 -1.5h0m2.5 5.5h0m3.5 0h0m-1 -13.5h0m-9.5 12h0m13.5 1.5h0m-4.5 -12h0m-2 10h0m9 -3.5h0m-9 -2h0m7.5 7.5h0m-13.5 1.5h0m4 -12h0m-3 3.5h0m18.5 14h0m-17 -14h0m7 5h0m-3 -9h0m0 4h0m-6.5 3.5h0m1.5 -8h0m14.5 11.5h0m-0.5 -3.5h0m-9 -1h0m-4.5 4h0m8 -5h0m-10.5 1h0m17 7h0m-4 -8h0m-3.5 4h0m0.5 2h0m-4 -14.5h0m-8.5 6h0m5 7h0m11.5 -3h0m-2.5 0.5h0m-1.5 -2.5h0m-3 7h0m1 -5h0m7 4.5h0m-8 -3.5h0m-3 -0.5h0m6.5 -0.5h0m-0.5 1.5h0m-13 -5h0m12.5 1.5h0m-5 1h0m12.5 0h0m-11 -1h0m-2.5 4h0m1 2h0m9 -1.5h0m0.5 -3h0m-13.5 0h0m11.5 -6.5h0m-9 12h0m8 1h0m1.5 -5.5h0m-1.5 3h0m-2 -4.5h0m1.5 -0.5h0m10 -2h0m-18.5 -2h0m12 3.5h0m-4 1h0m0.5 -5.5h0m-1 4h0m5 5h0m-11.5 -7h0m9 10h0m0.5 -6h0m2 -10h0m-8 6h0m-2.5 7h0m6.5 -1h0m-2 1h0m4.5 -5h0m0.5 -1.5h0m4 -1.5h0m-10 0.5h0m2 11h0m-4 2h0m10.5 -6.5h0m-10 2.5h0m-10.5 -7.5h0m18 3.5h0m7.5 -3h0m-18.5 2h0m9.5 8.5h0m-11.5 -7h0m14.5 -3.5h0m-8 -2.5h0m6 9h0m-1 -2.5h0m2 -1.5h0m-1.5 4h0m3 -1h0m-6 0.5h0m-8 -11h0m15.5 8.5h0m-13 -3h0m4.5 3h0m-3 4h0m-4.5 8h0m3 -5h0m8.5 -15h0m-9.5 8h0m7.5 -2.5h0m-1.5 2.5h0m-5.5 0h0m16.5 -3.5h0m-16 6h0m11.5 1.5h0m-9.5 -5h0m4 -0.5h0m1 6h0m0.5 -5h0m-3.5 8h0m-5 1h0m9.5 -8.5h0m-7 7.5h0m9.5 -4h0m4 -12h0m-9.5 6.5h0m-4 2h0m6 2h0m-3 -8.5h0m3.5 8.5h0m7.5 1.5h0m-10.5 -9h0m13.5 2h0m-12.5 6.5h0m1.5 2.5h0m-7.5 -9h0m6 -2.5h0m-4 11.5h0m4.5 -6.5h0m-4 0.5h0m2.5 -5h0m4 -0.5h0m2.5 4h0m-17.5 -5.5h0m12.5 3h0m7.5 10h0m1.5 -2h0m-4 -6.5h0m0 0.5h0m-6.5 -4h0m0.5 8h0m-0.5 -7h0m4.5 9h0m-5 -0.5h0m5.5 -8h0m-18 -34h0m-8.5 8h0m10 -8h0m-3 2.5h0m0 -1.5h0m6 -6h0m-4 5.5h0m1 -1.5h0m-12.5 9.5h0m3 3h0m6 -11h0m5 -1h0m-21.5 16h0m6.5 -3.5h0m-0.5 3h0m-4 -1.5h0m12.5 -10h0m6 -9.5h0m-15.5 19h0m18 -19.5h0m-6.5 9.5h0m4.5 -1.5h0m-7.5 2h0m1 -1h0m3.5 -0.5h0m-8.5 4.5h0m-2.5 6.5h0m11.5 -5.5h0m-6 -3h0m-12 13h0m5.5 -3h0m7 -7h0m-4.5 1.5h0m3.5 0h0m1.5 -6.5h0m4 3h0m-5 -3h0m-2.5 6h0m9 -5h0m-9.5 4.5h0m0.5 4h0m6.5 -7.5h0m5 -5h0m-10.5 8.5h0m13 -10h0m-20 15.5h0m13 -11h0m-13.5 14.5h0m-0.5 -2.5h0m19.5 -13.5h0m-12.5 6.5h0m7.5 -5.5h0m-11 15h0m10.5 -15h0m1 2.5h0m1 -4h0m1 1.5h0m-12 10h0m14 -14h0m-0.5 -0.5h0m-14 7.5h0m5.5 0.5h0m-0.5 -2h0m4.5 -5.5h0m7 -0.5h0m-12 11.5h0m3 0.5h0m-6.5 0.5h0m1.5 -3.5h0m5.5 -3.5h0m4.5 -5h0m-5.5 5.5h0m-5.5 4h0m7 -3h0m-7 3h0m15 -10h0m-15.5 13h0m8.5 -5.5h0m8.5 -5.5h0m-8.5 5.5h0m0.5 -5h0m-11 11h0m11.5 -7h0m-6.5 4h0m2.5 -1h0m10 -10.5h0m-7.5 6h0m-2.5 1h0m0.5 1.5h0m-6 -3h0m14 34h0m-6 -5.5h0m7 15.5h0m-7.5 -17.5h0m-3 9.5h0m-4 2h0m5.5 -5.5h0m5.5 -0.5h0m11 1h0m-10 4.5h0m7.5 -5h0m-3.5 3h0m-11 -2.5h0m6.5 4.5h0m3 3h0m4 -4.5h0m-1.5 -2h0m-8.5 -1.5h0m-6.5 -1h0m14 -2h0m4 5.5h0m-18 -4h0m0.5 -1h0m3.5 4h0m-11 -2h0m5.5 5h0m11.5 3h0m-6 -5.5h0m13 2h0m6 2.5h0m-5.5 -0.5h0m-18 -4h0m27 -2h0m-17 0h0m0.5 2.5h0m8.5 4.5h0m0 -5h0m-13 1.5h0m0.5 -4.5h0m1.5 8h0m13.5 -1h0m-24.5 -10h0m5 8.5h0m9 -8.5h0m4.5 10h0m-24 -3h0m4 -1h0m23.5 6h0m-24 -12.5h0m23 1h0m-15 10h0m-0.5 -9h0m6.5 5.5h0m3 -3h0m-16 -3.5h0m13 12.5h0m10 -1h0m-13.5 -3.5h0m12 -4.5h0m-12.5 0.5h0m-8 -4.5h0m6 0.5h0m14 1h0m9 7.5h0m-28 -6.5h0m-0.5 3.5h0m9.5 1.5h0m-14.5 -4h0m7.5 1.5h0m9.5 4.5h0m-10.5 -13h0m15 13.5h0m-20.5 -11h0m17.5 5.5h0m12.5 -2.5h0m-7.5 7.5h0m2 0h0m-21.5 -3.5h0m25 5h0m1 -7h0m-26.5 3h0m18 6h0m-2.5 -5.5h0m-13 -8.5h0m7 2.5h0m10 3h0m3 7.5h0m-2 -6h0m-0.5 -2h0m-13.5 2.5h0m-2 -5.5h0m24 3h0m-29 3h0m28 -2h0m-31 -6h0m24.5 0.5h0m-2.5 5h0m8 1.5h0m-24.5 -4h0m24.5 10.5h0m-9 -7.5h0m7.5 -2.5h0m7.5 1h0m-14.5 3.5h0m5 3.5h0m-19 -0.5h0m20 -7h0m0 2.5h0m1 5h0m-20.5 -2.5h0m0.5 -9.5h0m11 -1.5h0m10 9h0m-8.5 -8.5h0m5.5 11h0m-4.5 0h0m-3 1h0m-14 -8h0m30 10h0m-11.5 0.5h0m-101.5 86h0m6 3.5h0m1 -5.5h0m-2.5 5.5h0m1 -3h0m-5 1h0m4 -0.5h0m5.5 3h0m-8.5 -2.5h0m2 -0.5h0m6.5 2.5h0m-5.5 -4h0m-0.5 2.5h0m-1.5 2h0m2 -6h0m7 -4.5h0m-8 7h0m4.5 3.5h0m1.5 1h0m-4 -3.5h0m2.5 -0.5h0m-8 -1h0m7 2.5h0m-6.5 1.5h0m5 -7h0m0.5 6.5h0m0.5 -3.5h0m-5 4h0m4 -3h0m-2.5 -2.5h0m-5 1.5h0m10.5 3h0m-6.5 2h0m1.5 -6.5h0m4.5 6h0m-5 -6.5h0m1.5 -3h0m0 10h0m1 -6h0m1.5 1h0m2 0h0m2.5 0h0m-6.5 -1.5h0m-5 3.5h0m5.5 -3.5h0m29.5 1.5h0m-3 1h0m2.5 2h0m2 -1h0m-5 -2.5h0m3 -1.5h0m-1.5 2h0m0.5 1.5h0m2.5 3.5h0m-0.5 -1.5h0m-4.5 0h0m6 -6h0m3 2h0m-12.5 6h0m6 -6.5h0m-1.5 4.5h0m2 -3.5h0m2.5 -1.5h0m-5 1h0m0 3h0m1.5 -4h0m-0.5 -2.5h0m1.5 5.5h0m1 -1h0m-0.5 -2h0m-1 3h0m-3 1h0m3.5 -1.5h0m-1.5 5h0m1 -7h0m-18.5 -17.5h0m0.5 -3h0m-2 -1.5h0m7 6.5h0m-1 3h0m-1.5 -1.5h0m7.5 9.5h0m-12.5 -24h0m2 6.5h0m3.5 1h0m0.5 13h0m-3 -8.5h0m4 1h0m-4.5 -9.5h0m3 6.5h0m-0.5 8.5h0m-0.5 -10.5h0m2 5.5h0m1.5 -2.5h0m-5 -8h0m3.5 8h0m-3 8.5h0m-1 -0.5h0m-3 -19h0m3 -1h0"/><path id="uT" d="M209 70.5h0m-6.5 4h0m0.5 10.5h0m6.5 -19h0m3.5 27.5h0m-6 -6h0m0 -3.5h0m21 -16h0m-14.5 21h0m-6.5 -3.5h0m2.5 -5h0m10.5 -15h0m-17 8h0m19 -7h0m-14.5 11h0m7.5 17.5h0m-2.5 -26.5h0m-7 9.5h0m18.5 -9.5h0m-23.5 13.5h0m8.5 -9.5h0m19.5 -3.5h0m-14.5 -4h0m-9 10h0m-3 5.5h0m12.5 -11h0m-4.5 18.5h0m16.5 -17.5h0m-26 10h0m4.5 1h0m-0.5 -12.5h0m17 0h0m-12.5 2.5h0m13.5 -3h0m-10 1h0m6 -0.5h0m-9 5.5h0m10.5 -14.5h0m-7 5.5h0m-5.5 14h0m23.5 -10h0m-24.5 8h0m-5.5 -6.5h0m22 -4.5h0m-10.5 7h0m4 20.5h0m-12.5 -15.5h0m-4 3h0m9 -14h0m3.5 22.5h0m4.5 4.5h0m-10 -17.5h0m9 16h0m10 -23.5h0m-10.5 22h0m-9 -23h0m2 18h0m18.5 -12h0m-14 17h0m-9.5 -6.5h0m-0.5 6h0m1.5 -5.5h0m13 -20.5h0m-0.5 23.5h0m-9.5 -20.5h0m4.5 4h0m-9 5h0m4 4h0m0.5 -6.5h0m6 -7h0m9.5 0.5h0m-18.5 10.5h0m14.5 -13.5h0m-5.5 0.5h0m-6.5 6.5h0m8 -5h0m-4 21h0m5.5 -19h0m-7 26.5h0m15 -26h0m-16 19.5h0m7 -19.5h0m0.5 3h0m-15 3h0m4.5 -0.5h0m19.5 -4.5h0m-22 12h0m8.5 8h0m-2.5 -21h0m-3.5 21h0m11 -23h0m-3.5 20h0m2.5 4.5h0m0.5 -24.5h0m-12 1h0m9.5 1.5h0m8 -0.5h0m-7 23h0m1 -23.5h0m-6.5 5.5h0m-6.5 0.5h0m8.5 15h0m18 -19h0m-4.5 5h0m-22 0.5h0m0.5 -3.5h0m0.5 6.5h0m24 -6h0m-19.5 14h0m-6 2.5h0m14.5 -22.5h0m-14 6.5h0m1 14h0m20 -13.5h0m-16 18h0m10 -26h0m-16 0h0m13 3h0m-8 16h0m-3 -6.5h0m14.5 -11.5h0m-12 3.5h0m19.5 -1h0m-20 7h0m0 11h0m1.5 -11h0m17.5 -7.5h0m7.5 1.5h0m-23.5 11.5h0m-3.5 -0.5h0m8.5 -9.5h0m-7.5 -3h0m11 1h0m-11 9h0m5 10h0m6 5h0m2 -24.5h0m-3.5 -2.5h0m-2 28h0m1.5 0h0m6 -21h0m3 -6h0m-18 10h0m13.5 -14h0m-13 11.5h0m11.5 -1h0m-11.5 -2h0m4.5 -0.5h0m-14 3.5h0m13.5 -3h0m-4.5 -4h0m23 0h0m-23 18h0m10 -18h0m-7.5 14.5h0m8 7h0m6 -21h0m-17.5 14h0m3 -12.5h0m6.5 20h0m-6.5 -4.5h0m10.5 -17.5h0m-1.5 0.5h0m-8.5 23h0m2.5 -22.5h0m3 -1h0m-5.5 24.5h0m18.5 -23h0m-14 -3.5h0m-5 -1.5h0m-2.5 14.5h0m9.5 -8.5h0m-13 20h0m3.5 -14.5h0m23.5 -8.5h0m-21 20.5h0m-0.5 -3h0m-1.5 1h0m10.5 -23.5h0m-13 14.5h0m12 -10.5h0m-11 22.5h0m12.5 4.5h0m-10.5 -11h0m19.5 -11h0m-17 20.5h0m-8.5 -15.5h0m20.5 -6.5h0m6 -1h0m-16.5 22h0m3 -21.5h0m2.5 -2.5h0m-7.5 18.5h0m3 3h0m8 -24.5h0m-0.5 -2.5h0m-13 14.5h0m4 14.5h0m5.5 -22h0m-14 11h0m1.5 6h0m-2.5 -10.5h0m8.5 15.5h0m-1.5 -4.5h0m4.5 0h0m4.5 4.5h0m10 -20h0m-17.5 7h0m-6.5 -2.5h0m23 -8.5h0m-24.5 19h0m24 -14h0m-12 14.5h0m-11 -3h0m1 4.5h0m4.5 -17.5h0m0 17h0m-1.5 4.5h0m14.5 -27h0m-8.5 24h0m-3.5 -19h0m7 -4.5h0m-7.5 5h0m8 -6h0m9.5 6.5h0m-21 18h0m2.5 -13.5h0m3.5 -6h0m-4.5 1h0m-2 7h0m8 10h0m-0.5 -18.5h0m12 2.5h0m-10.5 17h0m13.5 -23h0m-4.5 3h0m-13.5 3h0m-4 2h0m11 -8.5h0m-4.5 10h0m17 -4h0m-24 5.5h0m3 -5.5h0m9.5 19.5h0m-0.5 -25.5h0m-11.5 2h0m8.5 19.5h0m-6 0.5h0m23 -17h0m-21 -1h0m6.5 2.5h0m-5 14.5h0m5.5 4h0m-11.5 -11.5h0m-2 -0.5h0m12.5 -9.5h0m-6 2.5h0m-8.5 17.5h0m2.5 -4.5h0m10.5 -21h0m-12.5 17h0m0.5 2h0m6 -11h0m8 21h0m6.5 -25.5h0m-14.5 20h0m-4.5 -10h0m24 -4h0m-14.5 20h0m-2.5 -23h0m18.5 3h0m-18.5 7.5h0m20 -10h0m-11 -2.5h0m8.5 1.5h0m-8 -5h0m-12.5 4h0m-1 8h0m3.5 13h0m-9 -1h0m26 -20h0m-18.5 14.5h0m10 13.5h0m13.5 -27h0m-3.5 3h0m-29.5 2.5h0m1 5.5h0m15 -10.5h0m-11 15h0m1 1.5h0m5 1h0m-1.5 0h0m17 -18.5h0m-7.5 24h0m-12.5 -24h0m11.5 24.5h0m-9 -17.5h0m1.5 10.5h0m16 -23h0m2 7.5h0m0.5 2.5h0m-26 4h0m19 -11.5h0m-17.5 9.5h0m2.5 -5.5h0m12.5 23h0m-15 -13.5h0m4 -6.5h0m2 -4.5h0m2.5 2.5h0m19.5 -2h0m-26 13h0m7.5 -13.5h0m2.5 3h0m-10.5 8h0m4 6.5h0m4.5 4.5h0m-7.5 -6h0m1 -1h0m24.5 -12.5h0m-22 3h0m-1 -2h0m13 -1.5h0m-16.5 11h0m3.5 8h0m-4 -4.5h0m12 5h0m-5.5 3h0m7.5 -22.5h0m-15 6.5h0m17.5 -9h0m-12 4h0m-3 14h0m3.5 0h0m7 8h0m-10 -7.5h0m23.5 -18h0m-26 8h0m10 -10.5h0m-2 15.5h0m1.5 10.5h0m-8 -6.5h0m5 -17.5h0m-4 17.5h0m18.5 -14.5h0m-10 20h0m0 2.5h0m-1 2.5h0m-7.5 -22.5h0m-1 11h0m2.5 -6h0m7 -8.5h0m-8 7.5h0m-5 -3h0m23.5 -1.5h0m-11.5 -4.5h0m-4.5 7.5h0m0.5 -6.5h0m19.5 4.5h0m3 -3.5h0m-11 -1h0m-12 19.5h0m-2 -11h0m-2.5 9h0m2 -12h0m6.5 -6.5h0m2.5 -2h0m0 28h0m-9 -19h0m4.5 -4h0m-1.5 -3h0m-3.5 4.5h0m21 -2h0m-19 14h0m4 4h0m-4 -9.5h0m5.5 12h0m6 -28.5h0m-17.5 15.5h0m15 13h0m-12 -1h0m9 -1h0m-6.5 -5.5h0m9 10.5h0m9.5 -23h0m-10 21h0m-10.5 -25h0m18 2.5h0m1 -1h0m-19 14h0m4.5 -11.5h0m4 22h0m10 -24h0m-17 6h0m19 -9h0m-22 22.5h0m23.5 -21h0m-17 12h0m-3.5 -6.5h0m23.5 -3.5h0m3.5 -1.5h0m-28 5.5h0m6 -8h0m14 5.5h0m-5.5 -3.5h0m-6.5 -3h0m-5 25h0m2 3.5h0m19 -27.5h0m-24 7.5h0m12 -5.5h0m-9 6h0m2 17.5h0m-9.5 -10.5h0m11.5 -13h0m13 -1h0m-5.5 -4h0m-11 24.5h0m-6 -14.5h0m6.5 12h0m-2 2h0m12.5 -0.5h0m-5 -9.5h0m-7 11.5h0m2 -3.5h0m14 6h0m-7.5 -11.5h0m0.5 -4.5h0m-5.5 1h0m5.5 9.5h0m4.5 -2h0m-4.5 -7h0m5 14h0m1.5 0.5h0m-11 0h0m1.5 6h0m-1.5 -15h0m3 0h0m2.5 -3.5h0m-1.5 -1h0m8 7.5h0m-17 3h0m3.5 -4h0m1 12h0m10 -24h0m-9.5 7.5h0m-4.5 12h0m-1 -17h0m8.5 5.5h0m-0.5 8h0m1.5 -8h0m-2.5 7h0m-11.5 -0.5h0m11.5 9.5h0m2 -19h0m-4 6.5h0m0 -4.5h0m10.5 5.5h0m-15 12h0m4 -14.5h0m2 1h0m6.5 14.5h0m-15 -9h0m12 4h0m-0.5 4.5h0m-6 -14.5h0m2 6h0m5.5 6.5h0m-3.5 -6.5h0m-4 2h0m11 -5h0m-19 9.5h0m12 -15.5h0m-2.5 9h0m7.5 3h0m-6 -7.5h0m-1.5 2.5h0m-1 -4h0m-1 -5.5h0m0.5 12.5h0m21.5 51.5h0m43.5 7h0m-29 -0.5h0m6.5 10h0m-10 -17h0m13 12.5h0m9 -3h0m-22 15h0m17 -11h0m-0.5 18h0m-16 -34h0m21.5 2.5h0m-6.5 11h0m-18.5 11.5h0m5.5 -19h0m4.5 10.5h0m-3.5 12.5h0m0 -6h0m25 6.5h0m-14.5 -15h0m13.5 -7.5h0m-29 1.5h0m30 2.5h0m-39 -0.5h0m7 -12h0m4.5 20h0m12 -9.5h0m1.5 -5h0m7 20.5h0m-12 -5.5h0m5.5 16.5h0m-12 -13.5h0m9 -13.5h0m-21.5 3h0m44.5 1h0m-44 1.5h0m34.5 10h0m-12.5 -27h0m4.5 12h0m0 15.5h0m-12.5 -20.5h0m29 4h0m-11.5 6.5h0m-28 12.5h0m35 -21h0m-30.5 18h0m32 2h0m-9 -13.5h0m-18.5 2.5h0m-9 -9.5h0m11 26h0m28.5 -24.5h0m-1.5 9.5h0m-24 8.5h0m7 8.5h0m1.5 -1h0m10 -24.5h0m-5 8h0m-14.5 -10h0m24.5 21.5h0m-37 -14.5h0m10 -10h0m14.5 -5.5h0m-25 2.5h0m17 1.5h0m-20 13h0m2.5 7h0m3.5 -12.5h0m-3 12.5h0m23 -14h0m-23 9h0m26 9h0m-12 6.5h0m20.5 -11.5h0m-3.5 8.5h0m-0.5 -11.5h0m-21.5 -15h0m7.5 5.5h0m11 13.5h0m0 9.5h0m10.5 -5.5h0m-1.5 -13h0m0 14.5h0m-33.5 1.5h0m10 -24.5h0m1.5 7.5h0m1.5 18h0m12 -11h0m-3.5 18.5h0m7.5 -24h0m-19 6h0m24 3h0m-9 8.5h0m7 -9.5h0m-15.5 14h0m-11.5 -30h0m22 1.5h0m-32 15h0m14 2h0m13 8.5h0m6.5 -18.5h0m-3.5 -3h0m-32 -4.5h0m36 0.5h0m0.5 17.5h0m7.5 -6.5h0m-32 -10.5h0m25 20.5h0m6 0h0m6 -5h0m-15.5 -20h0m-25.5 25.5h0m-7 -7h0m21 4.5h0m-15.5 -16h0m37.5 -0.5h0m-12 -1h0m7.5 -5.5h0m-4 18.5h0m-26 -5h0m18 -10.5h0m-8 19.5h0m-1.5 -26h0m22 23h0m-4.5 6.5h0m-30.5 -23h0m9.5 1.5h0m-4 24h0m17 -27h0m13.5 26.5h0m-1.5 -18h0m-15.5 -3h0m10 23h0m-12 -25.5h0m-14 -5h0m-4 14h0m11 13h0m-5.5 -13h0m16 2h0m-10.5 -16h0m8.5 26.5h0m-6 -18.5h0m0 19.5h0m3.5 -19h0m-7 11h0m22 4h0m-30 -11.5h0m21 7.5h0m-18.5 -11.5h0m2.5 -3.5h0m17.5 10h0m-19.5 11h0m-6 -8.5h0m31 -13h0m-17.5 8.5h0m-15.5 9h0m29 -4.5h0m-6.5 -3.5h0m23.5 -4h0m-19.5 -3.5h0m-13 15h0m3.5 5.5h0m24.5 -8.5h0m-9.5 11h0m-17 -24.5h0m23.5 8.5h0m-32.5 -11.5h0m10.5 8h0m-2.5 5.5h0m30.5 4.5h0m-46 -3.5h0m2 8h0m-0.5 -8.5h0m37.5 -8h0m0.5 4.5h0m-40.5 -3h0m23 23.5h0m11 -23h0m4.5 11.5h0m-7.5 14.5h0m-5 -31.5h0m-16 -3.5h0m8.5 2.5h0m-7 8h0m10 18h0m-3.5 -17.5h0m-12 -10.5h0m-2.5 19h0m30 -8h0m-11 -9h0m-5 3h0m27.5 5h0m-34 -8.5h0m16.5 29h0m18.5 -9h0m-19.5 6.5h0m22 -23h0m-31.5 5.5h0m27.5 -1.5h0m2 8h0m-24.5 12h0m17 -20h0m-17.5 2.5h0m26.5 -5h0m-7 -3.5h0m-1 18.5h0m-35 -6h0m-4.5 0h0m11.5 -6.5h0m4.5 12.5h0m-2.5 -3.5h0m-8 -14h0m13 17h0m-13.5 -12h0m22.5 5h0m15 3.5h0m-28 6h0m32.5 -5h0m-10.5 -17.5h0m-5.5 1h0m-10.5 4.5h0m13 20.5h0m-23.5 -6.5h0m4.5 11.5h0m22 -25.5h0m-21.5 -5h0m25.5 12h0m-38 -3.5h0m17.5 16.5h0m-12.5 -32h0m26.5 30.5h0m-34 -25h0m21 0h0m5.5 27h0m-25 -11h0m45 1.5h0m-38.5 3h0m33 -12h0m0.5 -7.5h0m-33.5 12.5h0m12 -11h0m24.5 8.5h0m-29 -11.5h0m23 -1.5h0m-24 9h0m4 10h0m-7.5 3h0m9.5 -9.5h0m-3.5 4h0m4 -6h0m-8.5 5.5h0m-7 -1.5h0m-1.5 0.5h0m-4.5 -6.5h0m27 -5h0m3 25h0m2.5 -26.5h0m-7 31h0m-9 -17h0m-5.5 -2h0m12.5 16.5h0m-13.5 -13.5h0m18 -9.5h0m-19.5 14h0m11.5 -5h0m-7 16h0m-8.5 -8.5h0m28 -13.5h0m5 10.5h0m-35.5 -0.5h0m43.5 -3h0m-39 -9.5h0m17 2h0m-15.5 5h0m-0.5 -14h0m30.5 5.5h0m-25 0h0m25 22.5h0m-29.5 -4h0m30.5 -14.5h0m-37 5.5h0m40 3h0m-15 -4h0m-6 -1.5h0m-3 4h0m6 15h0m-25 -16.5h0m22 5h0m11 -23h0m-3 20.5h0m5 -8h0m-2 3.5h0m13.5 9.5h0m-11.5 -11h0m-5 10h0m-19 0h0m35.5 -0.5h0m-9 -14.5h0m7.5 17h0m-0.5 -6.5h0m-40 2.5h0m10.5 -18.5h0m-10 6.5h0m20.5 -2h0m15.5 18h0m-38 -19.5h0m24 23.5h0m6 0h0m5 -13h0m-36.5 1h0m24 -16.5h0m-17.5 18h0m8 5.5h0m-12 -22h0m35.5 6.5h0m-10.5 4h0m2.5 21.5h0m-25 -20.5h0m25 0.5h0m-21.5 -11h0m27 30h0m-29.5 -2h0m2.5 -23.5h0m3 13.5h0m18 -11h0m-4.5 21h0m-2 -17.5h0m-3.5 -11h0m9 13h0m-4 -3h0m5 9h0m-0.5 -6.5h0m3 -5.5h0m-5.5 11h0m3.5 -6.5h0m-17.5 6h0m17 -4.5h0m-12.5 -18.5h0m12 34h0m-12 -2h0m5 -17h0m-21.5 8h0m12 -9h0m25 1h0m6 5.5h0m-16 -13h0m16 2.5h0m1.5 12h0m-36 -18.5h0m15 17h0m-15 10h0m4.5 -27.5h0m-8.5 8h0m13 18h0m24.5 -16.5h0m-8.5 26h0m-13.5 -31h0m-9.5 23.5h0m35.5 -8.5h0m-38.5 9.5h0m33 -24.5h0m1 3.5h0m-9 -7h0m-32.5 18.5h0m42 5h0m-29.5 -10.5h0m9 15.5h0m20.5 -21.5h0m-20 15.5h0m16.5 -15.5h0m-23.5 21.5h0m20.5 -5h0m-8 12h0m-1.5 -27h0m18.5 -9h0m-39 17h0m-0.5 -12h0m40.5 10h0m-26.5 3h0m14 3.5h0m-15 -19h0m14 31h0m-9 -34.5h0m-20 12.5h0m3 2h0m28.5 0h0m-0.5 2.5h0m-23 14h0m2 -31h0m12 19.5h0m15.5 -13.5h0m-18.5 -2.5h0m14.5 23.5h0m-2.5 -27h0m-26 24.5h0m8 9.5h0m3 -30h0m15.5 4.5h0m-8 10.5h0m13 8.5h0m-6 -1h0m-16 -21.5h0m-2 24h0m6 0h0m9.5 7h0m-24.5 -8h0m22 -17h0m0.5 -7h0m-5.5 12.5h0m23.5 -1.5h0m-27 12.5h0m-18 -9h0m36.5 4.5h0m-17 -26h0m-4.5 15h0m11.5 5.5h0m-6 -13.5h0m8.5 16h0m5.5 0h0m-5.5 9h0m8.5 -8.5h0m0.5 -13.5h0m-33 20.5h0m-4 -1h0m32 -28.5h0m-25 16.5h0m17 -17h0m-25 20h0m32.5 9.5h0m13 -4.5h0m-38.5 -24h0m-5 24.5h0m31.5 -21h0m-17 9h0m-15.5 11.5h0m1 -18.5h0m17.5 18.5h0m-19.5 -1h0m16 8h0m7 2.5h0m-9 -12h0m-9.5 -17.5h0m-1 15.5h0m20.5 -12.5h0m-20 0.5h0m36.5 15.5h0m-36.5 -21h0m20 14h0m-19.5 5.5h0m37.5 -5.5h0m-21.5 -15.5h0m-5 3h0m-6.5 -1.5h0m12.5 30h0m-5.5 -1h0m-9 -1.5h0m18.5 -4.5h0m-8 -3.5h0m26.5 0.5h0m-0.5 -5h0m-5.5 -11.5h0m-27 26h0m9.5 1.5h0m17 -15.5h0m-21 -5.5h0m19.5 4.5h0m-8 -16.5h0m-9.5 14h0m-11.5 10.5h0m23 -6.5h0m-19 8h0m18 1.5h0m-26 -8.5h0m22.5 -4.5h0m13 8h0m-30 -3.5h0m26 -11.5h0m-18.5 10.5h0m2 14.5h0m10 -22.5h0m-29.5 -3h0m5.5 -2h0m-1.5 26h0m7 -6.5h0m-4 -25.5h0m-2 16.5h0m39.5 -5.5h0m-0.5 16.5h0m-5 -14h0m-5 2.5h0m-16 10h0m-7 0h0m25 -1.5h0m-11.5 5h0m-10.5 -17.5h0m12.5 -9h0m8.5 9h0m-20 18h0m15 -3.5h0m0.5 -5h0m-13.5 -19.5h0m-5.5 26h0m13 8h0m-17 -28h0m-5.5 0.5h0m34 15.5h0m-26 -16h0m31 9.5h0m-37 -13.5h0m-5 5.5h0m25.5 23h0m20.5 -0.5h0m-19 -8h0m7 3.5h0m-8.5 -14.5h0m0.5 -11.5h0m-1 35.5h0m-25.5 -25h0m24 -9.5h0m-12.5 19.5h0m27.5 6.5h0m-1.5 5.5h0m-11 -5.5h0m4.5 1.5h0m1 -18.5h0m7 13.5h0m-15.5 11h0m-2.5 -9.5h0m-16 -12h0m0 -9h0m15.5 25h0m4.5 -16h0m-15.5 20h0m16.5 -9h0m-10.5 -27.5h0m-3.5 9h0m3 -3h0m0 -1.5h0m5 8h0m0.5 16.5h0m23 -3h0m-5 14h0m-20.5 -20h0m-6.5 -14h0m2 28h0m11 -11.5h0m-3 6.5h0m-8 -19h0m-10 13.5h0m31.5 16.5h0m-2.5 -10h0m-20 0.5h0m3 -7h0m19 -16.5h0m-2.5 -1h0m-5 23h0m1 7.5h0m-12.5 -27h0m34 4.5h0m-15 -0.5h0m-19 6.5h0m23 -8.5h0m-2.5 1.5h0m-26.5 -4h0m33 20h0m-14.5 -22h0m19 20.5h0m-8.5 -18h0m-0.5 -2h0m0 16h0m-12.5 9h0m0.5 -24.5h0m-19 1.5h0m21 7.5h0m17.5 -2.5h0m-42 -8.5h0m12 17.5h0m-15 -9h0m0.5 -3h0m13 15.5h0m-7.5 5h0m2 -3h0m1.5 4h0m26.5 4h0m-7 -23h0m-6.5 -9h0m-2.5 3.5h0m6.5 15h0m9 15h0m-29 -31.5h0m14.5 7.5h0m13 25.5h0m4 -30.5h0m-28.5 11h0m7.5 15h0m21 -1h0m-32 -21.5h0m-1.5 8h0m24.5 -11h0m10 19h0m-11.5 2.5h0m12 -5.5h0m-11.5 11.5h0m-29.5 -31h0m19 -3.5h0m25.5 5.5h0m-33.5 6.5h0m2 8h0m23 -12.5h0m-23 18h0m24.5 -15h0m-11 13h0m-6 -10h0m23 -5.5h0m-11 5h0m-6.5 -12h0m-11 32.5h0m4.5 -32h0m28.5 13h0m-34.5 -12h0m24.5 21h0m12 -7h0m-36 17.5h0m-6.5 -21h0m3.5 1.5h0m26 -12.5h0m-9 25h0m-11.5 -15.5h0m25.5 16.5h0m-27 -7h0m-16 -9.5h0m18.5 21h0m5.5 -30.5h0m6 5.5h0m-7.5 8.5h0m19 10.5h0m-27.5 9h0m-5 -11.5h0m36.5 0h0m-26.5 -21.5h0m3.5 20.5h0m9.5 1h0m-30 -17h0m28.5 -5.5h0m4.5 -2h0m-14.5 1.5h0m22 18h0m-39 -17.5h0m16.5 -6h0m-18 16.5h0m44.5 -1h0m-26.5 14h0m0.5 -12.5h0m-4.5 -11.5h0m12 35h0m-7.5 -18h0m18 -8h0m-18 11h0m-19 -13.5h0m22.5 17.5h0m-7.5 0.5h0m7.5 5.5h0m-9.5 -14.5h0m3 -2h0m25 11.5h0m-23 7h0m-6.5 -27h0m1.5 6.5h0m15 -6h0m14 1h0m-28 -2h0m14.5 8.5h0m10.5 14.5h0m-28.5 -3h0m1 4h0m16 -15.5h0m-13.5 13h0m20.5 -19h0m-17.5 7h0m-3.5 -4.5h0m29 -1h0m1.5 16h0m-24 -20.5h0m1 -3h0m10.5 34h0m-30 -31h0m0 14.5h0m23 -17h0m-15.5 9.5h0m6 -8h0m3 21.5h0m21.5 -5.5h0m-16 -14h0m-2.5 30.5h0m24 -11h0m-13.5 -20h0m-13 30h0m11 -12.5h0m-18.5 -2.5h0m12 -11.5h0m1.5 19.5h0m-18.5 -14h0m-4.5 -11.5h0m-2.5 8.5h0m8.5 -12.5h0m18.5 24.5h0m-7 11.5h0m3 -13.5h0m-6 -10.5h0m-9 -1.5h0m32 16.5h0m-25.5 -14h0m5.5 -9.5h0m25.5 19h0m-20 5.5h0m-1 -17.5h0m7.5 -7.5h0m-5 -1h0m15 8h0m-35.5 17.5h0m16.5 -19h0m-10 -6h0m-7.5 13h0m21 9.5h0m-9 6h0m28 -18h0m3 4.5h0m-31.5 19h0m19 -15.5h0m6.5 8h0m-8 -24h0m-21.5 -1h0m7.5 6.5h0m8 17.5h0m0 1h0m-26.5 -15h0m14.5 -10h0m0.5 11h0m18 15h0m-15 -10h0m8 4.5h0m16.5 -10h0m-20.5 17.5h0m21 -12h0m-32 -17h0m-5.5 15h0m28 -7h0m2.5 -7h0m-3.5 22.5h0m-23.5 -16h0m96.5 -18.5h0m-27.5 39h0m71 -24.5h0m-38 9.5h0m-8.5 14.5h0m31.5 -16.5h0m-52 -0.5h0m57 -8.5h0m-12 -10h0m-23.5 36.5h0m40.5 -40h0m-52 10.5h0m10 20.5h0m42 -10.5h0m-57.5 -1.5h0m15 5h0m41.5 -27h0m-67.5 22.5h0m9.5 1h0m-0.5 -4h0m-6 25.5h0m26.5 -12h0m-7.5 9h0m-26 -23h0m13 11h0m16.5 20.5h0m49 -23h0m-8 19h0m-69 -7h0m71.5 -31.5h0m-26.5 11.5h0m-4.5 -11h0m-23 1.5h0m36 -12.5h0m-4.5 54h0m-12.5 -24.5h0m-38 -25h0m49.5 4h0m-31.5 7h0m31 14h0m-51.5 2h0m33.5 20.5h0m-32 -25h0m66 -27.5h0m3 24h0m-5 -22.5h0m-29 3.5h0m10.5 -0.5h0m-21 26h0m-3 -22.5h0m5 45h0m48.5 -43h0m-35 20.5h0m34.5 0h0m-38.5 -20h0m36 16h0m-19 -21.5h0m7.5 5.5h0m-17.5 40.5h0m-20 -50.5h0m29.5 -0.5h0m-51 37.5h0m33.5 -29h0m35.5 2.5h0m-41.5 3h0m4.5 -4h0m-25 23.5h0m54 -26h0m-37 36h0m51.5 -8.5h0m-37 -31.5h0m0 46h0m-25 -18h0m-12.5 -16.5h0m57.5 26h0m5 2.5h0m-16 4h0m-42 -23h0m72 -8.5h0m-30.5 8.5h0m-35 5.5h0m4 14h0m-5.5 -35.5h0m63.5 20h0m-63.5 -9h0m11.5 11h0m-20.5 1h0m82 9h0m-18.5 7.5h0m-46.5 -28h0m-5.5 -9.5h0m-5 1h0m7.5 16h0m29.5 19.5h0m15 -15h0m-4.5 -11h0m8.5 2.5h0m-41 7.5h0m-14 0h0m-8.5 -15h0m31.5 36.5h0m-7 -44.5h0m29.5 4.5h0m-22.5 -10.5h0m-1.5 41.5h0m-4.5 -10h0m30 -10h0m2.5 24h0m-20 -33.5h0m-39.5 9h0m4 15.5h0m30.5 14.5h0m7 -34h0m25 14h0m-26 0h0m1 -23h0m-2 6h0m-28 35h0m32 -7.5h0m-7.5 -37.5h0m41 29.5h0m-40 0.5h0m-40.5 -7.5h0m72 -6h0m6 9.5h0m-44 -25.5h0m-20.5 23.5h0m19 -11.5h0m-1 -6.5h0m-17 -8.5h0m57.5 21h0m0.5 19.5h0m8.5 -23.5h0m-23.5 0h0m4 -12h0m-31 -5.5h0m23.5 49.5h0m-14 -3.5h0m-7 -3.5h0m-3.5 -2.5h0m50 -28h0m-2.5 24h0m3 -23h0m-66.5 32h0m17.5 -45h0m42 19.5h0m12 -7h0m-42 10h0m27 -7.5h0m-3 21.5h0m-35.5 -12h0m33.5 -2.5h0m17.5 -3h0m-63.5 -4.5h0m32.5 20.5h0m-5.5 -4.5h0m-16 -16.5h0m8 9.5h0m-11 6.5h0m15 -22h0m30.5 15.5h0m12 -10h0m-25.5 14h0m-34.5 11.5h0m-11.5 -26.5h0m36.5 -16.5h0m4.5 9h0m6.5 47h0m-3.5 -11.5h0m0.5 -28h0m-8 40.5h0m-13 -5.5h0m-21 -41h0m0.5 33.5h0m15 6h0m-19.5 -26.5h0m56.5 6h0m-15.5 -31.5h0m-12.5 27h0m42 -14h0m-13.5 6.5h0m-55 30.5h0m62 -21h0m-14.5 -13h0m-53.5 21.5h0m28 -17.5h0m51 4h0m-38 19.5h0m3 -4h0m18.5 -25h0m7 0h0m-64 16.5h0m69 7h0m-46 17.5h0m47.5 -32h0m-19.5 -15.5h0m9 23h0m12 12.5h0m2.5 -8h0m-82.5 4h0m9 -21.5h0m11 37h0m32.5 -27.5h0m-32.5 22h0m37.5 -24h0m-52.5 -11.5h0m65.5 41h0m-45.5 -15.5h0m30 -21.5h0m-22.5 32h0m-1 -42h0m41.5 33h0m-55.5 -12h0m-2.5 16h0m-10.5 -12.5h0m60.5 -9h0m-18.5 33.5h0m-20.5 -54.5h0m33 36.5h0m-21 -18h0m31.5 6h0m-23.5 12h0m-24 -4h0m10 21h0m43 -28.5h0m-51 -13.5h0m16.5 11.5h0m-20.5 -6.5h0m12 -13h0m-8 8h0m50 13h0m8 10.5h0m-22.5 -23.5h0m4.5 33h0m-10 -12h0m-12.5 21.5h0m33.5 -40.5h0m-40.5 37h0m-29.5 -4.5h0m48.5 -18.5h0m-8 4.5h0m-36 2.5h0m39 -13h0m-42.5 -7h0m41.5 13h0m4 29h0m0.5 -24.5h0m-16.5 -30.5h0m-31 31h0m24.5 -19h0m53 13h0m-72 13h0m32.5 0.5h0m7 10h0m-20.5 -2.5h0m49 -3.5h0m-59 -30.5h0m-4 -8h0m-4 24.5h0m0.5 18.5h0m57 -1h0m-15.5 4h0m-46.5 -26h0m30 -8h0m-17 9h0m27.5 -4h0m22.5 27.5h0m-48 -42h0m42 44h0m-57.5 -8.5h0m60.5 9.5h0m-41 -24h0m-5 14.5h0m54.5 -33.5h0m-5.5 38.5h0m-71.5 -32h0m6 22h0m0 -36h0m5 10.5h0m44.5 0h0m-8.5 -9h0m-9.5 8.5h0m-34 -6.5h0m77.5 35.5h0m-34.5 8h0m-16 5h0m38 -20.5h0m9 -8h0m-59 11h0m-14 -25.5h0m27 -1.5h0m-30 36.5h0m6 -27h0m31 15h0m-6.5 8.5h0m-6.5 -14.5h0m27 -22h0m-53 12.5h0m74.5 12h0m-71.5 10h0m29.5 6.5h0m26.5 -17h0m-24.5 -6h0m-7.5 7h0m-15.5 11h0m29 10h0m44.5 -39.5h0m-16.5 33.5h0m-50 -34h0m64 17h0m-49.5 21h0m-20 -29.5h0m58.5 31.5h0m-63.5 -27.5h0m6 -4.5h0m10 -2.5h0m49 25.5h0m-49.5 -30h0m-7 29.5h0m67 -14h0m-67 5.5h0m43.5 5h0m-17 14h0m-28 -19.5h0m26 -23h0m25 29.5h0m-25.5 5.5h0m-22 -31h0m56.5 16h0m-29.5 -25h0m-7.5 48.5h0m-13.5 -11h0m42.5 4.5h0m-40.5 3.5h0m21.5 -42h0m15 15.5h0m11 16.5h0m-36.5 -27h0m-13.5 0.5h0m-12 -4h0m47 39h0m20.5 -41.5h0m-67.5 5h0m-5.5 34.5h0m40 10h0m-11 -18h0m35 -36h0m-1.5 15.5h0m-26.5 -19.5h0m-5 17.5h0m-31 -6h0m23.5 38.5h0m-18.5 -31.5h0m49 -3.5h0m-23 22h0m0 -15.5h0m-13.5 0.5h0m16 -10.5h0m-11.5 43h0m36 -26.5h0m-66 -11.5h0m78.5 12.5h0m-6.5 -10h0m-53.5 -5h0m34 -12.5h0m17 44h0m-9.5 0.5h0m-34.5 1.5h0m-17.5 -15h0m56.5 -14.5h0m-62 -2.5h0m44.5 19h0m38.5 -16.5h0m-74.5 19.5h0m12 -8h0m51 -19.5h0m-43.5 8h0m25.5 8.5h0m23.5 17h0m-5 -19h0m-68.5 4h0m65 -22h0m-24 16h0m-10.5 -21.5h0m-35 12h0m59 33h0m-29 -41.5h0m7.5 2h0m-28 14h0m54 3h0m-54 26h0m5.5 -5h0m7 -44h0m6 31h0m35 24.5h0m-12 -18.5h0m14.5 -20h0m-15.5 35h0m-21.5 -52h0m-16 3.5h0m13.5 24h0m-24.5 -13.5h0m57.5 20.5h0m1.5 -4h0m-42.5 -7.5h0m-20 1.5h0m49 -11h0m-23.5 -5h0m-24 8h0m68.5 13.5h0m-22.5 12h0m41.5 -15h0m-57 -20h0m-4.5 16h0m11.5 -14h0m39 38h0m-35.5 6.5h0m3 2.5h0m-19 -14.5h0m15 -15h0m-13 -6h0m14 -14h0m19.5 29h0m1 13h0m8.5 4.5h0m-63 -4h0m77.5 -39h0m-46.5 37.5h0m-5 -41.5h0m-10.5 42.5h0m-3 -11.5h0m3.5 -16h0m53.5 -7h0m-35 20h0m-11.5 -15.5h0m40.5 -7h0m-19 5h0m13.5 4h0m-35.5 -4.5h0m-7.5 22h0m24 -21h0m-13.5 -9h0m53 31h0m-52.5 -34.5h0m6.5 33.5h0m33.5 10.5h0m-44 -1.5h0m43 -3.5h0m-51.5 2.5h0m49.5 2.5h0m3.5 -36.5h0m-56 15.5h0m58.5 -5h0m-5 22.5h0m-45.5 -9.5h0m33.5 -11.5h0m-44 25h0m8.5 -32h0m14 2h0m-11.5 22.5h0m4.5 -4.5h0m25.5 -32.5h0m1 13h0m-36 11.5h0m30 19.5h0m8 -1.5h0m-48.5 -4.5h0m22.5 -33.5h0m43.5 4h0m-25.5 2.5h0m-22.5 1.5h0m15 38.5h0m-10.5 -45h0m9.5 14h0m-9 18.5h0m38.5 6h0m-22.5 -49h0m-9.5 33.5h0m0.5 4h0m-13 -14h0m56.5 19.5h0m-40 -14h0m14.5 24h0m-14.5 -30.5h0m-18.5 -21.5h0m51 34.5h0m-16 -20h0m-44 15h0m3 -28.5h0m32.5 39h0m-16.5 -14h0m48 7.5h0m-66.5 18h0m2 -20.5h0m-11 14h0m63 -10.5h0m-61.5 -19.5h0m69.5 10.5h0m-55.5 2.5h0m-22.5 -18.5h0m30 -8h0m15.5 15h0m-46.5 -1h0m35.5 33.5h0m-21 -4.5h0m28 -4.5h0m42 -13.5h0m-39 -24.5h0m16.5 15h0m-1 26h0m-25 -24.5h0m30 24.5h0m-15.5 -44h0m-43 1.5h0m28 19h0m-7.5 -8.5h0m21 -13h0m-28.5 15.5h0m-0.5 -8.5h0m19 5h0m23 26.5h0m-26.5 -24.5h0m3 38.5h0m-13 -7h0m-4.5 -33h0m38.5 24.5h0m-41.5 11.5h0m43 -2h0m11.5 -34.5h0m-7 19h0m-49.5 -24h0m63 12.5h0m-18 -16.5h0m-54 40h0m39 -16.5h0m-14 16h0m-24.5 -26.5h0m39.5 10h0m-32.5 25h0m34.5 -27h0m37.5 6.5h0m-80 -28h0m9.5 17.5h0m49.5 7h0m-54 11h0m37 -15.5h0m-42.5 -21.5h0m24 42h0m-11 -30h0m59.5 -3h0m-17 17h0m-43.5 1.5h0m-3 -18h0m-9.5 6.5h0m16 35.5h0m27 -48.5h0m-43 17h0m12.5 -10h0m41 0.5h0m-15.5 40.5h0m3.5 -48h0m40 17.5h0m-60.5 20.5h0m-8.5 -40h0m26 18h0m-34.5 -6h0m68.5 36.5h0m-20.5 0h0m-39.5 -50h0m15 45.5h0m-32 -23h0m22.5 23h0m1 -1.5h0m-16 -35.5h0m48 39.5h0m-10.5 -13.5h0m1.5 -12h0m-19.5 -11.5h0m-22 8h0m61.5 -13h0m12 1h0m-27.5 1.5h0m24.5 0h0m-30 33h0m-43 -16h0m60 -18.5h0m-49 27.5h0m44.5 -9h0m-22.5 -22h0m14.5 47.5h0m-36 -5h0m8.5 -8h0m19.5 -23.5h0m38 3h0m-16 26.5h0m-29.5 1h0m18 -23.5h0m-5 3h0m-31 -17h0m42 29.5h0m-43 10.5h0m25.5 -50h0m42.5 16.5h0m-7.5 11h0m-27.5 8h0m-7 11.5h0m-27.5 -26.5h0m19 31h0m-28 -16.5h0m14 -23h0m63.5 15h0m-17.5 13.5h0m-23 15h0m-14.5 -17.5h0m14 -5h0m-22.5 -15.5h0m11 26.5h0m-26.5 -28h0m20.5 0h0m47 40h0m-52 -23h0m57 -11h0m-47 10.5h0m23 -25h0m7 4.5h0m-15.5 17.5h0m24 -7.5h0m-6.5 6.5h0m0 -3.5h0m-36.5 -11.5h0m9 9h0m-22 -18.5h0m63 10h0m-72 0h0m62 -9.5h0m-8.5 20.5h0m-34.5 -8.5h0m48.5 -6h0m-39 49h0m55.5 -35h0m-61 1.5h0m-0.5 21h0m25 -28.5h0m2.5 21.5h0m-51 -7h0m40 -11h0m3 6h0m-26 -29h0m10 17.5h0m19.5 26h0m0.5 2h0m30 -16.5h0m-54 -20.5h0m-10.5 11.5h0m47.5 -5h0m-20 8h0m-17.5 -1h0m8.5 18.5h0m-18 6h0m48 -12h0m-49 -8h0m54 23.5h0m-59 0h0m42 -9h0m1 -19h0m-15.5 -15h0m9 17h0m6.5 27h0m-30.5 5.5h0m9.5 -6h0m22.5 -2.5h0m29 -29h0m-12 4h0m-30 2.5h0m43 -4.5h0m-77 -8.5h0m-0.5 34.5h0m38.5 -6.5h0m-29.5 -38h0m-13.5 29.5h0m21.5 -21h0m-1 12h0m50 25h0m9 -33.5h0m-57.5 36.5h0m-13.5 -40.5h0m29 42.5h0m13.5 -37.5h0m4.5 25.5h0m25.5 -23h0m-21.5 8.5h0m0 30h0m-10.5 -6.5h0m-11.5 -32.5h0m41.5 19h0m-22 20h0m-44.5 -52.5h0m52 11h0m-56 34.5h0m20 -6.5h0m-0.5 -31.5h0m-1 36.5h0m22.5 12h0m-9.5 -39.5h0m43.5 27.5h0m-5 -8h0m2 -16h0m-45 36.5h0m14.5 -38h0m-5.5 -2.5h0m-20.5 9.5h0m14.5 8.5h0m-25.5 -4h0m42.5 -6h0m-5.5 7h0m5 5h0m-15.5 -3.5h0m8 20h0m28 -4.5h0m-25.5 -42.5h0m8.5 -2h0m4 42.5h0m-37.5 4h0m26 -35.5h0m11 7.5h0m13.5 13h0m-14.5 -4.5h0m12.5 10.5h0m-32.5 12.5h0m-37 -27.5h0m17.5 -15h0m8.5 17.5h0m36.5 -20h0m-59 20.5h0m46 14.5h0m26 -18h0m-35.5 -2.5h0m-22 4.5h0m11.5 7.5h0m-6.5 -22.5h0m-19 20.5h0m44 -1.5h0m-41.5 13.5h0m9 -8h0m44.5 -23h0m-4.5 9h0m-57 7.5h0m22.5 -31h0m57 28h0m-34.5 -4h0m-5.5 8.5h0m1 -12.5h0m-33.5 -14.5h0m40 14h0m2 0.5h0m12 24.5h0m-22.5 -1.5h0m-25.5 -10h0m16 9.5h0m-24 1.5h0m78.5 -19h0m-37.5 -2.5h0m16 28.5h0m7 -31.5h0m3 11h0m-42 -7h0m35.5 -6.5h0m-11.5 -8.5h0m-51.5 0h0m39 6h0m-22 13.5h0m24 11.5h0m7 5h0m-33 -16.5h0m26 18h0m5.5 0.5h0m-28.5 -8.5h0m-6.5 0h0m26 11.5h0m2 -2.5h0m27 -7h0m-33.5 -14.5h0m29.5 14h0m-39 5h0m-9.5 -2.5h0m-11.5 -20h0m37.5 -14.5h0m20 13h0m-27 14.5h0m-6 -24.5h0m29 37.5h0m-63.5 -3.5h0m9.5 -11h0m27.5 -20h0m0 33.5h0m5 1h0m-2.5 -25h0m-27.5 -14.5h0m36 -4h0m-17 33.5h0m16.5 -5h0m-24 -3.5h0m19 2.5h0m7.5 1.5h0m-42 -16h0m71 23h0m-57 -7.5h0m63.5 -17h0m-11.5 -3h0m-31.5 24.5h0m21.5 -10.5h0m-23.5 20.5h0m21.5 -44.5h0m17 6.5h0m-51 19h0m24.5 20.5h0m-37 -25h0m-7 7.5h0m7 -16h0m-10.5 -1h0m37 11h0m-26 1.5h0m18.5 23h0m-10 -43h0m20.5 27h0m-23 -27h0m35 9h0m-13 -9.5h0m26.5 0.5h0m-45.5 7h0m32 -8h0m25.5 26h0m-15.5 24.5h0m-27 -22.5h0m-11.5 5h0m-22 -16.5h0m40 -11.5h0m34.5 10.5h0m-20.5 30h0m-35.5 -28h0m0 -3h0m26 11h0m27.5 -20.5h0m-6 17h0m-67 16.5h0m70 -9.5h0m-24.5 -35h0m-37 52.5h0m14 -29h0m11.5 -10h0m-27 29h0m73 -30h0m-26 10h0m-45.5 -23.5h0m66.5 49.5h0m-43.5 -48h0m-27.5 11.5h0m72 26.5h0m-64.5 -29h0m8 22h0m19.5 -15h0m30.5 24.5h0m-60.5 3.5h0m17 -35h0m19.5 16.5h0m-25 -6.5h0m17 3.5h0m20 29.5h0m-12 2.5h0m-6.5 -12.5h0m8 -17h0m33.5 -6.5h0m-44 16h0m-4.5 -3h0m-34.5 -13.5h0m64 29h0m-49.5 -27h0m16 9.5h0m29 6.5h0m-32.5 -30.5h0m39.5 33h0m-66.5 -14h0m66.5 6h0m-4.5 24.5h0m-8.5 -24h0m25.5 8h0m-77 -19.5h0m36.5 5.5h0m-12 0h0m-17.5 9h0m34.5 -16h0m-1 -3.5h0m-9.5 -13.5h0m19 42.5h0m-32.5 -20.5h0m39.5 30h0m-52 -11h0m7 -13h0m28.5 15.5h0m0.5 -28.5h0m-35 -0.5h0m52.5 -10.5h0m-54.5 2h0m67.5 40.5h0m-37 9.5h0m30 -18.5h0m14 5.5h0m-21.5 -7h0m-6.5 7.5h0m-24 -22h0m24.5 -19h0m9.5 31h0m-44 0.5h0m4 -15h0m32 10.5h0m-15 -27h0m41.5 33h0m-25 -25.5h0m21.5 7.5h0m4.5 15h0m-23.5 16.5h0m-32.5 -1.5h0m26.5 -43.5h0m-15.5 29.5h0m-30 5.5h0m51 -12.5h0m-53 -2h0m54 -24.5h0m-60 1h0m9 22.5h0m7.5 -4h0m53.5 24.5h0m-22 12h0m23 -21h0m-18 6.5h0m16 -3.5h0m10 -26h0m-11 9.5h0m-17.5 -2.5h0m-18 3.5h0m42 18.5h0m-9.5 -5h0m-38.5 -27.5h0m10 5h0m21.5 38h0m-55.5 -11.5h0m25.5 -41h0m-7.5 38h0m10 -39h0m30.5 17h0m8 34h0m-65 -33h0m38 37h0m-21 -7h0m52.5 -12h0m-65.5 -27h0m50 37h0m4.5 -33.5h0m-30 17h0m7.5 17h0m19 -45h0m-43 16.5h0m-10.5 14.5h0m64.5 16.5h0m-51 -14.5h0m23.5 11h0m-0.5 -28h0m-31.5 20h0m32 19.5h0m25 -9h0m-20.5 -10h0m-32.5 -26h0m54 3h0m-70.5 6.5h0m23 -2h0m-7.5 24.5h0m54.5 -34h0m-48 36.5h0m47.5 -41h0m-42.5 49.5h0m-4 -3.5h0m2 -33h0m25.5 16.5h0m5 11.5h0m32.5 -27h0m-88 -5h0m61.5 5.5h0m5.5 12h0m-28.5 26h0m24 -6.5h0m0 -11h0m14 -7h0m-47.5 12.5h0m-27.5 -23.5h0m1 16.5h0m36.5 6.5h0m-12.5 -44.5h0m46.5 25h0m8.5 -11h0m-46.5 1.5h0m45 7h0m-27 13.5h0m-31.5 5h0m-13.5 -21h0m4.5 -21h0m17.5 26.5h0m34 -22.5h0m-10 29h0m28.5 -5h0m-72.5 3.5h0m5.5 -30h0m-7 18.5h0m13 16h0m-2 17.5h0m32.5 -16h0m-11 -26h0m25.5 2h0m-61 7.5h0m41.5 5h0m-17.5 -23.5h0m10 37h0m25.5 -28h0m-48 40.5h0m-4.5 -43.5h0m22.5 29.5h0m43.5 -22h0m-44 41.5h0m-11 -20h0m46.5 12.5h0m-17 -15h0m-27 -23.5h0m-12.5 37.5h0m-2 4.5h0m41.5 -34.5h0m-4 -17h0m-24.5 19.5h0m-21 -2.5h0m73 10h0m-44.5 -4h0m55 15h0m-51.5 -18h0m24.5 22.5h0m-52 -2h0m76 -11.5h0m-71.5 -21h0m39.5 -5.5h0m-43.5 12.5h0m7.5 16.5h0m-3.5 7.5h0m16 -6h0m-2.5 -35h0m33.5 4h0m-47 3h0m64 28.5h0m-54 20.5h0m5.5 -7.5h0m16.5 -22h0m-11.5 -22.5h0m-7 49.5h0m-18 -10.5h0m76 -1h0m-21 1.5h0m-33.5 -11h0m11 -21.5h0m-22 -3h0m-9.5 22h0m36 -19.5h0m25 35.5h0m-45.5 -18h0m-1.5 -31.5h0m28 37h0m-32.5 -5.5h0m-6 -7.5h0m74.5 7h0m-13 -21h0m-14.5 40h0m22 -11h0m-48 4.5h0m9 7.5h0m44.5 -26h0m-29 -17.5h0m-53 30.5h0m45.5 5h0m-42.5 -23.5h0m21 11.5h0m54.5 2h0m-4 20h0m-42.5 -36.5h0m35 13.5h0m13 -2h0m-48.5 -19.5h0m-0.5 11.5h0m-31.5 5h0m80 16h0m-35 -5h0m-7.5 -3h0m10.5 -27.5h0m-17 31h0m50 0.5h0m-7.5 -15.5h0m-25 -7h0m-4.5 -3h0m-4.5 0h0m38.5 41h0m-25.5 -35h0m-46.5 -11.5h0m55.5 40.5h0m17 -8.5h0m-12 5.5h0m-2.5 15h0m8 -33.5h0m-58.5 7h0m2 -10h0m46.5 5.5h0m-56.5 12h0m-5.5 -8.5h0m4.5 -21.5h0m27.5 12h0m13 23.5h0m-14 -12h0m4 -2h0m-21.5 -5h0m2 22.5h0m59 -33.5h0m-79.5 17.5h0m17 14.5h0m18.5 -23h0m28.5 17.5h0m-37 -2.5h0m37 15h0m-54 -22h0m7 19.5h0m36 2h0m-19.5 -32h0m-4.5 3h0m-25.5 15h0m16 8h0m46.5 9h0m-61 -15.5h0m6 -14.5h0m67.5 2.5h0m-29 -4h0m-24 14h0m21.5 15h0m-11 -50h0m-4 5.5h0m54.5 30h0m-76 -7.5h0m73.5 7h0m1.5 -13h0m-41.5 -10.5h0m17 11.5h0m-23 26h0m31.5 -34h0m-55.5 17h0m69 -13.5h0m0.5 13.5h0m2 -12.5h0m-51 -7h0m37.5 11h0m-30.5 -21.5h0m-18.5 49.5h0m57.5 -30h0m-52 -6.5h0m-8.5 -17h0m8.5 12h0m-17 8h0m18.5 27.5h0m31.5 -2h0m-59.5 -17h0m42 25.5h0m-30.5 -19.5h0m-11.5 -20.5h0m79 28.5h0m-21 -13h0m-28 -9.5h0m38.5 12.5h0m-21.5 -31h0m8 38h0m-31.5 -25.5h0m7 32.5h0m15 4.5h0m39.5 -35.5h0m-35 -3h0m11 29.5h0m25.5 -11.5h0m-78.5 -30h0m16.5 46.5h0m33.5 -0.5h0m-41 -41.5h0m60.5 24h0m-32 5h0m35 -1.5h0m-31.5 25h0m9 -15.5h0m-13.5 -29h0m-13.5 -5h0m-17.5 -1.5h0m22.5 1.5h0m-16 49.5h0m52 -11.5h0m-23 -3.5h0m-42 -42h0m12.5 40.5h0m-5.5 -11.5h0m39 -23.5h0m-52.5 9h0m67 31h0m-19 -13h0m22.5 11.5h0m-59.5 -39h0m24 37h0m40.5 -30.5h0m-9.5 -1h0m-64 -6h0m13.5 14.5h0m-4 17h0m72 -25h0m-66 32h0m64 -19h0m-39.5 10.5h0m23.5 -1h0m-2.5 24.5h0m-24.5 -34.5h0m26.5 4.5h0m8.5 17.5h0m-66 -39h0m67.5 13.5h0m-51.5 36h0m-23.5 -20h0m51.5 -27.5h0m21.5 19h0m-50 4.5h0m-1 25h0m19.5 -56.5h0m-33 41.5h0m23 -38.5h0m51 36.5h0m-13 12.5h0m-65 -21.5h0m51.5 27.5h0m-21.5 -24.5h0m-15 20h0m30.5 -43.5h0m26 22.5h0m-32.5 -14.5h0m-28 33h0m67.5 -10.5h0m-76.5 -28h0m66 17.5h0m-36 -11.5h0m-15 2.5h0m45 30h0m6 -33h0m-18 21h0m15 14.5h0m-26.5 -34.5h0m28.5 29.5h0m-64.5 -34.5h0m8 9h0m49 -8h0m-5.5 8.5h0m24.5 7.5h0m-69.5 -14h0m53.5 29.5h0m-60 -41h0m0 41h0m15 -25h0m-22.5 2.5h0m44.5 -14h0m34.5 7h0m-51 -16h0m45 32h0m-59.5 8.5h0m55.5 -23h0m-64 1h0m60.5 4h0m-61 20.5h0m19.5 -12.5h0m33.5 -19h0m-47 14h0m22 -25h0m18 14h0m-14.5 21.5h0m19 11h0m-4 -47.5h0m1 20h0m25 7.5h0m-37.5 -9h0m15 22.5h0m6.5 13h0m0.5 -39h0m-38.5 17.5h0m28 -5.5h0m-49 -3h0m53 -22.5h0m22 35.5h0m-40 13.5h0m16 0.5h0m-53 -19h0m8 -6.5h0m67.5 4.5h0m-46 5h0m13.5 -33.5h0m-6.5 40.5h0m-21.5 -17h0m42.5 -12.5h0m-45 41h0m31 -4.5h0m4 -34.5h0m20 17h0m-47.5 -10h0m-9 27h0m58.5 -30h0m-11 -17h0m23.5 37.5h0m-13.5 12.5h0m-54.5 -36.5h0m38.5 -15h0m-15 49h0m21 -28h0m-7.5 5h0m-17 18.5h0m-19 -7.5h0m20 16.5h0m16.5 -50h0m-22 8h0m32 18.5h0m17.5 -9.5h0m-14.5 1h0m-28.5 -12h0m6.5 8.5h0m27 21.5h0m-1 6.5h0m-31 -32.5h0m14.5 -14h0m11 29.5h0m-24 5h0m43 -2h0m-19.5 -4h0m7.5 21h0m-5.5 1.5h0m-56.5 -24h0m55 -23.5h0m-47 7.5h0m25.5 4.5h0m-40 -3.5h0m55 15h0m-51 -21.5h0m60 38.5h0m20 -23h0m-61.5 27.5h0m9 -0.5h0m-36 -23h0m65.5 -6h0m-65.5 3.5h0m10 -9h0m19.5 37.5h0m39.5 -9h0m-15.5 -40h0m24.5 42.5h0m-52.5 -30.5h0m0.5 -4.5h0m4.5 12.5h0m44.5 26h0m-47.5 -10.5h0m-11 -33.5h0m36.5 12h0m-36 -11.5h0m44 34h0m12 6h0m-14 11.5h0m1.5 -50h0m2 15.5h0m-31 0h0m15 -6.5h0m-3 22.5h0m2.5 -2h0m-26 -12h0m22.5 22h0m-35.5 -42h0m5 25h0m26 -12h0m14.5 1.5h0m4 6h0m-29.5 -21h0m50 32h0m-41 0h0m-4.5 -1.5h0m14 8.5h0m-33.5 -31.5h0m27.5 14.5h0m27.5 11h0m6 9h0m-3.5 -29.5h0m9.5 30h0m-71.5 -5h0m-0.5 -29h0m20 10h0m11.5 13h0m8 19h0m29 -6h0m-56.5 -42.5h0m39 2.5h0m-2 8.5h0m13.5 9.5h0m-52.5 -27h0m25 55.5h0m42.5 -11h0m-56.5 -21h0m52.5 5.5h0m-11 26h0m-22.5 -3h0m17.5 -38.5h0m-52 10.5h0m1 -21h0m33.5 16h0m36.5 12.5h0m-55 -23.5h0m-27.5 13h0m87 12h0m-11.5 -11h0m-58.5 4.5h0m-1 18.5h0m55.5 -29h0m-13 -12h0m17.5 39.5h0m-43 -1.5h0m14.5 -1h0m-32.5 -37.5h0m31.5 41.5h0m30 -16.5h0m-21 -8.5h0m4.5 31h0m-2.5 -44.5h0m12.5 33h0m-59 -25.5h0m54.5 31h0m-19 11h0m6.5 -25.5h0m22.5 9h0m-39.5 20.5h0m-5.5 -35h0m-16.5 1.5h0m3.5 -13h0m54.5 8h0m-41 -14h0m9 11.5h0m-32.5 29h0m7 -10.5h0m60.5 -21h0m3 24.5h0m-27.5 15h0m3 -29h0m22 0h0m-15.5 0h0m-39.5 -2h0m11 25.5h0m21 -17h0m-40 -16.5h0m-8 0h0m31 -2h0m7 37h0m37.5 -7h0m-33.5 -37.5h0m-37.5 30h0m60.5 -15h0m-28 -12h0m-9 19.5h0m38.5 -22.5h0m-69.5 17h0m12.5 0h0m29 -8.5h0m-3 5h0m-28.5 27h0m3.5 6.5h0m9 -7.5h0m3 -13.5h0m33 -16.5h0m-7.5 -0.5h0m-18.5 40.5h0m2 -44h0m25.5 15.5h0m26 8h0m-75.5 1.5h0m9 -31.5h0m-10 44h0m45.5 4.5h0m-4.5 1h0m1.5 -36.5h0m31.5 -7h0m-61.5 12.5h0m-4 -0.5h0m53.5 3h0m-29.5 -9.5h0m35 7h0m-32.5 28.5h0m-16 -18.5h0m20 18.5h0m12.5 -36h0m-41 -39h0m-29.5 11.5h0m-0.5 4h0m-4.5 -3.5h0m25.5 6.5h0m0 -4.5h0m-12.5 -9h0m-17 3h0m17.5 4.5h0m-6.5 6.5h0m-6.5 -20.5h0m24 14h0m-42 2h0m50.5 -10.5h0m-11.5 10.5h0m-22.5 -7h0m26.5 5h0m-27 4h0m6.5 -21.5h0m10 17h0m-3.5 2h0m-0.5 -8.5h0m-10.5 -1.5h0m-3 0.5h0m-8.5 -9h0m37 10h0m4 -5h0m-14 1.5h0m-10 11h0m12 2h0m-6 6h0m3 -2.5h0m-12.5 -23h0m4.5 25h0m27 -2h0m-30.5 -9.5h0m9.5 10.5h0m-13.5 -17.5h0m-16 10.5h0m48 -9h0m-24 9.5h0m9 0.5h0m-24 -7.5h0m7 -12h0m2 10.5h0m-18 3h0m15 3h0m7 3h0m19.5 -4.5h0m11.5 -5h0m-44 17h0m42.5 -16.5h0m-9 -3.5h0m-38.5 13.5h0m40.5 -14h0m-28.5 11.5h0m18 -2.5h0m7 -10h0m-0.5 8.5h0m-5.5 -10.5h0m20 6.5h0m-10 13.5h0m-32.5 1h0m7.5 2h0m24 -4.5h0m-42.5 -9.5h0m49.5 2h0m-22.5 -2h0m-22 1.5h0m22.5 10.5h0m17.5 -9.5h0m-5 5.5h0m-12 -13.5h0m-9.5 15h0m21.5 -11.5h0m-23.5 -7h0m10.5 22.5h0m9 -14h0m-18 -1h0m20.5 9h0m0.5 -5.5h0m-30 8.5h0m-6.5 -9h0m18.5 -11h0m19 1h0m2.5 2.5h0m-20 10.5h0m-7 0h0m23 4h0m-7 -14h0m0 14.5h0m-37 -12h0m16 13.5h0m12.5 -20h0m26 6.5h0m-5 1h0m-23.5 -7.5h0m-6.5 6h0m16.5 -4h0m-22.5 6.5h0m18 -6.5h0m-19 0.5h0m3 11h0m-10 1h0m7.5 7.5h0m3.5 1.5h0m-1 -0.5h0m41.5 -13h0m2 -5.5h0m-32 19.5h0m17 -10h0m-38.5 -4h0m44.5 8h0m-2 -9.5h0m-5 -4.5h0m-25 -3h0m-16.5 10.5h0m13 10.5h0m18 -6h0m-4.5 -2.5h0m-8 -1h0m-11.5 -8h0m28.5 14h0m-5.5 6h0m23 -12h0m-50.5 -8h0m27 12h0m-1 -15.5h0m9.5 19h0m-7 -5.5h0m17 -2h0m-27.5 4.5h0m7 -9.5h0m4 4.5h0m4 3.5h0m-7 -10h0m20 -1.5h0m9.5 2.5h0m-37.5 -5h0m28.5 18.5h0m-8.5 -12h0m-19 2.5h0m-21 0.5h0m41.5 2.5h0m-31 -10h0m2.5 14.5h0m0 4.5h0m17.5 -11.5h0m-8.5 -12h0m0 14.5h0m1 0.5h0m-8 -5.5h0m16 -5.5h0m-18.5 13.5h0m0.5 -15.5h0m32 11h0m-15.5 -1.5h0m-2.5 -2h0m-7.5 9h0m-3.5 -12.5h0m18 4.5h0m-28 13h0m34 -23.5h0m-9 18.5h0m-12.5 -16h0m16.5 1h0m-9.5 24.5h0m12.5 -10.5h0m17 -0.5h0m-0.5 -8h0m-51 10.5h0m10.5 -11.5h0m19 7.5h0m-14 -14h0m-15.5 24h0m31 -22.5h0m-27.5 2h0m28.5 18h0m-11.5 -14.5h0m33 6.5h0m-1 -12h0m-24 6h0m-2.5 13.5h0m12 -4h0m-29.5 3.5h0m14.5 -19.5h0m14.5 5h0m-14.5 -2h0m-3 15.5h0m-20 -6h0m33 -7.5h0m-18 2.5h0m-15.5 -1h0m40.5 8h0m-22.5 -9.5h0m3 4.5h0m-21 3h0m-2.5 -7.5h0m39 11h0m13 -13h0m-12 0h0m-28.5 18.5h0m31.5 -8h0m-8 -11h0m25 4h0m-9.5 -5.5h0m-0.5 9h0m0.5 5.5h0m-29.5 5.5h0m13 0h0m13 -7h0m-3 -11h0m2 9h0m-29.5 9h0m30.5 -1.5h0m-7 0h0m-8 -12h0m1.5 -1.5h0m-26.5 9h0m22.5 6.5h0m-21 -7.5h0m3.5 -2.5h0m2.5 -2h0m0.5 -10h0m7.5 23h0m17 -23h0m-18.5 17h0m-14.5 5.5h0m16.5 -5h0m17 -2h0m-1.5 -15.5h0m1 14.5h0m-29.5 12h0m36 -11h0m-26.5 -6.5h0m33.5 2.5h0m-32 5.5h0m21 -11h0m-2 3.5h0m-29 11h0m22.5 -8.5h0m-14 0h0m-0.5 0.5h0m11 -6.5h0m3.5 -8.5h0m9.5 7h0m-3 -1h0m-26.5 4h0m35.5 -3.5h0m-44.5 7h0m-8 -2h0m18 -8.5h0m14.5 1h0m-17 15.5h0m8.5 -17.5h0m-15 19.5h0m8.5 -6h0m7.5 -3.5h0m32 -5.5h0m-3.5 12.5h0m-7.5 -14.5h0m-20 13.5h0m16 -15h0m2.5 6h0m-21 -6h0m-7 23.5h0m-1 -0.5h0m40.5 -17h0m1.5 4.5h0m-7.5 1h0m3.5 8.5h0m-44 -8.5h0m42.5 -5.5h0m-13 11h0m8 -11h0m9.5 -4.5h0m-46.5 23h0m18 -7.5h0m-22 -10.5h0m8.5 3h0m29 -3h0m-5 14h0m2.5 -22h0m-10 10.5h0m12.5 5h0m-40.5 -7h0m0.5 5h0m34.5 3h0m-37.5 -8h0m37 14.5h0m-14.5 -0.5h0m19 -4.5h0m7 -1h0m6.5 1h0m-51 -4.5h0m16 1.5h0m12.5 6h0m-10.5 -4.5h0m-8 8.5h0m13.5 -7.5h0m16.5 -14.5h0m8 0.5h0m-26 20h0m-1.5 -7h0m0 -10h0m12 10.5h0m-5.5 -2.5h0m3 -1.5h0m-23.5 -1.5h0m41 6.5h0m-3.5 -10h0m-5.5 -7.5h0m-18 5h0m20.5 12.5h0m-2.5 -18h0m-26 7.5h0m-7 10h0m1.5 -0.5h0m41.5 -3.5h0m-33 -9.5h0m-4 -1.5h0m-4 -0.5h0m9 18h0m28 3.5h0m-17 -9.5h0m13.5 -10.5h0m-19.5 3h0m11 -5h0m-13.5 18h0m37 -14h0m-2.5 4.5h0m-38.5 -7h0m8.5 20.5h0m7.5 -20.5h0m-13 8.5h0m31.5 5h0m-19 -8h0m7 3h0m5.5 7.5h0m-7 -2.5h0m-24.5 -2.5h0m-2 12h0m-4.5 -12.5h0m10.5 0h0m40.5 -3h0m-6.5 -8h0m-2 16h0m-28 -17.5h0m-13 16h0m44.5 3h0m-52.5 -5.5h0m37.5 7.5h0m-12.5 -18.5h0m13.5 16.5h0m14 -8.5h0m0.5 3.5h0m-35.5 5h0m-11 -18h0m26.5 -2.5h0m14.5 5.5h0m-26.5 -3.5h0m-12 6h0m21 -7h0m-29 16h0m28.5 -2.5h0m3.5 -10.5h0m-7.5 18.5h0m-3.5 -16.5h0m-16 2h0m26 -5h0m-26.5 3.5h0m29.5 -2h0m-20 2.5h0m5.5 11h0m1.5 -5h0m37 -4h0m-57.5 -0.5h0m21.5 8h0m26.5 -9.5h0m-2.5 4h0m3 -4.5h0m-49.5 11h0m23.5 -14.5h0m21 13.5h0m-24.5 10.5h0m32.5 -22h0m-27.5 -1.5h0m11 0.5h0m-21 2.5h0m28.5 12h0m-14 3h0m-32 -12h0m33 -8.5h0m11.5 11.5h0m-25.5 -3.5h0m31.5 2h0m-39.5 -6h0m23 17.5h0m24.5 -9.5h0m-59.5 -6h0m53.5 8h0m-46 -4.5h0m32.5 0.5h0m-15 2.5h0m15 10.5h0m-29 -7.5h0m21.5 -2h0m3.5 3.5h0m0 -13h0m-27 19h0m15 -23.5h0m-10.5 -1h0m12 5h0m9 4.5h0m26 -3h0m-41.5 16h0m-5 -12.5h0m38 -7h0m-13 4h0m12 9h0m-53 -5.5h0m8.5 -1h0m1.5 -1.5h0m-3.5 1.5h0m-2.5 -2h0m-0.5 4.5h0m3 -4.5h0m10 -4h0m-10.5 5h0m9.5 -5h0m-10.5 4h0m8.5 -3h0m-7.5 4.5h0m11 -4h0m-11.5 7h0m-1.5 -1h0m2.5 -2h0m7 -2.5h0m1 -1h0m-8.5 4.5h0m-3 3.5h0m-3.5 -2.5h0m14 -5.5h0m4 -0.5h0m0.5 -1.5h0m1.5 -2h0m-20.5 11.5h0m9 -4.5h0m7.5 -5.5h0m-11 7h0m7.5 -3h0m0.5 -3h0m4.5 3h0m-13 3.5h0m0 -3.5h0m10 -1.5h0m-9 5.5h0m-2 -3.5h0m15 -5.5h0m-1 2h0m-16 5.5h0m-0.5 3.5h0m12 -7.5h0m-3.5 1h0m5.5 0.5h0m-5 -2.5h0m11.5 -3h0m-19.5 8.5h0m9.5 -3h0m-7 3h0m1.5 0h0m8.5 -6.5h0m-7 4.5h0m9 -3h0m-6.5 2h0m4 -2.5h0m-7.5 3h0m2.5 0h0m4 -0.5h0m-5.5 3h0m-1.5 0h0m1 -0.5h0m10.5 -6.5h0m-5 0.5h0m-9.5 6.5h0m2.5 -1.5h0m2.5 -4h0m2 2h0m2.5 -1.5h0m-0.5 0.5h0m-1 -1h0m7 -1h0m1.5 -1.5h0m-4.5 1h0m-6 5h0m1 2h0m4.5 -4.5h0m6 -3h0m-11 1.5h0m0 2h0m38 89h0m-4 -12.5h0m18.5 9.5h0m-6 -2.5h0m-1.5 -4.5h0m4.5 12.5h0m-1 -2h0m-13 7.5h0m14 11.5h0m-8.5 -24.5h0m6 -2.5h0m-6.5 24.5h0m-11.5 -18h0m14.5 0.5h0m7 -1.5h0m1.5 18.5h0m-13.5 6.5h0m-5.5 -24.5h0m15.5 25h0m-10 -17.5h0m5.5 -17.5h0m-1 -3h0m6.5 12.5h0m-19.5 6.5h0m20 -12.5h0m-20 0.5h0m4 9h0m2 -1.5h0m13.5 6h0m-11 -7.5h0m-7 -7h0m7.5 10h0m11.5 20h0m-4 -7.5h0m-8.5 -4h0m-1.5 5.5h0m6 5.5h0m-11.5 -15.5h0m-0.5 -18.5h0m16 -1h0m-11.5 33.5h0m11.5 -20.5h0m4.5 1h0m-1.5 -14h0m-12 14h0m-2.5 8h0m16.5 -19h0m-1 5h0m-6.5 13h0m-14 -4h0m17.5 -5h0m-15 13h0m10 -8.5h0m2.5 -0.5h0m-8 2.5h0m5 2h0m-3 -19.5h0m4.5 25h0m11.5 4.5h0m-15.5 -29h0m5.5 26.5h0m-14.5 -29h0m14.5 7.5h0m-2.5 -4h0m0.5 -3h0m3 28h0m-9.5 -17h0m10 -8h0m3.5 17h0m-2 11h0m5.5 -2h0m-15 -5.5h0m16.5 -2h0m2 -15.5h0m-9 -1h0m-5 -2h0m-5.5 35.5h0m5.5 -12.5h0m-1 -16h0m-6 -8.5h0m0.5 34h0m13.5 -5h0m2 0h0m-13 -2h0m2.5 -11.5h0m-2 1.5h0m6.5 -1h0m-3 -5h0m12 -4.5h0m-16 15h0m11.5 11h0m-16.5 -30.5h0m19.5 27.5h0m-9 -6h0m-11 -7h0m-1.5 7h0m13.5 -4.5h0m2.5 -1.5h0m-18 -6h0m18 9h0m7.5 -17h0m-23.5 -2.5h0m3 29h0m-3 -32h0m23.5 17.5h0m-21.5 12h0m-2 3.5h0m2.5 2.5h0m11 -32.5h0m0.5 14h0m4 -11.5h0m-20.5 14h0m4 -1.5h0m0.5 -12h0m-5 -2h0m23 22.5h0m-16 -13h0m7 17h0m10.5 -6.5h0m-13.5 -1h0m6 -2.5h0m-1 4h0m-8.5 11h0m6 -36.5h0m-9.5 10.5h0m10 -10.5h0m-6.5 28.5h0m2.5 -23h0m-7 29.5h0m20 -2.5h0m-0.5 -17.5h0m-4.5 19.5h0m-8 -16.5h0m-3.5 -13.5h0m9 6.5h0m-14 11h0m22.5 -11.5h0m-9 -6h0m8 18.5h0m-10.5 -19h0m7.5 11.5h0m-21.5 -13h0m16 5h0m-2.5 -3h0m1 33h0m-7 -1.5h0m4 -4.5h0m6 -12.5h0m5.5 0h0m-8.5 7.5h0m3.5 -3.5h0m2 5.5h0m4.5 -5.5h0m-0.5 -10.5h0m-12 6h0m15.5 3h0m-5.5 2h0m-18 -1.5h0m23.5 -7.5h0m-19.5 -1.5h0m10 11h0m-17.5 -1.5h0m19 -4h0m0.5 5h0m-1 -9h0m-10 3h0m5.5 -14h0m3.5 34h0m-8.5 -4.5h0m-4.5 -15h0m7 -10.5h0m16.5 13h0m-27.5 3.5h0m28 -12.5h0m-5 9.5h0m-6 -1h0m3 15.5h0m3.5 -9h0m-19.5 8h0m3 -29.5h0m10 37h0m-15.5 -41h0m3 22h0m6 -8.5h0m-1 0h0m4.5 -7.5h0m11.5 16.5h0m-25 -20.5h0m16 12.5h0m-1.5 22h0m1.5 -3h0m-5.5 -25.5h0m-5.5 21.5h0m14 5.5h0m-4.5 -23h0m12 -0.5h0m-26.5 13h0m7.5 -1.5h0m-5.5 -24h0m24 21.5h0m-2.5 -12.5h0m-19 8.5h0m22 -10.5h0m-17 9h0m-1 4.5h0m-6.5 5.5h0m1 -2h0m6 -3.5h0m6.5 1.5h0m-10 4h0m19 -1.5h0m-2.5 7.5h0m-15 -24.5h0m0.5 -4.5h0m-6 0.5h0m10.5 17.5h0m11.5 9h0m1 -4h0m-22.5 -14.5h0m1 10.5h0m18 6.5h0m-18.5 -16h0m2.5 13h0m7 -17.5h0m-6 4h0m1 -11h0m8 33h0m2 -13.5h0m-10.5 13.5h0m-2.5 -10h0m9.5 10h0m10.5 -18h0m-15 -16h0m-2 25.5h0m16 -21h0m-13.5 16h0m15.5 -11.5h0m-12 1.5h0m-3.5 19.5h0m0.5 -9.5h0m-7 10.5h0m11 -23.5h0m-0.5 30h0m-9 -3.5h0m0 -14.5h0m19.5 -11.5h0m-3.5 -2h0m-10 9.5h0m2 -8h0m7.5 16.5h0m-6 -12.5h0m1 -7.5h0m-14 1h0m10.5 0h0m0.5 9.5h0m-4 15.5h0m-2 -10h0m2 13h0m-0.5 -29.5h0m10 16.5h0m-14 11.5h0m17 -7.5h0m-1.5 -17.5h0m-10 20h0m2 -0.5h0m-1.5 -25h0m4 15h0m-13.5 9h0m16.5 -23.5h0m2 14.5h0m2 4h0m-3.5 -10h0m9.5 -1.5h0m-24 15.5h0m26.5 -1h0m-26.5 -2h0m1.5 14.5h0m0.5 -19h0m7.5 -15h0m4.5 18.5h0m-12 11.5h0m2 0.5h0m5 -10.5h0m10 8.5h0m-10 -27.5h0m-5.5 17h0m18 8.5h0m-6 11h0m-4.5 -3.5h0m3 -32.5h0m-5 8.5h0m4 5.5h0m2.5 -1.5h0m-10 15.5h0m5 -15.5h0m3 -9.5h0m2.5 20h0m7.5 -10.5h0m-11.5 16.5h0m0.5 0h0m0.5 -3h0m0 -24.5h0m-13.5 -3h0m9 12.5h0m1 15.5h0m-1 -7h0m-3 16h0m4.5 -30.5h0m-9 -2h0m4.5 20h0m5.5 13h0m1 -35.5h0m4.5 34h0m-3 0.5h0m-5.5 -13.5h0m4 16.5h0m-9 -4.5h0m16.5 -30.5h0m-0.5 13h0m-6 -2.5h0m-11.5 -11.5h0m2 5.5h0m11 7h0m-14 -2.5h0m3.5 20.5h0m6 -12.5h0m12 -17h0m-9.5 6.5h0m-1.5 15.5h0m4.5 -1.5h0m101 -93.5h0m-3.5 11h0m-1 -17h0m2.5 12.5h0m1.5 -0.5h0m-2.5 -3h0m-4.5 11h0m5 -8h0m0.5 7h0m-1.5 -16h0m-4.5 19h0m6.5 -15.5h0m-2 13.5h0m-2.5 -20.5h0m6.5 6h0m-3 -5h0m-0.5 2h0m-0.5 13h0m-0.5 -18h0m-2.5 23h0m6 -14.5h0m-1 3h0m-2 9.5h0m-7.5 4h0m5.5 -5.5h0m-0.5 -1.5h0m6 0h0m-2.5 2h0m-6 6h0m4.5 -25.5h0m-1.5 23h0m-2 -21h0m0 -0.5h0m6 14h0m-8.5 6h0m3.5 -4h0m5 -18h0m-8.5 25.5h0m6.5 -15.5h0m0.5 -2h0m-0.5 2.5h0m-3 -9h0m3.5 14.5h0m-1 -12.5h0m2.5 8.5h0m-2.5 8.5h0m2 -7.5h0m0 7h0m-2 -15h0m-3 -2h0m5 1.5h0m-1 -0.5h0m-1.5 0h0m3 5h0m-2 13.5h0m-1 -20h0m3 2h0m-3 18.5h0m-3.5 -24h0m5 3.5h0m1 10.5h0m1 -4h0m-1.5 12h0m1 -5h0m-5.5 -9.5h0m2 -6h0m2 6.5h0m1.5 8h0m-4 -12h0m-3.5 18h0m2.5 2.5h0m1.5 -22h0m-0.5 20h0m-1 -21.5h0m3 10h0m-0.5 -1.5h0m-1.5 16h0m1.5 -21h0m-3 -2.5h0m6 17h0m-1 -10.5h0m-1.5 8.5h0m-0.5 2h0m-2 -18.5h0m3.5 12.5h0m-2 10.5h0m3.5 -3.5h0m-4.5 4h0m-2.5 -2h0m8.5 -15h0m-6.5 17.5h0m3 -5.5h0m1.5 -4h0m-4 -7.5h0m-4.5 16.5h0m8.5 -7.5h0m-3 -11.5h0m4.5 12h0m-1 -12h0m-1 18.5h0m-4 3.5h0m4 -12.5h0m-4.5 -14h0m3.5 18.5h0m-2 -13.5h0m5 7.5h0m-5.5 -9h0m-4 21.5h0m2 -1.5h0m-1.5 0h0m-191.5 76h0m-8.5 1.5h0m4.5 1.5h0m1.5 6h0m2 -6.5h0m1.5 -5.5h0m2.5 0.5h0m-7 8h0m-1 -5.5h0m3 3.5h0m8.5 -2.5h0m-7.5 -3h0m1.5 4.5h0m3.5 1h0m-8.5 -4.5h0m6 -1h0m-5 3h0m2.5 0h0m6.5 -3.5h0m-11.5 1.5h0m9 1.5h0m-0.5 0h0m-7 -2.5h0m11 5.5h0m-5 -1.5h0m-1.5 3.5h0m5.5 -5.5h0m-1.5 2h0m-4 -2h0m-3 -1.5h0m0.5 0h0m1 1.5h0m3 1.5h0m-9 3.5h0m10.5 -4h0m-4.5 5h0m10.5 -6h0m-12.5 1h0m5.5 -2h0m-2 3.5h0m0 -0.5h0m-13 2.5h0m9.5 -4h0m3.5 -1.5h0m0.5 6.5h0m2 -4.5h0m5.5 1.5h0m-5.5 -4h0m-3 3h0m-2 -0.5h0m1.5 1h0m7 -2h0m-6.5 -2.5h0m1.5 0h0m-5 7.5h0m5.5 -4.5h0m-7 1.5h0m5.5 -1.5h0m-4 -3h0m1 5h0m3 -5h0m0 7.5h0m3 -2h0m-2.5 -4h0m-0.5 5.5h0m-11 1.5h0m14.5 -8.5h0m-5.5 1h0m0 6.5h0m1.5 -2.5h0m32.5 18h0m-1 -9.5h0m-0.5 9h0m-3.5 -15h0m-8 -14h0m7 13.5h0m6 10h0m-4.5 -18.5h0m-0.5 13h0m5 6h0m1 -3.5h0m-4 1h0m3 -2h0m-1 8.5h0m-1.5 -5h0m-3.5 -10.5h0m-3.5 -11.5h0m0 1.5h0m3 1h0m3.5 13.5h0m-1 1h0m0 -7.5h0m-6 -10.5h0m15.5 27h0m-15 -21.5h0m9 17.5h0m-5 -4h0m5 7.5h0m-2 -17.5h0m-2 3.5h0m5 11.5h0m-7 -13.5h0m10 15.5h0m-7.5 -11.5h0m0.5 -3.5h0m3.5 -0.5h0m0 10.5h0m-4 -19h0m3.5 20.5h0m0.5 2.5h0m-11 -26h0m1.5 -2.5h0m9 32h0m0 -2.5h0m-11.5 -30h0m5 10.5h0m2.5 13.5h0m-4 -16h0m6.5 12.5h0m-6.5 -18.5h0m5 14h0m6 18.5h0m-4.5 -7h0m-1 -9.5h0m-6 -6.5h0m-1.5 -2.5h0m4 -1.5h0m-2 11h0m-2 -16h0m3.5 8.5h0m0.5 23h0m9.5 7h0m-2 -11h0m2.5 2h0m0.5 5h0m11.5 -0.5h0m-10 2.5h0m-5.5 -5.5h0m5.5 -0.5h0m3 -2h0m-10.5 1h0m11.5 5.5h0m-5.5 -2h0m4 -2.5h0m-1.5 2.5h0m-6.5 0.5h0m0 2.5h0m0 -1.5h0m9 -1h0m-10 -3.5h0m2 -11h0m-3.5 12.5h0m0.5 -5h0m7.5 2.5h0m2 5h0m-3 0h0m0 0h0m-6.5 -4.5h0m7.5 -0.5h0m5 5h0m-11.5 -1h0m6.5 -2h0m6 5h0m0.5 -5.5h0m-5.5 3h0m-9 -5h0m1 0h0m6 -5h0m-6.5 7.5h0m0 1.5h0m3.5 -2h0m12.5 3.5h0m-19.5 -1.5h0m9.5 -2h0m2 -1h0m-8 3.5h0m-3 4h0m9 0h0m-4.5 -3.5h0m10 2h0m-6.5 -4.5h0m-5.5 1.5h0m4.5 -2.5h0m7.5 0h0m2.5 12.5h0m-16.5 -11h0m6 -3h0m0.5 4h0m4 -5.5h0m2.5 8h0m-5.5 -5h0m4 -2.5h0m-6.5 9.5h0m2 -12h0m2.5 4.5h0m-12 0.5h0m10 0h0m7 9.5h0m-4.5 -7h0m3.5 1h0m-2.5 -0.5h0m-0.5 -2h0m-7 3h0m4 -2.5h0m-1.5 1.5h0m11.5 -2.5h0m-6.5 -1h0m3.5 0.5h0m-5 6h0m-4.5 -3.5h0m28 -20h0m-0.5 -4h0m6.5 7.5h0m-6 -3.5h0m-13.5 -6.5h0m8.5 7h0m-6 -5h0m16.5 12h0m-20.5 -21h0m12 15h0m15 8.5h0m-1.5 -3h0m-27 -15h0m2.5 1h0m15 6.5h0m-10.5 -5h0m20 14.5h0m-11.5 -6.5h0m-10.5 -10h0m21 17h0m-17.5 -13.5h0m4.5 2.5h0m-1.5 -3.5h0m7.5 5.5h0m-22 -6h0m15 7h0m-2 -3.5h0m-2 -2h0m0.5 1h0m7 4.5h0m-2 -2h0m-0.5 1h0m-6.5 -12.5h0m-3 -1h0m1.5 2.5h0m6 7.5h0m-4 -5h0m1.5 5h0m10 6h0m-19.5 -10h0m20 8h0m-18 -12h0m8.5 6h0m2.5 4h0m0 -1h0m-14 -6h0m2 -6h0m0.5 8h0m10 4.5h0m-8 -5h0m23 15.5h0m-27.5 -18.5h0m2.5 -2h0m15.5 13h0m6.5 -0.5h0m-1 4.5h0m-2 -3.5h0m5 4.5h0m-4.5 -4h0m-18 -7.5h0m11 0.5h0m-10 -4h0m8 5h0m16.5 13h0m-11.5 -7h0m1.5 1h0m-12 -8.5h0m-4 -1.5h0m26 15.5h0m-18 -9.5h0m11.5 -0.5h0m-5.5 0h0m-6.5 -3h0m3.5 9h0m-1 -5.5h0m5 -2h0m0.5 3.5h0m-8 2h0m6.5 1h0m-8.5 -3.5h0m3 -1.5h0m-3.5 0.5h0m8.5 2h0m-10.5 -1.5h0m7 3h0m-2 -2.5h0m4 1h0m-1 -1h0m0 -6.5h0m3.5 2h0m-6 3.5h0m6 1.5h0m1.5 -3.5h0m-10.5 6h0m5 -8.5h0m0.5 2.5h0m-5 -3h0m-3 4h0m5.5 -1.5h0m-2 -2h0m1 2h0m5.5 3h0m-4 -6h0m6 2.5h0m-8.5 2.5h0m-4 -1h0m6.5 3h0m7 -6.5h0m-8 -3.5h0m3 4h0m1.5 46h0m6 2.5h0m-1.5 -4.5h0m-2.5 7.5h0m10 3.5h0m-11.5 -12.5h0m-2 7.5h0m0 3h0m4.5 2h0m-2.5 -2.5h0m9.5 6h0m-6 -8.5h0m-1.5 6.5h0m-7.5 -2h0m3.5 -3.5h0m-2 -4h0m5 2.5h0m6.5 1h0m-3 4.5h0m0.5 -2h0m0.5 -3.5h0m4.5 -3h0m-6.5 14.5h0m4 -8h0m-0.5 -2.5h0m-1 -4h0m-10 -4.5h0m8 6h0m-3.5 -1h0m-4.5 -1.5h0m6 9h0m2 -1.5h0m8 -2.5h0m-8 2h0m4.5 2h0m-5.5 -9h0m-1 9h0m1 2h0m9.5 -3h0m-9.5 -7h0m9 0h0m-11 4h0m-2.5 -1h0m6 -4h0m-1 2.5h0m-1 6.5h0m-4 1h0m-8.5 -1.5h0m8 -8h0m2.5 12h0m8.5 -6h0m-4 -1h0m0 -2.5h0m-5 6.5h0m-5 3.5h0m3 -6h0m15 3.5h0m-26 -6h0m16 5h0m-10.5 -7h0m15 -4.5h0m0 9.5h0m-13 -2.5h0m10.5 4.5h0m-2.5 -4.5h0m-5 2h0m18.5 -9h0m-13.5 1.5h0m5.5 1h0m-0.5 7.5h0m-2 -1.5h0m-2 -11.5h0m5 15h0m-6.5 -16h0m-4 5.5h0m-5.5 -1.5h0m14.5 9.5h0m-12.5 8.5h0m12 -12h0m-1 6.5h0m74 1.5h0m-4 -21.5h0m-1 13h0m-5 -9h0m3 3.5h0m9 4h0m-1.5 -11h0m-11 0.5h0m19 15h0m-13 -4.5h0m11 -4.5h0m-7 13.5h0m-0.5 -18h0m-1 3.5h0m0 8h0m5 -17h0m10.5 8.5h0m-7 -3.5h0m-9 4.5h0m-5 -6.5h0m4.5 9.5h0m7.5 8.5h0m-0.5 -13h0m1 10h0m-9.5 -4.5h0m7.5 -4h0m-15.5 -7.5h0m20 13h0m1 -0.5h0m-0.5 -0.5h0m-18.5 -7.5h0m7.5 6h0m11 -6h0m-12 -0.5h0m12 2.5h0m-7.5 8h0m-2 -11h0m-4 7.5h0m4.5 2.5h0m-5 2h0m5.5 -7h0m0.5 0.5h0m-1 -4h0m7 -2h0m-12.5 -1.5h0m-3 3h0m10 2.5h0m-6.5 -6.5h0m5.5 13.5h0m11 -13.5h0m-10 14.5h0m-9.5 -5.5h0m11 4h0m1 -7.5h0m8.5 -7h0m2 15h0m-14 -2.5h0m-25 0.5h0m21 -5h0m-5 -2h0m17.5 14.5h0m-12 -10h0m-1 -5.5h0m1.5 15h0m9 -9.5h0m-8.5 -2.5h0m14.5 3.5h0m-8.5 1h0m-8.5 1h0m2.5 -3h0m3 -1.5h0m-6.5 -4.5h0m7 9.5h0m9.5 -7.5h0m-10.5 6h0m1 -5h0m4 9.5h0m-14.5 -10.5h0m15 6h0m6 -3h0m-15 4h0m8.5 -1.5h0m-8.5 -4.5h0m2 -2h0m4 4.5h0m8.5 1.5h0m-6 -7h0m-3 -1h0m1.5 9.5h0m-9 1.5h0m11.5 -13h0m-16 14h0m7 0.5h0m-1 -13h0m3 -0.5h0m1.5 17.5h0m-1 -19.5h0m0 14.5h0m-6 3h0m-3 -9h0m-118 -87.5h0m-11.5 -13h0m18.5 0h0m-15.5 -2.5h0m8.5 -9h0m-25.5 -7.5h0m-1 -12h0m23 34.5h0m3.5 18h0m-7 -36.5h0m-9 16h0m-4.5 -28h0m37.5 31.5h0m-39 -41h0m4 30h0m3 -29h0m19.5 31h0m-21.5 -18.5h0m4.5 15h0m-15 -20.5h0m33.5 25.5h0m-17 -7h0m-3.5 14h0m23 1h0m-25 -18h0m23 12h0m-14.5 -7h0m-0.5 -19h0m-9.5 -4.5h0m-7.5 -11.5h0m45 58h0m-58.5 -57h0m30.5 49h0m-4.5 -25h0m23 16.5h0m-10 -4h0m-4.5 1h0m-10.5 -5.5h0m15 -5h0m-8.5 -21.5h0m-34.5 15.5h0m30 1.5h0m31 21.5h0m-33.5 -13.5h0m0 -14.5h0m39.5 30h0m-14.5 20h0m-14 -37.5h0m-1.5 19.5h0m15.5 -7h0m-2 8.5h0m-8.5 -1h0m-27 -23.5h0m7.5 -6.5h0m2 -12.5h0m31 26h0m-2 33h0m-20.5 -13h0m-1.5 -42.5h0m0.5 -1.5h0m5 13h0m18.5 28.5h0m-22.5 -9.5h0m-17 -38.5h0m20 20.5h0m-18.5 7.5h0m27 1h0m14.5 14h0m-30 -22h0m5.5 21h0m1 -1.5h0m-12 -24.5h0m-6.5 14.5h0m8.5 -13.5h0m1 23h0m27 8h0m-25.5 -30.5h0m11.5 17h0m-3 -12h0m1.5 15h0m-10.5 -14h0m1 10h0m6 2.5h0m11 12h0m17 8h0m-48 -21.5h0m18 -33.5h0m32.5 42h0m-47.5 -25.5h0m1 7h0m47 18.5h0m-26 -14h0m-13.5 -23.5h0m19.5 29.5h0m-15 -30.5h0m7.5 37h0m-6 -25.5h0m3 19h0m10.5 0h0m-7 -14h0m6.5 10h0m-6 2.5h0m-7 -4h0m-19 -18h0m33 42.5h0m-22.5 -24h0m6.5 -0.5h0m4 -9.5h0m22.5 12.5h0m-24 -8h0m8 3.5h0m-1 11.5h0m16.5 15.5h0m-22.5 -35h0m-17.5 -14.5h0m14.5 13.5h0m33.5 21h0m-28 -2.5h0m-25.5 -14.5h0m29.5 15h0m-15.5 -28.5h0m9.5 39.5h0m4.5 -12h0m-2.5 0.5h0m16 -20h0m-7 -6.5h0m0.5 42h0m-7.5 -34h0m-4.5 7h0m12 33h0m-37.5 -41.5h0m0.5 9.5h0m39 20h0m-17.5 -41h0m7 20h0m-10 5.5h0m16.5 6.5h0m-17 -5.5h0m17 5h0m-24 5.5h0m4.5 -22.5h0m-14 -21h0m23 35.5h0m-16 -9h0m13.5 4h0m-26 -23.5h0m10 7h0m17 14.5h0m18 31.5h0m-24 -32.5h0m15.5 10.5h0m-30.5 -21h0m23.5 29.5h0m7 -21.5h0m-26.5 -5h0m32.5 2.5h0m-10.5 -5h0m-0.5 7h0m15.5 27h0m-23 -39.5h0m14.5 21.5h0m-21 -12h0m-10 0.5h0m23 29.5h0m-15 -48h0m28.5 38.5h0m-4.5 9h0m-20 -43.5h0m36 46.5h0m6 -18h0m-45 -39h0m29 44h0m-12.5 -8h0m-11 -12h0m-2 -15.5h0m19 46h0m0.5 -9h0m-17.5 -22h0m18 29.5h0m-24 -46.5h0m12 19.5h0m-3 -6h0m36 8h0m-21.5 15h0m8 -18h0m10 26h0m-19.5 -8.5h0m-16 -18.5h0m21.5 11h0m-15 -23h0m-3.5 15h0m19 22.5h0m-29.5 -24.5h0m18 21h0m-13.5 -33.5h0m36.5 48h0m-26.5 -39.5h0m19 33h0m-3 6.5h0m-37.5 -41.5h0m34 19.5h0m-12 -9h0m0.5 -11.5h0m-10.5 -2.5h0m2.5 19.5h0m0.5 0h0m22.5 -6h0m-29.5 -25.5h0m26 22.5h0m-9 14h0m6 -13.5h0m-32.5 -19.5h0m-7 24h0m30.5 -15h0m-2 40h0m6 -11h0m-3 -2.5h0m11 11h0m-24.5 -43.5h0m25.5 22.5h0m-21.5 -6.5h0m48 23h0m-35 -11h0m-5.5 -2h0m-1 -0.5h0m-9.5 -17h0m20.5 23.5h0m8 -5.5h0m-4.5 -12h0m-14.5 13.5h0m18.5 -1.5h0m3.5 8h0m-0.5 20.5h0m-13.5 -27.5h0m-2 -11.5h0m-17.5 7.5h0m21.5 13h0m2 -9.5h0m3.5 20h0m-13 -34h0m-8 15h0m24 -3h0m-9 17h0m-24 -18.5h0m5.5 -6h0m4 8h0m1 -12.5h0m15 12.5h0m13.5 9.5h0m-35 4.5h0m23.5 -7h0m-25.5 -13.5h0m25.5 34.5h0m-12 -30h0m21.5 3.5h0m-33 -18h0m-0.5 5h0m1.5 5.5h0m10 23.5h0m25.5 7.5h0m-18.5 -36h0m-22.5 -9h0m45.5 50h0m-13.5 -35h0m-27.5 -22.5h0m-0.5 7h0m-18.5 10.5h0m44.5 6h0m-1.5 14h0m-20 -19h0m0.5 -7h0m0.5 2.5h0m15.5 32h0m15 -20h0m3.5 21h0m-19.5 -20.5h0m-12.5 -3h0m0.5 -5h0m20.5 18h0m-5 9.5h0m4.5 -9.5h0m-15 -1h0m23.5 -7h0m-17.5 -8.5h0m9.5 15h0m-32 -24.5h0m21.5 22h0m14.5 12.5h0m-41.5 -45h0m34 24.5h0m4.5 0.5h0m-14 11h0m11.5 -8h0m-17.5 12.5h0m39 5h0m-42 -22.5h0m-5 -22.5h0m-14 11h0m30.5 5h0m2 8.5h0m67.5 12h0m-9 -7.5h0m2.5 6h0m-3 19h0m11 -2.5h0m-6.5 -13.5h0m-1 8h0m-4.5 -7.5h0m13.5 18h0m-10 -26h0m4.5 -3.5h0m-7.5 7h0m-4.5 -1.5h0m7 18.5h0m9 -6h0m-14.5 -6h0m0.5 -17.5h0m13 3.5h0m1 21.5h0m-2.5 -14.5h0m-7.5 -10h0m8 18h0m-2 -14h0m1 -4.5h0m-9.5 20h0m14.5 -3h0m-4.5 -12h0m2 5h0m-13 11.5h0m6 -6.5h0m2.5 -3.5h0m0 -5.5h0m4 7h0m-14 -10h0m11 25.5h0m-9 -29.5h0m5.5 10.5h0m1.5 0h0m8 5h0m-5 -11h0m8 12h0m-15 0h0m-1 13h0m13 -17h0m0 5h0m-13 13h0m5.5 -23.5h0m-10 -1h0m4.5 -7.5h0m13 1.5h0m-6.5 32.5h0m-4 -34.5h0m-2 11.5h0m-2 5.5h0m3.5 -4.5h0m2 -11.5h0m8.5 29.5h0m1.5 -9.5h0m-5.5 3.5h0m-9 1.5h0m12 1.5h0m-10 -12.5h0m0.5 -6.5h0m0.5 3h0m4 17h0m-10.5 -23.5h0m16.5 3.5h0m-12.5 11.5h0m12 5.5h0m-11 -2h0m10 6.5h0m2.5 -5h0m-8.5 -8h0m-6.5 1.5h0m16 6h0m-6 -15.5h0m6 -1h0m-3 22h0m-12.5 -24h0m14 6.5h0m1.5 12h0m-2.5 -1.5h0m-2.5 -20h0m1 -1.5h0m-13 -1.5h0m15 16.5h0m1.5 -5h0m-7 22.5h0m-12.5 -27h0m12 28.5h0m1.5 -19.5h0m-10 -14.5h0m5 23.5h0m7 2h0m-3.5 1h0m-7 -20h0m10 -4.5h0m-11.5 1h0m7 2.5h0m-4.5 12.5h0m8 1h0m-7.5 7.5h0m8 3.5h0m-1.5 -7h0m-7.5 -14.5h0m3 10h0m5 -17.5h0m-9 21h0m3.5 -14.5h0m9.5 1h0m-3 10h0m-8 4.5h0m10 -17h0m-4 24h0m4.5 -5h0m-2 6h0m-14 -18.5h0m17.5 17h0m-3.5 -29.5h0m-10.5 11.5h0m10.5 -8h0m-11 16.5h0m18.5 4.5h0m-18 -20h0m1 9.5h0m1 1h0m3.5 -4h0m5 10.5h0m6.5 -2.5h0m-17.5 -19.5h0m6.5 16h0m7.5 3h0m-1 1h0m-8 2h0m2 -5.5h0m-1.5 -6.5h0m-1 -7h0m-5 19h0m4 5.5h0m0.5 1h0m10 -17.5h0m-13 8.5h0m9.5 -8.5h0m-3 15.5h0m-6.5 -17h0m0 4h0m12 -0.5h0m-11 3h0m11.5 18h0m-16 -29.5h0m14.5 28.5h0m0.5 -0.5h0m-9 -32h0m2 25.5h0m5 -9.5h0m0 5h0m2.5 -18h0m-6.5 -1.5h0m3 21.5h0m-10 -14h0m11.5 -9.5h0m2 3h0m-13.5 25h0m3.5 -3.5h0m12.5 -14h0m-1 17.5h0m-2.5 6h0m-0.5 -30h0m-10 18h0m1 1.5h0m-1.5 10.5h0m-3.5 -21h0m14 13.5h0m3 -2h0m-8 -11.5h0m4.5 8h0m3 3h0m-14 -4h0m5.5 -19.5h0m-1.5 32h0m8.5 -32h0m-9 27.5h0m7.5 5h0m-1 -17h0m-11 -6h0m14.5 15.5h0m-16 -6h0m19.5 1h0m-11.5 -16.5h0m2.5 13.5h0m-1 -18.5h0m0.5 15h0m-9 -9.5h0m12 23.5h0m-9.5 -17h0m13.5 7.5h0m-10.5 4.5h0m-4 -12.5h0m12 -6h0m-10.5 8.5h0m-2 4h0m1.5 -14h0m1.5 17.5h0m10 9.5h0m-2.5 -29.5h0m3 13h0m-7.5 -11.5h0m2 21h0m3.5 -10h0m-13.5 -4h0m16 -7.5h0m-11 5.5h0m10 10.5h0m-4 -14.5h0m6.5 27h0m-6 -16h0m-7.5 16h0m0 -23.5h0m9.5 -1.5h0m1.5 18h0m42 -43.5h0m-29 16h0m31 -10.5h0m-18.5 1h0m-0.5 -3h0m-6 3.5h0m13 -4h0m-27.5 1.5h0m45 2h0m-14 1.5h0m-20 -4.5h0m30 -2h0m-3.5 15.5h0m-5 -2.5h0m4 3.5h0m-5.5 -6.5h0m-9.5 -15.5h0m3 15.5h0m21.5 -8.5h0m-33 1h0m1 4.5h0m3.5 6h0m-0.5 4h0m20 -17h0m3 14h0m2 -4.5h0m-4.5 1.5h0m-6 -8h0m-3.5 5h0m11 -12h0m-8 17h0m4.5 -7.5h0m-7.5 -7.5h0m0 10h0m-15 -10h0m19.5 9.5h0m-3 -4.5h0m3.5 3.5h0m14 2.5h0m-6.5 8h0m-10.5 -7h0m-0.5 -15h0m11.5 14.5h0m2 3h0m1 4.5h0m-13 -17.5h0m3 3h0m-20 15h0m33.5 -10.5h0m-18.5 3h0m8 -14h0m-2.5 -1.5h0m7 9h0m-23.5 2h0m15 1h0m23.5 -10.5h0m-25 13h0m2.5 -7h0m2.5 6h0m-5.5 -2.5h0m9 6h0m-8.5 -4.5h0m9.5 8h0m-21.5 -9.5h0m26.5 -2h0m-8.5 6.5h0m-17 -12h0m11.5 7.5h0m-8 5.5h0m16.5 -4.5h0m-6 4.5h0m1 -7.5h0m-3.5 2h0m6 -1.5h0m-9.5 11.5h0m3.5 -19h0m1.5 6h0m-8 -3h0m11 4.5h0m-4.5 -6.5h0m-3 4.5h0m-2 -1.5h0m11 -11.5h0m-16.5 19.5h0m18 5.5h0m-12 -11h0m2 3h0m2.5 -0.5h0m8.5 -1.5h0m-13 1h0m10 0h0m4 -1h0m-10 -4.5h0m2.5 0h0m12 3.5h0m-15 6h0m7 -1.5h0m-14.5 -15.5h0m-9 4.5h0m19 16.5h0m-7.5 -11.5h0m6.5 8h0m15.5 -4h0m-10 -2.5h0m7 -2h0m-15 1h0m-3 2.5h0m0.5 -7h0m-2.5 6h0m-8 0.5h0m32 -9.5h0m-22.5 2h0m5 14h0m-3 -6.5h0m23 2.5h0m-24.5 2.5h0m8.5 -13.5h0m-1.5 16.5h0m-10.5 -11h0m16.5 1.5h0m-23 -9h0m24 16h0m-17.5 -1.5h0m24 -4h0m-5 14h0m-7 -15h0m1 -5h0m15 9h0m2.5 -3h0m-24.5 0.5h0m-9.5 0.5h0m0 -5.5h0m25 4h0m-14 -7h0m7 6h0m-2.5 -1h0m5 0.5h0m-14 8.5h0m-2 -12h0m15.5 6h0m-11.5 5h0m6 -7h0m-9.5 6.5h0m13.5 -2h0m-13 -9h0m-0.5 11h0m-3.5 -13h0m10 11.5h0m4 -5.5h0m-8 4h0m23 -6.5h0m-21.5 13.5h0m-0.5 -7h0m13.5 6h0m-7 -3h0m-14 -3h0m-7.5 2.5h0m17 1.5h0m6 -2.5h0m-10 -6.5h0m3.5 5h0m6.5 6.5h0m9.5 -10h0m-31.5 8.5h0m8 4.5h0m21.5 -9h0m-2.5 -4h0m-19 2h0m19.5 4h0m-24.5 2h0m16.5 -4h0m3 -3.5h0m6.5 -2.5h0m-17 3.5h0m-7.5 2.5h0m30 -1.5h0m-31.5 -7.5h0m-6 9.5h0m22.5 -8h0m4 1.5h0m-11.5 6.5h0m4 -2h0m-4 -1.5h0m20 5h0m-25.5 -7h0m19 14h0m-3 -10.5h0m-10.5 2h0m-12 5.5h0m24.5 -9.5h0m-4.5 7h0m-3.5 -3h0m0 -5h0m-2.5 4h0m8.5 -6h0m7 11h0m-10 -1.5h0m-7.5 -1.5h0m0.5 -3h0m3 7.5h0m-2 -7h0m-7 -6.5h0m4.5 1h0m-1.5 3.5h0m17.5 -3h0m-12.5 -5h0m-2 10.5h0m-7 4.5h0m8.5 -3.5h0m-11 1h0m31 -7h0m-13 7.5h0m-7 -8h0m-5.5 14.5h0m29 -12h0m-18.5 -6h0m0.5 13h0m-3.5 2h0m8.5 4.5h0m-15 -7h0m-118 46.5h0m-22 -17.5h0m-23 8.5h0m23.5 0.5h0m27 10h0m-25.5 -6.5h0m18 22h0m-0.5 -16h0m9.5 0h0m-11 -0.5h0m-12.5 -14h0m3.5 21.5h0m14.5 -2.5h0m-26.5 -7h0m24.5 2.5h0m-26.5 -2h0m3 -13.5h0m-6.5 17h0m12 -7.5h0m15.5 6.5h0m2.5 1.5h0m-2 -1.5h0m14 9h0m-3 -17.5h0m-21.5 3.5h0m12.5 -15.5h0m-17.5 10h0m10 1.5h0m-25.5 -18.5h0m31 27.5h0m-4.5 0.5h0m10 -1.5h0m-13 -11h0m-1.5 7h0m-1.5 3h0m-14.5 -10.5h0m27 18.5h0m-26.5 -17h0m15 0h0m-8 4.5h0m16.5 -46h0m136 82h0m47 -7.5h0m-167.5 -45.5h0m110 -33.5h0m-90 -5.5h0m129 56h0m-5.5 43.5h0m1.5 -15h0m23 6h0m-19 -51h0m18 47h0m-72 -14.5h0m-3 30h0m-30 -27.5h0m-55.5 -17h0m75.5 32.5h0m42 -92.5h0m34.5 58h0m-129 42.5h0m118 -26h0m-138 -33.5h0m107 5h0m-117 -34.5h0m-13 -2h0m133 -1.5h0m-13 72.5h0m49.5 -1h0m-71.5 -76h0m-26 59.5h0m-13.5 41.5h0m-57 -36h0m63.5 31.5h0m-52 -66h0m142 -24h0m-109.5 38.5h0m-7 -5.5h0m46.5 -28h0m-20.5 -16h0m88.5 75.5h0m-45.5 -54h0m-103.5 39.5h0m115 -33h0m-44.5 31.5h0m0.5 24.5h0m24 17h0m-102.5 -60h0m10.5 21.5h0m101.5 12.5h0m32 -62.5h0m-36 30.5h0m51.5 -2.5h0m-2.5 -8.5h0m-131 -27h0m69.5 59.5h0m-52 -58h0m121 75h0m-48.5 36h0m-46.5 -13.5h0m102 -47.5h0m-124.5 52h0m64 -52.5h0m4 -51.5h0m-6 60h0m38 11.5h0m-141.5 -29h0m139 46h0m-147.5 -58.5h0m4 31.5h0m63.5 12.5h0m-27.5 -49h0m64 11.5h0m-25.5 74.5h0m-39.5 -51.5h0m121.5 -15.5h0m-23.5 -1h0m-98.5 -11h0m145 -9h0m-76.5 -30.5h0m-7.5 33.5h0m12.5 32h0m-67.5 -37h0m109 54h0m-101 -27h0m-45 -8.5h0m110.5 -17.5h0m-63 60h0m112 -71.5h0m-37 19.5h0m15.5 68.5h0m36.5 -52.5h0m4 -30h0m-46.5 0.5h0m12.5 29h0m-141 -28.5h0m118.5 7.5h0m-34 20.5h0m97 -26h0m-23.5 77h0m-108.5 -4.5h0m56 21h0m65 -57h0m-156 28.5h0m22.5 -15.5h0m30 14.5h0m-19.5 9.5h0m22 -46.5h0m104.5 -12.5h0m-157.5 -10h0m5.5 71.5h0m94 -78h0m-102 32h0m128 37h0m-123 -75h0m-22 13h0m67 13.5h0m-66.5 -3h0m103.5 -39.5h0m-74.5 19h0m151 72.5h0m-75.5 -47.5h0m8 31.5h0m-81.5 -7.5h0m-8.5 14.5h0m46 -38h0m52.5 41.5h0m-103 -27h0m22.5 -27h0m108.5 40.5h0m-82 -59h0m75.5 67h0m15 -65.5h0m-37.5 3h0m26.5 11h0m-134.5 11h0m106 33h0m-72 -71.5h0m20 104.5h0m-77 -47h0m73.5 57h0m97.5 -16h0m0.5 -61.5h0m-162 -22.5h0m175.5 62.5h0m-80.5 -4h0m-73 26.5h0m159.5 -3h0m-47.5 -66h0m16 -6.5h0m-14.5 68h0m35 -78h0m-110.5 98h0m53.5 -103.5h0m-6.5 81.5h0m-18.5 12h0m25.5 0h0m9 -27.5h0m16.5 -44.5h0m-77 33h0m-45 -1h0m147 24h0m-94.5 -53h0m-69 -4.5h0m126 -8.5h0m-101 51h0m65.5 -72.5h0m-45.5 61h0m98 38h0m-63 -71.5h0m51 63.5h0m-79.5 -29.5h0m18.5 26h0m37.5 -39h0m32.5 33.5h0m12 -44h0m-93 50h0m-9.5 -31h0m127.5 6h0m-102 47.5h0m55 -93.5h0m-24 90.5h0m-69 -83.5h0m81.5 32.5h0m29.5 51h0m-50.5 -80h0m-92.5 21.5h0m173 -35.5h0m-156 43.5h0m92 54h0m31.5 -71h0m-39 49.5h0m47 11h0m-5 -69h0m-144.5 -14.5h0m115.5 53.5h0m-6 25.5h0m48.5 -7h0m-134 -67.5h0m30 2.5h0m18 9h0m51.5 84.5h0m-22 -13h0m-0.5 0h0m-5 -47h0m-10.5 57h0m9 -11.5h0m55.5 -52h0m-31.5 52.5h0m-80 -17.5h0m-19.5 -66h0m-10.5 5.5h0m105 -7.5h0m-81.5 -10h0m25.5 -2h0m67.5 5h0m-20.5 -12h0m8.5 34.5h0m-69 79.5h0m12.5 -21.5h0m63.5 -35h0m-41 26.5h0m-81.5 -77h0m36 98.5h0m47 -88.5h0m-43.5 55h0m128.5 12.5h0m-87.5 -11.5h0m94.5 -10h0m-88.5 -60.5h0m27.5 123.5h0m-57.5 -48h0m102.5 6h0m-144 -64.5h0m97 47.5h0m16.5 54h0m28.5 -29.5h0m-110 -90.5h0m29.5 32.5h0m47 42.5h0m-10 0.5h0m0.5 -72h0m-32.5 70h0m-26 -41.5h0m-38.5 24h0m32.5 -19h0m-47 41.5h0m59 -75.5h0m65 46h0m-100 47.5h0m109 -35.5h0m-49.5 -50h0m-9 42h0m63.5 -38.5h0m30 3.5h0m-108.5 31.5h0m101.5 -15.5h0m-14 10h0m-65.5 67.5h0m70 -73h0m11.5 -14.5h0m-63 51.5h0m43 -35h0m-155 6h0m169 -17h0m-85 8h0m5.5 2h0m18 55h0m-13.5 -9.5h0m70.5 -60h0m-146 -11.5h0m12.5 49h0m152.5 12.5h0m-16.5 -66.5h0m-42 87h0m22.5 -88h0m-16 95.5h0m-74 -98.5h0m-20 87.5h0m90 -73.5h0m-19.5 96h0m-57.5 -19h0m15.5 -42h0m-8.5 -35h0m75.5 3.5h0m-30.5 62.5h0m38.5 21h0m-11.5 7.5h0m39.5 -63h0m-61 14h0m21 17h0m44.5 -59.5h0m-13 -18.5h0m-92.5 61.5h0m-14.5 -46.5h0m-47 -14.5h0m148.5 88.5h0m-86.5 1.5h0m-1 -69h0m-46 -12.5h0m152 10h0m-156 -14h0m93 60h0m34.5 48h0m-66 -35h0m5.5 -67.5h0m-44.5 68h0m140 -39.5h0m-15 67.5h0m-126.5 -84h0m44.5 -23h0m-16.5 32.5h0m45 51h0m-30 19.5h0m-73.5 -83.5h0m96 -0.5h0m-24.5 87h0m30.5 14h0m-17 -53h0m20 39.5h0m-7.5 4h0m-63 -71h0m13 51.5h0m-20.5 -87h0m121 41h0m-33 6h0m0 50h0m-114.5 -38.5h0m-8 -24.5h0m125.5 60h0m12 15h0m-68.5 -100h0m-51 51.5h0m104.5 16h0m51.5 -28.5h0m-77.5 47.5h0m-88 -45h0m146.5 -9.5h0m-118.5 -17h0m16.5 77h0m1 -83h0m84 -8.5h0m-72 51.5h0m71 -51h0m-53 52.5h0m20 1.5h0m-3.5 29h0m40 4.5h0m57.5 -62.5h0m-67.5 43.5h0m-57 23.5h0"/><path id="uN" d="M343.5 54.5h0m8 1h0m-3 -2.5h0m-18.5 -4.5h0m14 -5h0m-16.5 0h0m19.5 5h0m-7 -12.5h0m-13 11.5h0m9.5 -1.5h0m4.5 20h0m3 -8.5h0m-3.5 -26h0m-5.5 27.5h0m-8 -0.5h0m21 -10h0m3.5 -13h0m-3 2h0m-6 11h0m-3.5 -7h0m-4.5 28.5h0m13 -31.5h0m-4.5 -0.5h0m5 -8.5h0m-9.5 21.5h0m-4.5 14h0m4.5 -9.5h0m4.5 -13.5h0m-11.5 14h0m15 2.5h0m-7.5 -24.5h0m-4.5 8.5h0m10 0.5h0m-3.5 -8h0m5 6.5h0m0 3h0m1 4.5h0m-5.5 -3.5h0m-8 -1.5h0m-3 12h0m4.5 -9h0m5.5 -4.5h0m-10 16h0m7 -16.5h0m12.5 7h0m-16.5 7h0m-1.5 5h0m2.5 -1.5h0m2 7.5h0m-9 -4h0m17.5 -4h0m-5 -20.5h0m-0.5 23.5h0m-14 0.5h0m16.5 -16.5h0m-5 19.5h0m1.5 -26h0m-7 0h0m16 6.5h0m-19.5 -2h0m3 11.5h0m7 -17.5h0m-3 25h0m-4.5 -19.5h0m14.5 -9.5h0m-0.5 17h0m-10.5 9.5h0m3 -7h0m13 -3.5h0m-22 7.5h0m7.5 -2h0m2.5 -0.5h0m10.5 -27.5h0m-3 20h0m-9.5 -9h0m-9 12.5h0m12.5 -0.5h0m6.5 5.5h0m0 -12.5h0m-12 18h0m9.5 -30.5h0m6.5 33.5h0m-17 -14h0m10.5 -3.5h0m-3.5 -4.5h0m9.5 6.5h0m-8.5 17h0m-14 -21h0m13 17h0m6 -8.5h0m-3 -9h0m6 -20h0m-5.5 30.5h0m-3 3h0m9 -7.5h0m-2 -9.5h0m-4 17.5h0m6 4.5h0m-4 -8h0m-6 -18h0m-0.5 20.5h0m11 -10h0m2 -5h0m-13.5 6h0m4.5 13.5h0m-11 -18h0m12 17.5h0m4.5 -32.5h0m-6 -2.5h0m-14.5 28.5h0m19 -18h0m-6.5 25h0m-8 -7.5h0m16.5 -24h0m-20 14.5h0m16.5 10h0m5.5 -17.5h0m-6.5 8h0m-3 -15.5h0m-1 28.5h0m-9 8.5h0m7.5 -35h0m-14 14h0m31.5 -8h0m-12 29h0m-8 -12.5h0m-10.5 -7h0m7.5 12.5h0m-6 -2.5h0m10 -14.5h0m12 -3.5h0m-20.5 15.5h0m4.5 10h0m13.5 -35h0m-16 14h0m13 -9.5h0m6.5 29h0m-14.5 2h0m2.5 -3.5h0m8 -1h0m-10.5 -8h0m-9 5h0m12 -11h0m4 -11h0m0 22.5h0m-12 -8.5h0m14 0.5h0m-15.5 1h0m14.5 10h0m-14.5 -19.5h0m11.5 -4.5h0m5 -7.5h0m0.5 31h0m-14 -14h0m12 -11.5h0m-7 13h0m3 1h0m-14 3h0m17 3.5h0m-2 -24.5h0m-14 23.5h0m19 -16h0m7.5 -0.5h0m-25 7.5h0m8.5 15.5h0m-10 2.5h0m5.5 -4h0m14 -32h0m-5.5 7h0m-1 11h0m-1.5 15h0m-4.5 -18.5h0m6 18.5h0m4 -10h0m2 -4.5h0m-13.5 -0.5h0m5.5 4h0m-8.5 -5h0m10 16.5h0m-15 -12.5h0m18.5 2.5h0m-11 -6.5h0m19.5 6.5h0m-1.5 -9h0m-5 1.5h0m-9 13.5h0m0.5 -10.5h0m-8 3h0m7.5 -14h0m-8.5 17h0m0.5 -2.5h0m10.5 -4.5h0m-0.5 -15.5h0m13.5 3.5h0m-13 25h0m5.5 -30h0m-10 36.5h0m14.5 -36h0m-19 34.5h0m18 -33.5h0m-11 19.5h0m12 -2.5h0m-10.5 11.5h0m-3 1.5h0m15.5 -14.5h0m-15.5 13.5h0m10 -16.5h0m-12 4.5h0m6.5 5.5h0m1 -15.5h0m-9.5 16h0m-5 9.5h0m14.5 0.5h0m-8 -20h0m-5.5 13h0m19 -15h0m-12.5 14.5h0m-6 0.5h0m13.5 3.5h0m-4.5 -20h0m3 5h0m8.5 14h0m2 -18h0m-17 2h0m11.5 3.5h0m-13.5 -5.5h0m8 -2h0m0.5 27.5h0m-10.5 -4h0m15 -19h0m-1 -11h0m-12.5 25h0m17.5 -11.5h0m-6 -15.5h0m-8.5 31.5h0m8 -0.5h0m-9.5 -18h0m3 14h0m-6 -13h0m-2.5 7h0m6.5 -12h0m7.5 -6h0m11.5 4h0m-13.5 20.5h0m-1 -16.5h0m13.5 1.5h0m-5 -15h0m-18 27h0m7 2.5h0m7 6.5h0m-0.5 -26.5h0m9 -4h0m-4.5 16.5h0m-18.5 8h0m5.5 -7h0m-2 2.5h0m-4 3.5h0m20 -18.5h0m-0.5 -1h0m-18.5 29.5h0m8 -12h0m16 -12.5h0m-24 -0.5h0m8.5 24h0m2.5 -14.5h0m11.5 -15.5h0m-17 30.5h0m18 -29.5h0m-25 24.5h0m19.5 -22.5h0m-9 21h0m12.5 1.5h0m-3 -10h0m-3 -15.5h0m-13 7h0m8 1.5h0m10 -6.5h0m-5.5 17h0m3.5 -12h0m-9.5 6.5h0m13 15h0m-16 -9h0m12 -2.5h0m5.5 0.5h0m-16.5 5h0m0.5 -18h0m14 14h0m3 -16.5h0m-13.5 -0.5h0m4.5 10h0m-6 -9.5h0m-6 26h0m9.5 -19.5h0m5 15h0m-11 -15.5h0m9.5 -9h0m-12 18.5h0m3 7h0m14.5 -3.5h0m-16 -0.5h0m26 9h0m8 -15h0m-9.5 10h0m8 -10.5h0m1 12h0m-7 -6h0m0 7h0m13 -2.5h0m0 -5.5h0m-3.5 19h0m-8 -6.5h0m-5 -5h0m-0.5 -12h0m16.5 16.5h0m-15 -30h0m30.5 31.5h0m-12.5 -5h0m-14 -19.5h0m5.5 22.5h0m0.5 1h0m-8 -26.5h0m-1 8.5h0m19 15h0m4.5 -9h0m-23.5 7.5h0m10 4h0m11 -8h0m-23.5 4h0m21 -12.5h0m-12.5 -3.5h0m-6 4.5h0m25.5 8.5h0m-22 10h0m4 -10.5h0m4 9h0m-6 -14h0m22.5 3h0m-27.5 -12h0m27.5 14.5h0m-15.5 8.5h0m-20 -14.5h0m29 2.5h0m-21 -17.5h0m21.5 17.5h0m-3 5h0m-5 -8h0m-14.5 -15h0m22 32.5h0m-12 -27.5h0m-3 21h0m-3.5 -12.5h0m-5.5 -4.5h0m26.5 13h0m-1.5 9h0m-26 -26.5h0m9 3.5h0m-7 -8.5h0m-4 7h0m23 22.5h0m3 -5.5h0m-21 -16.5h0m0.5 -8.5h0m6.5 7.5h0m18.5 10.5h0m-22.5 -6.5h0m7.5 -5.5h0m7.5 21.5h0m7.5 -2.5h0m-21 4h0m6.5 -21.5h0m-10.5 19.5h0m-4.5 -25h0m25.5 25.5h0m-22.5 -3.5h0m1 -10.5h0m13 -6h0m-13.5 6h0m12.5 4.5h0m-0.5 5.5h0m8.5 9.5h0m-8 -16.5h0m-4.5 13.5h0m11 -5.5h0m-16 -12.5h0m11 17.5h0m-1.5 -13h0m-12 14h0m15.5 -5h0m-21.5 -15h0m35 14h0m-20.5 -10h0m2 21.5h0m5 -20.5h0m-12 6h0m-2 -12h0m9.5 9h0m10.5 13h0m-1 0h0m-13 -1.5h0m4 4h0m5.5 -10h0m9.5 4h0m-24 -15h0m8.5 8h0m-5.5 11.5h0m-0.5 -16.5h0m18 16.5h0m-12 -11h0m8 15h0m5.5 -11h0m-9.5 -10.5h0m12.5 2h0m-32 3h0m5 1h0m6 -15.5h0m10.5 12.5h0m-10.5 -15h0m-6.5 17.5h0m-2 -12h0m19.5 8.5h0m3 4h0m-7 -11.5h0m-14.5 11.5h0m6 14.5h0m5 -15.5h0m1 12.5h0m11 -1h0m4.5 -14.5h0m-23 7h0m1 -4h0m6 8.5h0m-11 -4h0m18.5 -10.5h0m-7 5h0m-11 7.5h0m0.5 -29h0m0 19h0m-8 -3h0m15 8.5h0m-12.5 -15h0m16 6h0m2 -3.5h0m-5.5 14.5h0m9.5 5h0m-19.5 -3.5h0m4 -19.5h0m-5 11.5h0m8.5 6.5h0m23.5 -3h0m-30.5 7.5h0m24 -6h0m-21.5 10h0m14.5 -15h0m-14 -18h0m20 26.5h0m4 -1h0m-31 -20.5h0m26.5 30h0m-1.5 -18h0m5.5 0h0m-20 1.5h0m17 7.5h0m-22 -5h0m-0.5 -15h0m4 25.5h0m1.5 -26.5h0m-3.5 4h0m3 11h0m5 -5.5h0m14.5 13.5h0m-2.5 5h0m-19.5 -30h0m5 9.5h0m11.5 20.5h0m-8 0h0m-1 -9.5h0m6 4h0m-18 -17h0m26 13h0m-7 8.5h0m-5 -12h0m-8 4h0m-2.5 -8h0m13.5 5h0m7.5 -1.5h0m-11.5 10.5h0m-9 -22.5h0m5 28.5h0m7.5 -19h0m-18.5 -4.5h0m10.5 2.5h0m12 0.5h0m2 6.5h0m-19 8h0m6.5 -24.5h0m0.5 27.5h0m-12.5 -16h0m24.5 4h0m-19 -6h0m13.5 -1.5h0m-7.5 8h0m-3 -2.5h0m0.5 12.5h0m21 -6h0m-3.5 -4.5h0m-9.5 16.5h0m-6 -29.5h0m16.5 11.5h0m1.5 4.5h0m-1 4h0m-8 -10.5h0m-15 -3.5h0m10.5 1h0m-4.5 1h0m6.5 12.5h0m-1.5 -4.5h0m-10.5 -16.5h0m10.5 9.5h0m-12.5 -3.5h0m16.5 17.5h0m-9.5 -17h0m0 -1h0m0.5 12h0m-6 -23.5h0m6.5 21.5h0m18 11h0m-21 -14.5h0m-5 1.5h0m17 15h0m-19 -36.5h0m2 3h0m-1 21.5h0m8.5 -0.5h0m16 -4.5h0m-17 13.5h0m-2.5 -19h0m-8 7.5h0m27 1.5h0m-3.5 1h0m-14.5 -1h0m3 2h0m-5 -11.5h0m2 -1h0m8 5h0m-14 3.5h0m3 -7.5h0m-5.5 -2h0m12 -2.5h0m6 4.5h0m1 2h0m0 -1.5h0m10 7.5h0m4.5 6.5h0m-17.5 7.5h0m8.5 -7.5h0m0.5 4h0m-20 -3.5h0m15.5 -5h0m-15 -6.5h0m6 0.5h0m5 10h0m14 -6.5h0m-14.5 -4h0m18.5 6.5h0m-33.5 -11.5h0m5.5 18h0m0.5 -26h0m-7.5 8h0m24.5 18h0m-15.5 -12h0m6 8h0m-13 -12.5h0m16.5 6h0m3 12.5h0m-15 -2.5h0m-0.5 -11h0m-5 -4.5h0m11.5 6.5h0m20 14h0m-2.5 -0.5h0m-15 -14h0m4.5 0.5h0m-1.5 16h0m-13 -24h0m7.5 -1.5h0m0 4.5h0m4.5 -5h0m1 24.5h0m11.5 -8.5h0m-2.5 -12.5h0m-23.5 -5.5h0m14 0h0m-5.5 21h0m11.5 0.5h0m-17.5 -28.5h0m-5 8h0m10.5 3.5h0m17.5 7.5h0m1 13.5h0m-18 -5.5h0m1.5 35.5h0m5.5 -1h0m-7 5h0m8.5 -15.5h0m-8 1.5h0m3.5 15.5h0m-12 -6.5h0m-1 -1.5h0m18 -1.5h0m-7 10h0m10.5 -21h0m-20 10h0m7.5 7h0m-0.5 1h0m8.5 -14.5h0m-3.5 3h0m-5.5 11.5h0m-3 -2h0m14 -9h0m-9 -4h0m-4.5 8.5h0m16 -5h0m-7.5 0.5h0m5.5 -4h0m-3 15.5h0m-5.5 -9h0m-13 2h0m11 -2h0m-6 -3h0m4.5 5h0m2 6.5h0m3 -14.5h0m-3 12.5h0m0.5 -4h0m-8.5 2.5h0m5 -8h0m1 7h0m13 -0.5h0m1 2h0m-24 -4.5h0m22.5 -4.5h0m-4.5 0.5h0m-9.5 14h0m-9 -8h0m10 -8.5h0m6 11.5h0m-2 -8h0m10.5 -1.5h0m-15.5 6h0m-4 -4h0m17 -2.5h0m-1 -3h0m4 3.5h0m-16 3.5h0m-1.5 -0.5h0m9 -1.5h0m0.5 -5h0m-8.5 14h0m-1.5 -3.5h0m4.5 4.5h0m2 -6.5h0m4.5 -3h0m5 2h0m-10 -3h0m5.5 8h0m3.5 -10h0m-0.5 7h0m-17.5 2.5h0m6 -3.5h0m-3 0.5h0m4 2h0m-3.5 -7h0m3 5h0m10 -12h0m-17 16h0m10 -4h0m8 -4.5h0m-14 11.5h0m6.5 -11.5h0m-6 14h0m6.5 -10h0m-5 -7h0m-6 1.5h0m18.5 2.5h0m-16 -3.5h0m6.5 7h0m-1.5 3.5h0m4 5.5h0m-7 1.5h0m2.5 -4.5h0m-2 -0.5h0m5.5 2h0m4.5 -15h0m5 8.5h0m3.5 -9h0m-17 17h0m11.5 -21h0m-10.5 8.5h0m14.5 -0.5h0m-6 -4.5h0m-16 9h0m14.5 5.5h0m-12.5 2.5h0m5.5 -15.5h0m-7 5.5h0m19 -2h0m-10.5 1h0m10.5 -4.5h0m-19.5 6h0m11 1h0m3 5h0m-13 -2.5h0m10 -7.5h0m-0.5 -1.5h0m-10 12h0m19 -6h0m1 -2h0m-10.5 10.5h0m4 -2.5h0m2.5 -12h0m-11.5 1h0m-1.5 6h0m-0.5 -8.5h0m7 14.5h0m-1 -0.5h0m-2 -1h0m5 -1h0m-6.5 -3.5h0m18 -2h0m-17.5 9.5h0m-5 -2.5h0m17.5 -4.5h0m-4.5 1h0m3.5 -4.5h0m-7 -5h0m-9.5 11.5h0m-0.5 0.5h0m11.5 0.5h0m-8.5 -5h0m14.5 -4h0m-11 -3.5h0m6.5 7.5h0m-8.5 -1.5h0m-5.5 -0.5h0m19.5 0h0m-11 8.5h0m2 3h0m8 -3h0m-8 -9.5h0m-1 4.5h0m-2 2.5h0m-5 -2h0m4 1h0m11.5 -1h0m1 -3.5h0m-12 -5h0m4.5 0h0m-6 1.5h0m-5.5 5.5h0m12.5 8.5h0m3.5 -14h0m-4.5 9h0m-4.5 -3.5h0m1 -6h0m7 -1h0m3 0h0m4.5 4.5h0m-18 -1h0m2.5 0h0m-4 3.5h0m0.5 -33h0m-14 -0.5h0m25 35.5h0m-9.5 -21h0m-14 8h0m8 -37h0m17 13.5h0m-20 1.5h0m25.5 0.5h0m-2 10h0m-12 -23.5h0m-5.5 8h0m-1 -24h0m-10 18h0m26 43h0m-14.5 -57.5h0m1.5 49h0m-1 -25h0m11.5 -15h0m-1 35.5h0m-29 -35.5h0m11.5 5.5h0m17 27.5h0m15.5 -24.5h0m-48 0.5h0m45.5 6.5h0m-1.5 -3.5h0m-17 14.5h0m-15.5 5h0m-2 -16.5h0m8.5 -21.5h0m-2 25.5h0m12 -26h0m-34 30h0m30.5 21h0m10.5 5h0m-24 -16h0m33 -29.5h0m-17 1.5h0m-17.5 -3h0m9 46.5h0m20 -32.5h0m8 3h0m-23.5 15h0m5 -29h0m-14 12.5h0m9.5 27.5h0m-4.5 -33h0m-15.5 29h0m7.5 -13.5h0m17 -31h0m16.5 15.5h0m-34.5 13.5h0m-20 -15.5h0m41 40.5h0m-42.5 -26.5h0m35 26.5h0m-24 -48h0m-4.5 3h0m32.5 21h0m-25.5 -34.5h0m34.5 35.5h0m-31 -41h0m20.5 41.5h0m-10 -18.5h0m-13 24h0m29.5 -26h0m-24 24h0m23.5 -13.5h0m-18 34h0m23 -31.5h0m-25.5 -18h0m21 26.5h0m-28 10h0m-1.5 -49h0m42 24h0m3 -7h0m-35 27.5h0m-11.5 -24.5h0m-0.5 -3h0m7 4.5h0m17.5 -10.5h0m-9.5 16.5h0m-34 -6.5h0m30.5 31h0m-11.5 -31.5h0m39.5 13.5h0m-37.5 0h0m34.5 -7.5h0m-8.5 6h0m-16.5 -20.5h0m23.5 33h0m-2 -31.5h0m-24 -14.5h0m34.5 23.5h0m-34.5 -5h0m-6 18h0m-12.5 -19h0m53.5 21h0m0 -6h0m-42.5 15h0m25 -37.5h0m21 30h0m-50 -6h0m38 20.5h0m5 -15h0m-27.5 -22.5h0m11 20.5h0m0 5.5h0m-14.5 -54h0m5 75.5h0m26 -22.5h0m-4 -17.5h0m-29 18h0m1 1.5h0m8.5 -9.5h0m9 -10.5h0m0.5 -3.5h0m-14.5 -24.5h0m7 20h0m-12 27h0m6 -6.5h0m14.5 11h0m-34 -25h0m18 9.5h0m8 7.5h0m0 -15h0m-16 -24.5h0m39 38.5h0m-7.5 11h0m6 -32h0m-51 15h0m-2 -16.5h0m43.5 39h0m-21 -40.5h0m1 -19h0m25 64.5h0m-1 -11.5h0m-26 -31h0m10.5 20.5h0m16.5 22h0m-3 -50.5h0m-34.5 17.5h0m3 23h0m10.5 -25.5h0m2.5 16h0m-18 -27.5h0m15.5 17.5h0m35 -6h0m-60 1.5h0m35 -21h0m8 58h0m21 -40h0m-24.5 35h0m1.5 -47.5h0m7 50.5h0m-20.5 -73h0m31.5 54h0m-29.5 -34h0m-19 15h0m-6.5 22.5h0m30 22.5h0m11.5 -23h0m-19.5 15h0m12 -16h0m-24 4h0m45.5 -21h0m-14.5 19.5h0m-10.5 11.5h0m5 -23h0m-26.5 5h0m-15.5 -19.5h0m49.5 22h0m-39 -5.5h0m13.5 -1h0m14 2h0m6.5 -11h0m-20 17h0m19 -41h0m19.5 23h0m-23.5 -12h0m10.5 40.5h0m0.5 -26.5h0m-47.5 5.5h0m16.5 4.5h0m6 24.5h0m-6 -21h0m14 -26.5h0m-21.5 -1h0m36 20h0m-19 -23.5h0m-12 18.5h0m-5 0h0m10.5 -9.5h0m24.5 30.5h0m-33 -29h0m6 -20.5h0m3.5 18.5h0m4.5 15.5h0m20 22h0m-11 -4.5h0m-2 -3.5h0m20 -11.5h0m-22 11.5h0m6 -9.5h0m-27.5 10h0m19.5 14.5h0m22.5 -16.5h0m-22.5 7h0m29.5 -16.5h0m-44 5.5h0m6 -7.5h0m2.5 -7h0m-18 2h0m8 6.5h0m28.5 3.5h0m5 -17.5h0m-8 5.5h0m2.5 15h0m16.5 -7.5h0m47.5 1.5h0m-3.5 -2h0m3 3h0m4.5 2.5h0m-1.5 -8.5h0m-4.5 3h0m-3.5 1.5h0m7 -1h0m10 1.5h0m-11.5 1.5h0m5 -6.5h0m-2.5 7h0m2 -2h0m-6 2.5h0m7.5 -2h0m-9.5 0h0m6.5 1.5h0m2.5 -4h0m-3.5 3.5h0m0.5 0.5h0m-11 3h0m15 -6h0m-7.5 1h0m2.5 5h0m-6 -3.5h0m0.5 -1.5h0m7 -1h0m-2.5 -2.5h0m-0.5 2h0m1 -1h0m-8 0.5h0m7 -0.5h0m-4.5 1h0m12 1h0m-5.5 -1.5h0m-3 0h0m7 0h0m-7 -2h0m-4 4.5h0m10 -1h0m-1 -0.5h0m-10 0h0m6.5 -2.5h0m4.5 2.5h0m-6.5 3.5h0m0 -6.5h0m1.5 3.5h0m-2 -2h0m8 3.5h0m-5 -2.5h0m2 -3h0m0 2.5h0m-3.5 4.5h0m-5 -2.5h0m6 -5h0m-53 14h0m22.5 12.5h0m-19 -8.5h0m17.5 3.5h0m-14.5 -11h0m12 13.5h0m-10 -2h0m6 -6h0m6.5 11h0m8.5 2h0m-5 2h0m-0.5 -2h0m-0.5 4h0m-15 -19h0m6 11.5h0m0 -14.5h0m11 15.5h0m-1.5 -1h0m-2 -2.5h0m-2.5 4.5h0m-7 -1.5h0m11 0.5h0m-0.5 2.5h0m2 0h0m-19 -9h0m13 6.5h0m-3.5 -10.5h0m8.5 5.5h0m-4 6h0m-4 -10.5h0m-6.5 1.5h0m0 -8.5h0m0.5 3h0m4.5 7h0m-6.5 -11h0m0 6.5h0m4.5 3.5h0m8 9.5h0m4.5 -5.5h0m1.5 9.5h0m-8 -6.5h0m3.5 -6h0m-12 -4h0m0.5 3h0m-1.5 -2.5h0m7 8h0m-4.5 -3.5h0m0.5 -4h0m-10 -3h0m17 13.5h0"/><path id="uB" d="M308 297.5h0m-5.5 -1h0m-13.5 24.5h0m10 6h0m7 -10h0m-6.5 8h0m3.5 -0.5h0m-1.5 -3.5h0m-8 10.5h0m10 -38.5h0m-3 11h0m-2 9.5h0m1.5 -11.5h0m1 -4h0m-10 37h0m14.5 -10h0m-13.5 -9.5h0m0 0.5h0m-3 -1h0m10.5 -27.5h0m12 14.5h0m-6 22.5h0m-7.5 -17h0m-12 13.5h0m16.5 -29h0m-5.5 36.5h0m4.5 -29.5h0m2 27h0m-16.5 -33.5h0m23 5.5h0m-25.5 13.5h0m5 -11h0m5.5 3h0m-6 -10h0m4 9.5h0m-4.5 -7.5h0m18.5 16.5h0m-6.5 8h0m-7.5 -22.5h0m-10 22h0m6 -16.5h0m0.5 -11h0m16 9.5h0m-19 9h0m12.5 -19.5h0m-17 14.5h0m19.5 21.5h0m-8 -23.5h0m-6 10h0m9.5 -1h0m11 -1.5h0m-15.5 18h0m-5.5 -36.5h0m-1 15h0m15.5 -20h0m-17.5 36h0m27 -27h0m-29 11.5h0m16 22h0m11 -21.5h0m-4.5 -15h0m-12 6.5h0m-2 14h0m1 -23.5h0m2.5 37.5h0m6.5 -10h0m-1.5 -32.5h0m-4.5 20.5h0m2 -19h0m-8.5 17.5h0m7 11.5h0m0 19h0m6.5 -12h0m-17 -0.5h0m11 -8h0m2 -23.5h0m-14.5 11.5h0m11.5 1h0m-5 12h0m-0.5 -13.5h0m6 27h0m12.5 -36.5h0m-12.5 0.5h0m3 20h0m-13.5 10.5h0m4 -29h0m10 26.5h0m-2 -7h0m-12 -13h0m10.5 17h0m1.5 -3h0m-1.5 17h0m0 -3h0m15.5 -36h0m-20 25.5h0m14.5 -3.5h0m-2.5 6h0m-9 2h0m0.5 -3h0m2 -28.5h0m14.5 8.5h0m-9 28.5h0m1.5 -12.5h0m-1.5 -8.5h0m1 12.5h0m5.5 -2.5h0m-26 -7.5h0m13 -1.5h0m1 -6h0m4 15.5h0m8.5 -13h0m-18 -7.5h0m-3 -10.5h0m2.5 18.5h0m19.5 -3h0m-16.5 15h0m13.5 -2h0m-8 5.5h0m-4.5 -7h0m11.5 8.5h0m0.5 -15h0m-6 8h0m-12.5 14h0m14.5 0.5h0m-16 -11h0m15.5 -6h0m-12.5 -12.5h0m-2.5 26h0m16 4h0m-12.5 -14.5h0m-2.5 -13.5h0m9 5.5h0m1.5 -13h0m-13.5 20.5h0m13 -3.5h0m3.5 -6h0m5.5 4h0m-24 7.5h0m31 -13.5h0m-29.5 22h0m24 -5.5h0m-11.5 -24h0m-4.5 37h0m8 -38h0m7 4h0m-7 35h0m-2 -11h0m-9.5 -14h0m0.5 15.5h0m3 3.5h0m5.5 -0.5h0m12.5 -16h0m0 -1.5h0m-1.5 5.5h0m-25 -15.5h0m15.5 -5.5h0m4.5 34h0m2 -34.5h0m-21.5 12.5h0m16 17h0m-0.5 3.5h0m-2.5 -13.5h0m8.5 -7.5h0m-15 -7h0m17 -5h0m-8.5 23.5h0m-3.5 -16.5h0m13.5 -5.5h0m-11.5 -1h0m-14 24h0m19 -8h0m-2.5 7h0m-3.5 -13.5h0m0 -17h0m1.5 22h0m13 5.5h0m-10 -13.5h0m9 15h0m0.5 -5.5h0m-9 1.5h0m-13 3.5h0m18 1h0m-14 -3h0m-3 -19.5h0m13.5 13.5h0m2.5 12h0m-7.5 6h0m5.5 -29.5h0m3.5 26h0m-3.5 -5h0m-1.5 8h0m-3 -10h0m-7 -19.5h0m6.5 4h0m-10 0.5h0m14.5 -1h0m-13.5 26h0m9.5 -8.5h0m-7 1h0m8.5 9.5h0m-8.5 2h0m8 -18.5h0m5 10h0m-5 8.5h0m5.5 -20.5h0m-3.5 -21h0m1.5 29h0m-12 4h0m11.5 -8h0m8 -21h0m-18 25h0m-6 5.5h0m-1.5 -13.5h0m15 21.5h0m-16.5 -24h0m5.5 11.5h0m7 -14.5h0m-1 -13h0m5.5 26h0m-11 -8h0m11.5 22h0m6.5 -37h0m-3 28.5h0m-24 -3h0m12 3h0m-6.5 -27.5h0m7.5 28h0m19 -12.5h0m-4.5 -13.5h0m-20.5 16h0m5.5 -9h0m18.5 3h0m-3 2.5h0m-19 17h0m4 -34h0m5.5 12.5h0m-12.5 11h0m1 -14h0m1 1h0m0 4.5h0m4 -9h0m17 -2.5h0m-8 -4.5h0m1.5 25.5h0m-7.5 -26.5h0m13 18h0m-12 0.5h0m-7.5 3h0m12.5 -13h0m-5 12.5h0m-15 3.5h0m5 -21h0m14 21.5h0m6 1h0m2.5 -10h0m-21.5 -3.5h0m17.5 6.5h0m-18 -5h0m6.5 5.5h0m-11 -0.5h0m0.5 3.5h0m17.5 -16h0m-1 27.5h0m-11 -19h0m11 22.5h0m-12 -22h0m9.5 -6h0m5 12h0m-10.5 -1.5h0m2.5 10.5h0m17 -9h0m-17 3h0m0.5 -7.5h0m8 -5h0m-15 19h0m4 3h0m1.5 -33h0m-8.5 26.5h0m7.5 16h0m14 -38.5h0m-8 22.5h0m-9.5 -15h0m4 17.5h0m10.5 -21h0m3 -4.5h0m-2.5 13.5h0m7 5.5h0m-25.5 -19h0m20.5 8.5h0m-17 3.5h0m2 20.5h0m0.5 -10h0m9.5 1h0m7 0h0m-18 7h0m2.5 -24h0m13.5 26h0m-12.5 3.5h0m-4.5 -31h0m10 28h0m13 -22h0m-16.5 0h0m-12 14h0m-1.5 -9.5h0m15 18.5h0m-13.5 -1h0m18 -30h0m-16.5 16.5h0m28 -10h0m-11.5 1h0m2 29.5h0m-8 0h0m-3.5 -17.5h0m7 -22.5h0m-4.5 10.5h0m15 14.5h0m-18.5 -8.5h0m0.5 16.5h0m15.5 -20h0m-25 -5.5h0m28 -6h0m-16.5 29h0m-10 -6h0m15 12h0m5 -18.5h0m-9 -9.5h0m7 18h0m1.5 -24.5h0m-12 31.5h0m5 -3h0m-8 -12.5h0m-2 -13.5h0m9.5 20.5h0m0.5 -13.5h0m9.5 4.5h0m1.5 -4.5h0m-17 22.5h0m13.5 0.5h0m-15.5 -3.5h0m1 -14h0m18.5 7.5h0m-7.5 -18h0m-5 -6h0m-4.5 4h0m9 -14.5h0m2.5 30.5h0m-16 9.5h0m7.5 -32.5h0m4.5 22h0m-6.5 -13h0m-7 -0.5h0m-1 11.5h0m7.5 -21.5h0m7 26h0m7 11h0m-4 -14h0m-2 9h0m-1 10.5h0m7.5 -41.5h0m-23.5 21h0m23.5 19h0m-7 1.5h0m3 -16h0m-14.5 -12h0m-1.5 8h0m27 -16.5h0m-2.5 16.5h0m-16.5 15h0m-1.5 -26h0m-1 24.5h0m4 -20h0m10 7h0m-11.5 12.5h0m6 -36h0m0 16.5h0m5.5 -9h0m-3 26.5h0m-4 -11h0m-4 10.5h0m-2 -9.5h0m10.5 12h0m-3 2h0m-13 -20.5h0m-2 16.5h0m8 -13.5h0m13 -20.5h0m5 23h0m-14 -19.5h0m8.5 10h0m-22.5 8.5h0m19.5 14.5h0m6 -18.5h0m1 10.5h0m-24.5 -12h0m6.5 -6.5h0m4 1h0m-1.5 21.5h0m11.5 3.5h0m-24 -12h0m4.5 -1h0m1 -11h0m5 24h0m13 -31.5h0m-6.5 29.5h0m6.5 -13h0m0 -12.5h0m-12.5 -2.5h0m10 6.5h0m-4.5 4h0m10 -16.5h0m-8 2.5h0m8.5 19.5h0m-4 -12h0m0 2h0m3.5 -11.5h0m7 17.5h0m-7.5 16h0m-21.5 -18.5h0m19 6.5h0m-25 -3.5h0m21.5 -13.5h0m-8.5 0.5h0m-1.5 8.5h0m1 8h0m11 -10h0m-13 0.5h0m22 4.5h0m-16.5 2.5h0m-1 -21h0m12 10h0m-21 -2h0m5.5 34.5h0m-4.5 -6h0m5 -16.5h0m3 -12.5h0m-9.5 -2h0m-2.5 27.5h0m15 -13.5h0m-7 16h0m16.5 -19.5h0m5.5 4h0m-11.5 23h0m-11 -8h0m17 -11h0m-21 2.5h0m8.5 10h0m8.5 -2h0m-14.5 -16h0m19.5 12h0m-26 9h0m4.5 -6.5h0m9.5 -24.5h0m6 -8h0m-10 17h0m13 -0.5h0m-16 0.5h0m5.5 7.5h0m-6.5 -21h0m20 28h0m2 -10.5h0m-9.5 -16.5h0m3 15h0m-1 0.5h0m-10.5 -18h0m-4 18h0m0.5 9h0m15 -27h0m-0.5 34.5h0m1 -16h0m-8.5 -6.5h0m10 21.5h0m3.5 -20h0m-10 -1.5h0m-5 -9h0m14 13.5h0m-9.5 1.5h0m-6 10h0m-5.5 2.5h0m6.5 1h0m2.5 -22.5h0m15.5 7h0m-26 18h0m19.5 7.5h0m-16.5 -17h0m15 -18h0m-6.5 16.5h0m1 15h0m-2 -18h0m-1 -7h0m2.5 -11h0m-4 35.5h0m5.5 -7h0m-14.5 1h0m0.5 -8h0m1 6h0m3.5 -7.5h0m-5.5 -22h0m9.5 32.5h0m8 -23h0m-12.5 -9h0m17.5 27h0m-12.5 5h0m16.5 -26.5h0m-4.5 -4h0m-12.5 23h0m-3.5 -12h0m-0.5 21h0m12 -28.5h0m-8.5 12.5h0m-6 -9h0m10 32h0m6.5 -34.5h0m-12.5 29.5h0m-2.5 -30.5h0m3.5 12.5h0m-4 0h0m4 5h0m5 10h0m-4.5 -19h0m-5 -2h0m-2 22.5h0m7.5 -15h0m-0.5 19h0m-3 -14.5h0m9.5 10h0m3 -28.5h0m10 13.5h0m-18 6h0m9 5.5h0m-16.5 -21h0m4 -0.5h0m5 3h0m-1 29.5h0m19 -20.5h0m-32 2.5h0m7 16.5h0m4 -41.5h0m9.5 42h0m-6 -14h0m-11 -1.5h0m10 -4h0m3 -8.5h0m-11 -11h0m2.5 4h0m14 19h0m-7.5 6.5h0m10 -32.5h0m7.5 14h0m-9 -5h0m0 -3h0m-18 21h0m0 -15h0m-2.5 4.5h0m19.5 9h0m-13 -6h0m17 -14.5h0m3 3h0m-2 12.5h0m-6.5 23h0m-12 -7h0m10 0.5h0m12 -19h0m-21 0.5h0m-7 9h0m29 -13h0m-29 17.5h0m16 -12.5h0m-4.5 8.5h0m-2.5 -28.5h0m5 25h0m5 10h0m-17 -8.5h0m17 -15.5h0m-8.5 3.5h0m9.5 -13h0m1 27h0m-8.5 12.5h0m8.5 3h0m-10.5 -21.5h0m-1.5 -0.5h0m5.5 -6.5h0m-12.5 11h0m9.5 -1h0m-5.5 14.5h0m13.5 2h0m2.5 -11.5h0m-10.5 4h0m-3.5 9h0m-4.5 -20h0m13 9.5h0m-10.5 -25.5h0m5.5 37.5h0m4 -16.5h0m7.5 -24.5h0m-12.5 -4.5h0m-3 30h0m0.5 -1.5h0m2.5 0h0m9.5 -8h0m-7.5 8h0m-7.5 -2h0m2.5 -21h0m21 10h0m-27.5 4h0m19 -17.5h0m-12 4.5h0m16 26h0m-16.5 -15h0m10 -1h0m5.5 -1h0m5.5 -3h0m-13.5 24.5h0m-4 -1.5h0m-5.5 -31h0m22.5 19.5h0m-9 14h0m7.5 -8h0m-19 -22.5h0m12.5 23.5h0m-17.5 -11.5h0m7.5 26h0m2 -37h0m-6 -5h0m14.5 27.5h0m-4 -26h0m-5 9h0m10 -7h0m-7.5 -3h0m-5 0h0m11 5h0m-1.5 28.5h0m3.5 -22.5h0m-21 20h0m3 5.5h0m14.5 1.5h0m7.5 -11h0m-19 -21.5h0m16 -6h0m-10.5 -4h0m-12.5 21.5h0m16 20h0m-6 -1.5h0m-7 -13h0m3.5 -10h0m-3.5 -1.5h0m9 -1.5h0m-9.5 -6h0m20 20.5h0m1 2h0m-14.5 -10.5h0m-77.5 -9.5h0m-4 -6h0m3 7h0m-2 -7h0m2 3.5h0m0 3h0m-1.5 -7h0m-5 2.5h0m9.5 5h0m-7.5 -4h0m6 3.5h0m-3 -2h0m-0.5 -0.5h0m-4 -8.5h0m3 8h0m2.5 3.5h0m-9 -12h0m1.5 4.5h0m4 1.5h0m-1.5 -1h0m3.5 4h0m-5.5 -6.5h0m-2 0.5h0m13 9h0m-4 -4h0m-6 -4h0m7 3.5h0m3 5h0m-5.5 -4.5h0m3 3.5h0m-6 -7.5h0m4 7.5h0m3.5 -2h0m1.5 3.5h0m-12.5 -9h0m7 1.5h0m-5.5 -3.5h0m7 6h0m3 1.5h0m-4 0.5h0m4 2h0m-8.5 -3h0m-5 -4h0m13 8.5h0m-9 -9h0m79 -25.5h0m1.5 15h0m1 -1h0m1 7h0m-0.5 -9h0m2.5 6.5h0m-4.5 -14h0m-2.5 -4h0m4.5 1.5h0m-2 1.5h0m4.5 10.5h0m-2.5 4.5h0m-1.5 -3.5h0m0.5 2h0m-1 -10.5h0m0.5 9h0m-2 -6h0m0.5 -2h0m1.5 0h0m2.5 14h0"/><path id="uN2" d="M258.5 216.5h0m1 3h0m-5.5 -2h0m-1 1h0m10.5 -1.5h0m-6 0h0m-1.5 -2h0m2 5h0m3.5 -3.5h0m-7 -3.5h0m5.5 3.5h0m-1 0h0m-3 2h0m2 -3.5h0m103.5 14h0m5 -6.5h0m0.5 7h0m-2.5 -2.5h0m-1.5 10h0m0.5 -4.5h0m3 1h0m2.5 -6h0m-0.5 3h0m-2 5h0m-3.5 -2h0m-0.5 -1.5h0m-0.5 4.5h0m4.5 -6.5h0m-74.5 0h0m-2.5 8h0m3.5 -5h0m-5.5 6h0m5 -3h0m-1 0h0m-6.5 -1h0m10 6h0m-5.5 -1.5h0m-1.5 6.5h0m-2 -9h0m5.5 -2h0m28 -134.5h0m33 -5h0m-38 -2h0m12.5 1.5h0m8.5 5h0m-18.5 -6.5h0m26.5 1h0m-4 -3h0m2 2.5h0m-11.5 15h0m-12.5 -5.5h0m-2 -12h0m18 -0.5h0m-7.5 0.5h0m3.5 -3.5h0m-7 7h0m7 1.5h0m-8.5 9h0m-2 -8h0m18.5 -3h0m-1.5 0h0m-6.5 9h0m-6 -9h0m15.5 5.5h0m-5.5 -3.5h0m-7.5 -11h0m9.5 9.5h0m3.5 12h0m-2.5 -16h0m-6 8h0m-20 -4.5h0m23.5 13h0m-6 -7h0m10 -3h0m-1 6h0m9 -4h0m-23.5 -2h0m9.5 -3.5h0m-6 15.5h0m-34 -16h0"/></defs>
<g fill="none" stroke-linecap="round" stroke-width="1.9">
<use href="#uM" stroke="#e8843a"/><use href="#uB" stroke="#ebe83c"/><use href="#uT" stroke="#4b63e0"/><use href="#uN" stroke="#e3255a"/><use href="#uN2" stroke="#e3255a"/>
</g>
<defs><path id="uR" d="M333.5 73.5h0m50 -3.5h0m-31 -27.5h0m20 20h0m-14.5 38h0m7 -40.5h0m6 -9h0m-8.5 54.5h0m63.5 -31.5h0m-94.5 -20.5h0m-1.5 10.5h0m31.5 -14h0m40 40.5h0m-15.5 -20h0m47 1.5h0m-68 -10.5h0m-20.5 -10.5h0m93 22.5h0m-66 16.5h0m2 -25.5h0m-33.5 -22h0m31 28h0m3 -18.5h0m60 21h0m-70 -4h0m32.5 26.5h0m-35 11.5h0m-3 -14h0m-14.5 -45.5h0m-15 7.5h0m8 2.5h0m29 12.5h0m-6.5 -15.5h0m6.5 48.5h0m-8 -60.5h0m-22.5 15h0m9 -6.5h0m23 41.5h0m-27.5 -47.5h0m-1 1h0m21.5 -3h0m-21 8.5h0m23.5 53h0m63.5 -30h0m3 0.5h0m-46.5 -14.5h0m47 11h0m-56 -11h0m-27.5 -21.5h0m23.5 19h0m-6.5 35.5h0m-32.5 -36h0m48.5 25.5h0m-54 -20.5h0m9 3h0m-6 -15h0m13 -15.5h0m-3.5 38.5h0m5.5 -18.5h0m24 37h0m8 5.5h0m-1.5 -43h0m62 17.5h0m-84.5 -21.5h0m-4.5 -1.5h0m21 47h0m-20.5 -15.5h0m17.5 22.5h0m59 -30h0m-83.5 -14.5h0m95.5 16.5h0m-64 -25.5h0m-4 1.5h0m-24.5 4h0m-3.5 11.5h0m93 3h0m-52.5 -12h0m-10.5 -13h0m-42.5 -1h0m49.5 21h0m-10.5 12.5h0m22.5 13h0m-45 -46.5h0m10 -5h0m-2.5 17h0m34.5 35.5h0m-37.5 -32h0m21.5 -6h0m6 35h0m-12.5 -7.5h0m19 -24h0m-24 1h0m-0.5 42h0m2 -34h0m-2.5 -8h0m22.5 4.5h0m6 21h0m-50.5 -24.5h0m-16.5 0h0m48.5 36h0m-29 -35.5h0m48.5 20h0m-32.5 -29h0m-18.5 -9.5h0m1.5 8h0m104 25.5h0m-64.5 -8h0m-9 34.5h0m-4.5 -3.5h0m-15 -47h0m11.5 38.5h0m-7.5 -51h0m-7 6.5h0m82.5 27.5h0m-62 -7h0m16.5 -1.5h0m-25 -28h0m3 61.5h0m-21 -59.5h0m32.5 7.5h0m-1.5 29.5h0m-31 -35h0m24.5 59.5h0m-21.5 -68h0m3.5 14h0m-7.5 13h0m15 40h0m76.5 -22h0m-60.5 5h0m33 17.5h0m-66.5 -45h0m33 35.5h0m-2.5 -21.5h0m-15.5 -31h0m-15 23.5h0m29.5 0h0m-23 -33h0m8 34.5h0m20.5 7.5h0m-30.5 -10.5h0m-11 4.5h0m55 -5.5h0m-34.5 25h0m-10 -16.5h0m21 9h0m-36 -28.5h0m26 -12.5h0m-21 33.5h0m51 -16h0m-42 8h0m54.5 27h0m-27.5 -41h0m-6 19h0m-26.5 -16.5h0m28.5 1h0m10.5 30.5h0m-19.5 -37.5h0m-10 3h0m15 -6.5h0m25.5 32h0m-23.5 -31h0m20.5 20h0m7.5 2.5h0m-23 -17h0m-20 35h0m-17 -10.5h0m30.5 -18.5h0m78 22.5h0m-8 3.5h0m-86.5 -30.5h0m18.5 -4.5h0m-6.5 58.5h0m17.5 -35h0m-42 -20.5h0m-0.5 0.5h0m2 -2h0m7.5 19h0m19 -12h0m2 3.5h0m-32.5 4h0m35.5 -3.5h0m41.5 47.5h0m-68.5 -41h0m66.5 39.5h0m-36 1h0m-18.5 -55h0m36 16.5h0m2 22h0m-24 21.5h0m69 -35.5h0m-62 -8.5h0m-28 -30.5h0m30 39.5h0m-29.5 -5h0m-10.5 -22.5h0m33.5 17h0m4.5 7h0m-34.5 -11.5h0m42.5 35h0m-51.5 -42h0m11.5 1h0m17.5 45.5h0m-11 -58.5h0m16.5 7h0m2.5 47.5h0m-2.5 5.5h0m29 -37.5h0m-52.5 6h0m6.5 -31.5h0m20.5 57.5h0m8 -36.5h0m16.5 30h0m-9 -23.5h0m-51.5 -16.5h0m46.5 45h0m-1 -43.5h0m12.5 13.5h0m-48 -6.5h0m59.5 43h0m-16 -8h0m-28.5 -46h0m27.5 15.5h0m-13 3h0m-14 -8h0m-17.5 10h0m4.5 -1h0m1.5 -27h0m42.5 31.5h0m-38.5 -32.5h0m-8.5 23.5h0m64 40.5h0m-37 -41h0m0 9h0m59.5 6h0m-61 29.5h0m17.5 -33h0m-39 -19h0m11.5 -15.5h0m2.5 23h0m27 3h0m-37.5 -24h0m30 52.5h0m-28.5 -16.5h0m29 -12.5h0m-36.5 -1.5h0m2.5 30.5h0m9.5 -39.5h0m19 20.5h0m-3 28.5h0m-14 -44.5h0m-26.5 18h0m107.5 1.5h0m-47.5 -19h0m-54 -14.5h0m32 66h0m-17 -43h0m28 -1.5h0m-3.5 37.5h0m16.5 -16.5h0m-33.5 8.5h0m15.5 -35.5h0m64.5 22.5h0m-54.5 -6h0m-16.5 -15h0m-30 -10.5h0m23 -3h0m15.5 50h0m-33.5 -38.5h0m22 27h0m-9.5 -40.5h0m35 35.5h0m-23 -20.5h0m-3.5 -18h0m0 19.5h0m19.5 33.5h0m-9 9.5h0m-27 -22.5h0m-2 -17h0m-3 -19h0m11.5 -4h0m14 32h0m-17 -16.5h0m19 -4.5h0m2 1h0m-25.5 -5.5h0m-6.5 14.5h0m26 34.5h0m-32 -43.5h0m4.5 -7h0m92 32.5h0m-66 -38.5h0m21.5 34h0m-48 -27.5h0m0 10h0m33 36.5h0m-13 -23.5h0m16 -9.5h0m-29.5 27.5h0m37.5 -15h0m-3.5 19h0m18.5 6h0m-14 -3h0m-50 -33.5h0m70 39.5h0m-21 -46.5h0m-19 10h0m5 38.5h0m22 -36h0m-25 31h0m6 -47.5h0m-38 10.5h0m30 44.5h0m4 -28h0m-5.5 23h0m25 -41h0m-36 -13h0m17 16h0m-28 -2.5h0m68.5 39h0m-58.5 -66.5h0m-13.5 26.5h0m25 4h0m79 9.5h0m-62 34.5h0m-39.5 -38.5h0m34 24h0m54 -10h0m-50 -8h0m-6.5 -27h0m-28.5 23h0m16.5 -42.5h0m8 31.5h0m-19 -18.5h0m1.5 14h0m16.5 -7.5h0m-27 6.5h0m8 -13h0m21 38h0m8.5 -29h0m6 37h0m-29.5 -53.5h0m0.5 8.5h0m-6 21.5h0m-10 -4h0m14 -1h0m13.5 5.5h0m25 19h0m-12 20.5h0m-33.5 -23.5h0m10 -49h0m-7 9h0m23 53h0m12.5 -22h0m-13.5 22.5h0m-18.5 -31h0m14 39.5h0m2 -4.5h0m18 0.5h0m-52 -43.5h0m43 40.5h0m11 -32h0m-14 43.5h0m-27 -22h0m37.5 13h0m-18.5 -26.5h0m10.5 38h0m-10 -39h0m22 -10h0m-10.5 -12h0m-27.5 2.5h0m1 -11.5h0m33.5 15h0m1 17.5h0m-45.5 -8h0m9 -11.5h0m21.5 2.5h0m16.5 8h0m-32 -8h0m9 48h0m-11 -18.5h0m15.5 13h0m-45 10.5h0m68 33.5h0m-16.5 12h0m-63.5 -10.5h0m-29 15.5h0m-22 8h0m108 77h0m7 -92.5h0m-48 11.5h0m-112 -80h0m102 131.5h0m48 31h0m30 -90.5h0m-142 2.5h0m-18 -82h0m-9.5 122.5h0m27 -55h0m-28.5 62h0m51 -60.5h0m-60.5 -46.5h0m13 -24.5h0m99 42h0m-81 27.5h0m74 35h0m-71 -37h0m112 45h0m-14.5 -54.5h0m-94.5 57h0m23 -28.5h0m11 41h0m136.5 -82.5h0m-96.5 10.5h0m-102.5 -44.5h0m150 83h0m-51 19h0m56 -41.5h0m-149.5 53.5h0m31.5 26.5h0m166.5 -109h0m-205 -44h0m10 2.5h0m21.5 123h0m39.5 -57h0m36.5 11h0m19.5 -16h0m-129.5 -39.5h0m202.5 4.5h0m-207.5 -7h0m96 47h0m-51 -2h0m74 34h0m-120.5 -90.5h0m105 135.5h0m-98 -140.5h0m53.5 93.5h0m3.5 29.5h0m-19.5 -58h0m55 38h0m21 -24.5h0m37.5 -8h0m-110 -24.5h0m55.5 69h0m0.5 20.5h0m-31.5 -107h0m-86 -8.5h0m151 11h0m41.5 52h0m-84 -58h0m32.5 50.5h0m-22 49.5h0m-42 -97.5h0m47.5 63h0m-33 -25h0m39.5 40h0m-54.5 6h0m12.5 -69.5h0m57 -12h0m-136 -27h0m18 121.5h0m126.5 -86.5h0m-132 11h0m5 0.5h0m27 42.5h0m12.5 47h0m59.5 -16h0m-83 -45h0m16.5 15.5h0m105.5 -40.5h0m-115 27h0m76.5 -10h0m16 -33.5h0m-22 26h0m-98.5 -1h0m127 -38.5h0m-116.5 -29h0m52.5 171.5h0m33.5 -94.5h0m35.5 -6.5h0m-135.5 -50h0m169.5 45.5h0m-68.5 13h0m-16 -8h0m61 -15.5h0m-29.5 43h0m52 -19.5h0m-158 55h0m64 -62h0m-72.5 -54.5h0m2 -18.5h0m23 78h0m49.5 -48.5h0m30 73h0m-30.5 -18h0m31 -18.5h0m-74 62h0m16.5 25h0m21 -105h0m32.5 10.5h0m-4.5 51h0m-36 -71.5h0m-5.5 67h0m-63.5 -100.5h0m161 109h0m-80.5 61.5h0m38.5 -96.5h0m-57.5 -40.5h0m153 0h0m-72.5 54h0m-108 -22h0m68.5 24h0m-57.5 -5h0m-31 -56h0m110 33.5h0m16 -24h0m-141 -21.5h0m-7 34.5h0m14.5 31h0m80.5 21.5h0m66.5 -39.5h0m-62 -32h0m10.5 8h0m-39.5 34.5h0m61 50h0m-15.5 -89h0m44 59h0m-85.5 -1.5h0m-66.5 -6h0m22.5 -7.5h0m107.5 -53.5h0m-36 22h0m47.5 52h0m4.5 -13h0m-50.5 -27h0m55 37h0m-131 -52.5h0m113.5 59h0m-84.5 -29.5h0m80.5 -38h0m-108.5 14h0m10.5 44.5h0m142 -11.5h0m4 -22h0m-6 -16.5h0m3.5 41.5h0m-165.5 -16.5h0m94 7.5h0m-31 -55h0m-4 72.5h0m36.5 -53.5h0m-93.5 -17h0m121.5 15.5h0m-135.5 -31h0m81 90.5h0m38.5 -11.5h0m-73 9.5h0m42 -24.5h0m-1.5 101.5h0m-73.5 -154h0m144 156h0m-13.5 -96h0m-73 -38h0m-2 41h0m-34.5 -26.5h0m130 5h0m-55 20h0m-86 -80h0m108.5 56h0m-15.5 44.5h0m-4.5 -59.5h0m-79.5 49h0m86 -65.5h0m-43 13.5h0m106.5 38.5h0m-132 1.5h0m85 -38h0m23 128.5h0m-123 -98h0m141.5 -7h0m-78.5 -30.5h0m-12 96h0m-48.5 -34.5h0m-25.5 -49h0m122 60.5h0m-48.5 -46h0m74 104.5h0m-85.5 1.5h0m94.5 -2h0m-60.5 -116.5h0m-78 12.5h0m71.5 48.5h0m19.5 -39h0m-46.5 9h0m93 23h0m-157.5 -63h0m-7 -21.5h0m49.5 62h0m-7.5 -11h0m82.5 9.5h0m-47 -17.5h0m19 33.5h0m76 -18.5h0m-135.5 15h0m8.5 -20h0m69.5 -19.5h0m-10 30h0m48 0h0m-4.5 -30.5h0m-93.5 33.5h0m53 32h0m13.5 -44.5h0m-44.5 -32.5h0m56 30.5h0m30.5 11.5h0m-159.5 8.5h0m68 -15.5h0m-35 17h0m74.5 7h0m-106 -86.5h0m20.5 24h0m77.5 18.5h0m-107 -44.5h0m147.5 73h0m-36 12.5h0m-102.5 -74.5h0m110.5 61.5h0m59.5 -23h0m-114.5 -7.5h0m-60.5 -30h0m95 22.5h0m-83.5 -29.5h0m61.5 10.5h0m109 43.5h0m-185 -48.5h0m185.5 43h0m-68 48h0m1.5 -65h0m-56.5 103.5h0m58 -64.5h0m-26 -16.5h0m-51 18h0m121 -16h0m-62.5 31.5h0m-99.5 -90h0m104 70h0m-42 -9h0m26 -17.5h0m22.5 47h0m27 -60h0m13.5 17.5h0m-5 -26h0m-12 24.5h0m14.5 5h0m-146.5 -66.5h0m112 126.5h0m-19 -68.5h0m-33.5 14.5h0m-63.5 -67.5h0m145 53.5h0m-102 11.5h0m60.5 -20h0m-91.5 -48.5h0m156 82h0m-50 -33h0m50.5 47.5h0m-112.5 2h0m4.5 -25h0m39.5 5.5h0m-25.5 -38h0m85.5 56h0m-80 28h0m35.5 -4h0m-102.5 -97h0m24.5 67h0m-11 -37h0m11 44h0m-30 -78h0m137 34.5h0m-114.5 32h0m-44 -5.5h0m-97.5 -16.5h0m-3.5 -24h0m79 -7h0m-78 18.5h0m14 59.5h0m102.5 -65h0m-24 -30.5h0m-78.5 63h0m18.5 -30h0m-25 60.5h0m15.5 -64.5h0m-8.5 19.5h0m-21.5 29h0m0 0h0m30.5 -32.5h0m9 89.5h0m-23 -95.5h0m29.5 -9.5h0m-19.5 19h0m4 -17h0m-1.5 28.5h0m50.5 2.5h0m-79.5 -17.5h0m61.5 -1h0m-53 -11h0m96.5 5h0m-84.5 35h0m-2.5 4h0m101.5 -34.5h0m-34.5 -22.5h0m-56.5 13h0m76.5 11h0m3.5 2h0m-29.5 -14h0m-55.5 51h0m46 -59.5h0m-40 4h0m30 33.5h0m29 -44h0m-23.5 13.5h0m-63.5 18h0m81.5 -12h0m-8.5 -16.5h0m39 9h0m-88 80h0m26.5 -82h0m11.5 14h0m-2.5 11.5h0m23 -13h0m-89.5 -1h0m19 28.5h0m29 -27.5h0m-38.5 14h0m47.5 8.5h0m42 -33h0m-78.5 7h0m57.5 14h0m18.5 -2h0m-66 34.5h0m-6.5 -10h0m190.5 159h0m-1.5 8h0m9 0.5h0m7 1.5h0m-12.5 -4h0m-9 -0.5h0m-71.5 -29.5h0m78 38h0m-86 -43.5h0m102 35h0m-7.5 -30h0m4 22.5h0m1.5 6h0m3 -0.5h0m2.5 -2h0m-5 1.5h0m-11 5h0m-3 -19h0m15 4h0m-97.5 -13.5h0m86.5 37.5h0m-12 -33.5h0m7.5 26.5h0m-74 -30h0m77 17h0m1.5 0.5h0m-3 -29.5h0m-4.5 -14h0m19 41h0m-15 21.5h0"/></defs>
<g transform="translate(582 28) scale(1 0.914) translate(0 -24)" fill="none" stroke-linecap="round" stroke-width="1.9">
<g stroke="#d0d0d0"><use href="#uM"/><use href="#uB"/><use href="#uT"/><use href="#uN"/><use href="#uN2"/></g>
<use href="#uR" stroke="#b5225a" stroke-width="1.7"/>
</g>
</svg></body></html>
